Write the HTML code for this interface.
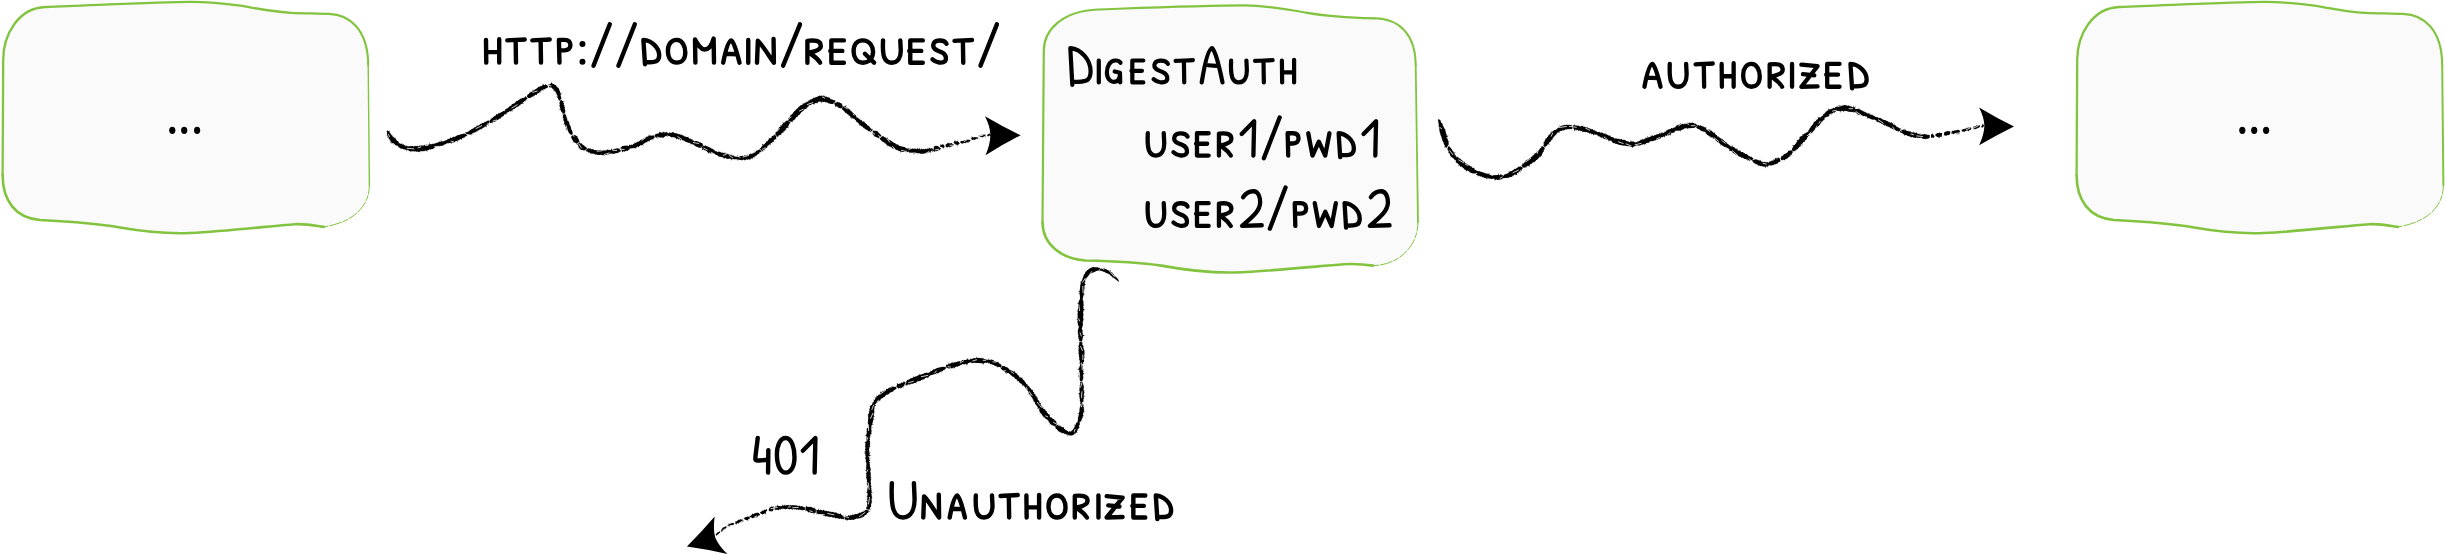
<!DOCTYPE html>
<html><head><meta charset="utf-8"><style>
html,body{margin:0;padding:0;background:#fff;width:2445px;height:554px;overflow:hidden;font-family:"Liberation Sans",sans-serif;}
svg{display:block}
</style></head><body>
<svg width="2445" height="554" viewBox="0 0 2445 554"><g><path d="M2.6,175 L3.2,60 C3.2,35 18,8 45.5,7 C100,5 160,2 190,1.9 C210,1.8 225,3.5 240.5,5.7 C255,8 275,12 291,12.8 C305,13.3 320,13.5 329,13.9 C350,14.5 368,30 368.2,65 L369.4,185 C369.5,205 355,222 324,226.9 C312,225 305,223.5 295,224.2 C270,226 230,231 190,233 C165,234 140,231 120,227.5 C95,223 70,221.5 40,220 C15,218 2.5,200 2.6,175 Z" fill="#fafafa" stroke="none"/><path d="M2.6,175 L3.2,60 C3.2,35 18,8 45.5,7 C100,5 160,2 190,1.9 C210,1.8 225,3.5 240.5,5.7 C255,8 275,12 291,12.8 C305,13.3 320,13.5 329,13.9" fill="none" stroke="#82c340" stroke-width="2.3" stroke-linecap="round"/><path d="M329,13.9 C350,14.5 368,30 368.2,65" fill="none" stroke="#82c340" stroke-width="2.1" stroke-linecap="round"/><path d="M368.2,65 L369.4,185" fill="none" stroke="#82c340" stroke-width="1.4" stroke-linecap="round"/><path d="M369.4,185 C369.5,205 355,222 324,226.9" fill="none" stroke="#82c340" stroke-width="1.0" stroke-linecap="round" stroke-dasharray="9 2 5 2 12 2"/><path d="M324,226.9 C312,225 305,223.5 295,224.2 C270,226 230,231 190,233 C165,234 140,231 120,227.5 C95,223 70,221.5 40,220 C15,218 2.5,200 2.6,175" fill="none" stroke="#82c340" stroke-width="2.6" stroke-linecap="round"/></g><g><path d="M1042.5,222 L1043.8,50.5 C1044,30 1062,11 1098,9.5 C1140,8 1200,5.5 1245,5.4 C1265,5.5 1285,9 1305.8,12.6 C1325,16 1340,17.5 1375,18.3 C1400,19 1415.5,35 1415.7,65 L1418,222 C1418,245 1400,265 1373,265.6 C1365,264.5 1355,263.6 1343.7,264.3 C1310,267 1270,271 1234.6,272.5 C1210,273 1185,270 1161.4,265.6 C1140,262.5 1110,261 1085.5,260.5 C1062,259 1042.6,245 1042.5,222 Z" fill="#fafafa" stroke="none"/><path d="M1042.5,222 L1043.8,50.5 C1044,30 1062,11 1098,9.5 C1140,8 1200,5.5 1245,5.4 C1265,5.5 1285,9 1305.8,12.6 C1325,16 1340,17.5 1375,18.3" fill="none" stroke="#82c340" stroke-width="2.2" stroke-linecap="round"/><path d="M1375,18.3 C1400,19 1415.5,35 1415.7,65" fill="none" stroke="#82c340" stroke-width="2.0" stroke-linecap="round"/><path d="M1415.7,65 L1418,222" fill="none" stroke="#82c340" stroke-width="1.8" stroke-linecap="round"/><path d="M1418,222 C1418,245 1400,265 1373,265.6" fill="none" stroke="#82c340" stroke-width="1.0" stroke-linecap="round" stroke-dasharray="9 2 5 2 12 2"/><path d="M1373,265.6 C1365,264.5 1355,263.6 1343.7,264.3 C1310,267 1270,271 1234.6,272.5 C1210,273 1185,270 1161.4,265.6 C1140,262.5 1110,261 1085.5,260.5 C1062,259 1042.6,245 1042.5,222" fill="none" stroke="#82c340" stroke-width="2.6" stroke-linecap="round"/></g><g transform="translate(2074,0)"><path d="M2.6,175 L3.2,60 C3.2,35 18,8 45.5,7 C100,5 160,2 190,1.9 C210,1.8 225,3.5 240.5,5.7 C255,8 275,12 291,12.8 C305,13.3 320,13.5 329,13.9 C350,14.5 368,30 368.2,65 L369.4,185 C369.5,205 355,222 324,226.9 C312,225 305,223.5 295,224.2 C270,226 230,231 190,233 C165,234 140,231 120,227.5 C95,223 70,221.5 40,220 C15,218 2.5,200 2.6,175 Z" fill="#fafafa" stroke="none"/><path d="M2.6,175 L3.2,60 C3.2,35 18,8 45.5,7 C100,5 160,2 190,1.9 C210,1.8 225,3.5 240.5,5.7 C255,8 275,12 291,12.8 C305,13.3 320,13.5 329,13.9" fill="none" stroke="#82c340" stroke-width="2.3" stroke-linecap="round"/><path d="M329,13.9 C350,14.5 368,30 368.2,65" fill="none" stroke="#82c340" stroke-width="2.1" stroke-linecap="round"/><path d="M368.2,65 L369.4,185" fill="none" stroke="#82c340" stroke-width="2.0" stroke-linecap="round"/><path d="M369.4,185 C369.5,205 355,222 324,226.9" fill="none" stroke="#82c340" stroke-width="1.0" stroke-linecap="round" stroke-dasharray="9 2 5 2 12 2"/><path d="M324,226.9 C312,225 305,223.5 295,224.2 C270,226 230,231 190,233 C165,234 140,231 120,227.5 C95,223 70,221.5 40,220 C15,218 2.5,200 2.6,175" fill="none" stroke="#82c340" stroke-width="2.6" stroke-linecap="round"/></g><ellipse cx="172.3" cy="130.3" rx="4.2" ry="4.6" fill="#fff"/><ellipse cx="172.3" cy="130.3" rx="3.1" ry="3.6" fill="#000"/><ellipse cx="184.2" cy="130.3" rx="4.2" ry="4.6" fill="#fff"/><ellipse cx="184.2" cy="130.3" rx="3.1" ry="3.6" fill="#000"/><ellipse cx="197.1" cy="130.3" rx="4.2" ry="4.6" fill="#fff"/><ellipse cx="197.1" cy="130.3" rx="3.1" ry="3.6" fill="#000"/><ellipse cx="2242.3" cy="130.3" rx="4.2" ry="4.6" fill="#fff"/><ellipse cx="2242.3" cy="130.3" rx="3.1" ry="3.6" fill="#000"/><ellipse cx="2254.2" cy="130.3" rx="4.2" ry="4.6" fill="#fff"/><ellipse cx="2254.2" cy="130.3" rx="3.1" ry="3.6" fill="#000"/><ellipse cx="2266.1" cy="130.3" rx="4.2" ry="4.6" fill="#fff"/><ellipse cx="2266.1" cy="130.3" rx="3.1" ry="3.6" fill="#000"/><path d="M386.9,130.8 L387.1,131.1 L386.6,131.7 L386.7,132.2 L387.3,132.4 L387.0,132.9 L387.1,133.4 L386.7,134.0 L387.4,134.1 L387.1,134.7 L386.3,135.6 L387.6,135.5 L387.6,136.0 L388.0,136.3 L386.9,137.5 L388.1,137.2 L388.6,137.4 L388.7,137.9 L388.9,138.4 L388.7,139.1 L389.4,139.2 L389.6,139.6 L389.9,140.0 L389.7,140.8 L390.4,140.6 L390.6,141.0 L390.9,141.3 L389.8,143.0 L391.1,142.3 L391.7,142.4 L391.8,142.9 L391.3,144.1 L392.8,143.1 L393.1,143.4 L393.1,144.0 L393.9,143.9 L393.7,144.7 L394.2,144.8 L394.7,144.9 L395.0,145.2 L395.4,145.4 L395.8,145.7 L396.5,145.5 L396.9,145.7 L397.4,145.8 L399.0,143.0 L398.9,142.5 L398.5,142.4 L398.5,141.8 L398.3,141.4 L398.0,141.2 L397.8,140.9 L397.3,140.9 L396.9,140.8 L396.6,140.5 L396.8,139.8 L396.3,139.7 L396.0,139.5 L395.7,139.2 L395.9,138.5 L395.8,138.1 L395.0,138.4 L394.6,138.2 L394.8,137.4 L394.0,137.7 L393.7,137.4 L393.6,137.0 L393.4,136.7 L392.8,136.8 L392.6,136.4 L392.6,135.9 L392.6,135.6 L391.9,135.7 L391.9,135.2 L391.5,135.1 L391.0,134.9 L391.4,134.3 L391.0,134.1 L390.9,133.7 L390.6,133.4 L390.0,133.3 L389.6,133.1 L390.0,132.4 L389.5,132.2 L389.4,131.9 L389.7,131.3 L389.8,130.8 L387.9,131.2 L387.8,130.7 L387.8,130.3Z M397.2,145.1 L397.6,145.4 L397.8,145.8 L398.0,146.4 L398.4,146.5 L398.5,147.4 L399.2,147.1 L399.3,147.8 L399.8,147.9 L400.2,148.3 L400.5,148.8 L401.2,148.2 L401.4,149.0 L402.1,148.5 L402.5,148.7 L402.9,149.3 L403.4,149.0 L403.8,149.5 L404.2,149.6 L404.7,149.3 L405.1,149.8 L405.6,149.5 L406.0,149.7 L406.6,149.3 L407.1,148.9 L406.4,146.8 L406.0,146.7 L405.8,145.9 L405.5,145.5 L405.2,145.5 L404.8,145.2 L404.5,145.3 L404.0,145.4 L404.1,143.9 L403.5,144.6 L403.2,144.6 L402.9,144.3 L402.4,144.9 L402.2,144.1 L402.5,142.7 L401.5,144.1 L401.1,144.1 L401.1,143.5 L400.6,143.7 L400.2,143.7 L399.9,143.5 L399.7,143.1 L399.0,143.6 L398.4,143.7 L398.1,143.4Z M406.4,149.7 L406.5,151.7 L407.3,149.7 L407.7,149.8 L408.0,150.5 L408.5,150.1 L408.8,150.8 L409.2,150.7 L409.6,151.2 L410.1,150.9 L410.3,152.7 L410.9,151.0 L411.3,151.3 L411.7,151.6 L412.1,150.9 L412.5,151.3 L412.9,151.7 L413.4,151.1 L413.8,151.5 L414.2,151.5 L414.6,151.4 L415.0,151.2 L415.4,151.6 L415.9,151.3 L416.3,151.4 L416.7,152.0 L417.1,151.8 L417.5,151.5 L418.0,151.8 L418.4,151.9 L418.8,151.8 L419.3,152.4 L419.7,151.6 L420.1,151.8 L420.5,151.1 L420.9,151.3 L421.4,151.5 L421.8,151.0 L422.2,151.0 L422.7,151.5 L423.0,151.1 L423.5,151.3 L423.9,151.3 L424.4,151.3 L424.7,150.8 L425.1,150.7 L425.5,150.8 L425.9,150.4 L426.3,150.4 L427.1,151.9 L427.3,150.9 L427.5,149.8 L427.9,150.1 L428.3,150.1 L428.8,150.1 L429.1,149.7 L429.4,149.3 L429.9,149.6 L430.3,149.5 L430.7,149.6 L431.0,149.1 L431.5,149.4 L431.8,148.9 L432.3,149.1 L432.6,148.9 L433.2,149.6 L433.3,148.3 L433.7,148.2 L434.2,148.4 L434.3,147.4 L434.8,147.4 L435.2,147.4 L435.5,147.0 L435.8,146.8 L435.0,144.1 L434.3,143.4 L434.0,143.8 L433.7,144.2 L433.1,143.6 L432.7,143.6 L432.4,144.1 L432.0,143.9 L431.7,144.4 L431.2,144.1 L430.7,144.0 L430.3,143.9 L430.1,144.7 L429.1,142.3 L429.2,144.7 L428.8,144.7 L428.4,144.7 L427.9,144.3 L427.7,145.0 L427.3,145.2 L426.7,144.6 L426.3,144.5 L426.0,145.2 L425.6,145.2 L425.1,144.7 L424.7,144.8 L424.4,145.1 L424.1,145.6 L423.7,145.8 L423.2,145.3 L422.8,145.4 L422.4,145.3 L422.1,145.9 L421.7,145.6 L421.3,145.6 L420.8,144.4 L420.6,145.9 L420.2,146.3 L419.8,145.9 L419.4,145.5 L419.0,145.5 L418.7,146.3 L418.3,146.4 L417.9,146.0 L417.5,145.6 L417.1,146.5 L416.7,145.8 L416.3,146.3 L415.9,145.8 L415.5,146.3 L415.1,145.9 L414.7,145.8 L414.3,146.4 L413.9,146.3 L413.5,146.4 L413.1,146.5 L412.8,146.0 L412.4,145.7 L412.0,146.3 L411.6,146.2 L411.2,145.8 L410.8,146.6 L410.4,145.9 L410.0,146.1 L409.6,146.1 L409.2,146.4 L408.8,146.4 L408.4,146.1 L408.0,146.4 L407.7,145.8 L407.2,146.2 L406.8,146.4 L406.8,144.7 L406.0,146.5Z M435.3,146.7 L435.7,146.8 L436.1,146.7 L436.6,146.8 L437.0,146.9 L437.5,147.0 L437.9,146.8 L438.2,146.4 L438.7,146.5 L439.2,146.8 L439.6,146.7 L440.0,146.6 L440.3,146.4 L440.7,146.1 L441.1,146.0 L441.5,145.8 L441.9,145.7 L442.3,145.7 L442.8,145.7 L443.1,145.4 L443.5,145.5 L443.7,144.7 L444.1,144.5 L444.6,144.7 L444.9,144.3 L445.3,144.1 L444.3,141.4 L443.7,141.0 L443.4,141.4 L442.9,141.1 L442.6,141.6 L442.2,141.7 L441.7,141.3 L440.8,140.0 L440.8,141.3 L440.6,141.9 L440.2,141.9 L439.6,141.5 L439.3,141.7 L438.8,141.7 L438.6,142.3 L438.2,142.5 L437.9,142.8 L437.3,142.3 L437.0,142.7 L436.7,143.2 L436.2,142.8 L435.8,143.0 L435.5,143.4 L435.1,143.3 L434.7,143.6 L434.5,144.5Z M444.9,144.5 L445.3,144.2 L445.6,143.9 L446.2,144.3 L446.4,143.7 L446.7,143.3 L447.2,143.3 L447.6,143.2 L448.1,143.3 L448.5,143.2 L448.9,143.2 L449.3,143.1 L449.8,143.2 L450.1,142.7 L450.7,143.0 L451.5,144.1 L451.6,143.0 L451.8,142.4 L452.3,142.6 L452.7,142.5 L453.2,142.6 L453.6,142.4 L454.1,142.5 L454.4,142.2 L454.8,142.1 L455.0,141.4 L455.4,141.2 L455.9,141.3 L456.3,141.2 L456.6,140.7 L457.8,142.6 L457.4,140.5 L457.9,140.6 L458.4,140.6 L458.6,140.1 L459.0,140.0 L459.3,139.6 L459.8,139.7 L460.2,139.3 L460.5,139.0 L461.1,139.3 L461.7,139.9 L461.9,139.2 L462.0,138.2 L462.4,138.1 L463.0,138.5 L463.4,138.3 L463.5,137.5 L464.1,137.7 L464.4,137.4 L464.8,137.2 L465.0,136.7 L465.3,136.3 L465.8,136.4 L466.3,136.4 L466.5,135.8 L467.0,136.0 L467.1,135.2 L467.7,135.6 L464.9,133.4 L464.6,133.6 L464.3,133.8 L463.6,133.4 L463.4,133.8 L463.1,134.1 L462.5,133.7 L462.3,134.1 L461.8,134.0 L461.6,134.5 L461.0,134.1 L460.7,134.3 L460.3,134.6 L459.9,134.6 L459.6,134.9 L459.3,135.1 L458.8,134.8 L458.5,135.3 L458.0,135.1 L457.6,135.1 L457.5,135.8 L456.9,135.4 L456.6,135.7 L456.2,135.7 L455.8,135.7 L455.6,136.4 L455.2,136.5 L454.8,136.4 L454.5,136.6 L454.1,136.9 L453.6,136.5 L453.3,136.9 L453.1,137.3 L452.5,137.0 L452.4,137.7 L451.9,137.7 L451.5,137.7 L451.3,138.2 L450.7,137.8 L450.0,137.0 L450.1,138.2 L449.8,138.7 L449.3,138.5 L449.1,139.1 L448.7,139.0 L448.2,138.8 L447.8,138.9 L447.5,139.2 L447.3,139.6 L447.0,140.0 L446.5,139.8 L446.3,140.5 L445.9,140.4 L445.5,140.5 L444.9,140.0 L444.8,141.0 L444.5,141.1 L444.1,141.1 L443.6,141.0Z M468.0,134.6 L468.4,134.5 L468.6,134.2 L469.1,134.3 L469.6,134.5 L470.1,134.5 L470.4,134.4 L471.4,135.7 L471.1,134.1 L471.4,133.8 L472.4,134.9 L472.0,133.3 L472.3,133.0 L472.9,133.5 L473.2,133.3 L473.6,133.2 L473.6,132.4 L474.0,132.3 L474.8,132.9 L474.8,132.2 L475.2,132.2 L475.7,132.3 L475.9,131.8 L476.1,131.5 L476.4,131.2 L477.1,131.7 L477.3,131.4 L477.5,130.8 L477.8,130.6 L478.2,130.6 L478.5,130.3 L478.8,130.2 L479.2,130.1 L479.5,129.8 L479.8,129.6 L480.3,129.7 L480.4,129.1 L481.1,129.6 L481.3,129.2 L481.6,128.9 L481.9,128.7 L482.1,128.2 L482.7,128.5 L482.9,128.1 L483.0,127.6 L483.7,128.0 L483.8,127.5 L484.0,127.0 L484.6,127.4 L484.6,126.6 L485.0,126.5 L485.3,126.2 L486.4,127.5 L486.5,126.9 L486.6,126.2 L486.4,125.3 L486.9,125.3 L487.0,124.8 L487.4,124.7 L487.8,124.7 L488.9,125.8 L488.2,123.8 L488.7,124.0 L489.0,123.8 L489.1,123.1 L489.9,120.7 L489.4,120.7 L488.6,120.3 L488.5,120.8 L487.9,120.7 L487.3,120.6 L487.3,121.3 L486.5,120.9 L486.4,121.6 L486.1,121.8 L485.7,122.1 L484.9,121.6 L484.6,121.9 L484.5,122.5 L484.0,122.4 L483.7,122.8 L483.4,123.1 L482.7,122.8 L482.5,123.3 L481.6,122.7 L481.7,123.6 L481.5,124.1 L480.8,123.8 L480.5,124.1 L480.0,124.1 L479.8,124.6 L479.5,124.9 L479.1,125.0 L478.7,125.3 L478.5,125.7 L477.8,125.4 L477.7,126.0 L476.6,124.8 L476.8,126.1 L476.5,126.6 L476.0,126.5 L475.8,127.0 L475.4,127.2 L474.8,126.9 L474.4,127.1 L474.4,127.9 L473.8,127.7 L473.6,128.3 L473.2,128.5 L472.9,128.7 L472.4,128.7 L472.0,128.8 L471.5,128.8 L471.4,129.5 L471.0,129.8 L470.5,129.7 L470.2,130.0 L469.6,129.8 L469.5,130.5 L469.1,130.7 L468.8,131.2 L468.3,131.0 L468.0,131.4 L467.6,131.5 L467.3,131.8 L466.9,132.0 L466.5,132.2 L466.1,132.2 L465.4,131.8 L465.7,133.5Z M489.8,123.5 L490.6,124.1 L490.6,123.2 L490.9,122.9 L491.5,123.0 L491.7,122.6 L492.9,123.7 L492.4,122.1 L493.0,122.2 L493.3,122.0 L493.7,121.8 L494.1,121.7 L494.8,122.1 L495.0,121.5 L495.4,121.4 L495.8,121.2 L496.2,121.0 L496.3,120.4 L496.8,120.3 L497.1,120.0 L497.5,120.0 L498.1,120.0 L498.3,119.5 L498.7,119.5 L498.8,118.8 L499.3,118.8 L499.8,118.8 L500.3,118.8 L500.4,118.2 L501.0,118.3 L501.1,117.7 L501.3,117.2 L501.6,117.0 L502.0,116.7 L502.5,116.7 L502.7,116.2 L503.2,116.2 L503.5,116.0 L503.7,115.5 L504.0,115.2 L504.1,114.6 L504.3,114.2 L505.0,114.5 L505.4,114.3 L505.7,114.0 L506.0,113.7 L504.8,110.6 L504.5,110.7 L504.3,111.2 L503.8,111.1 L503.4,111.1 L502.7,110.9 L502.8,111.8 L502.4,111.8 L502.1,112.1 L501.5,111.9 L501.3,112.3 L500.8,112.3 L500.5,112.5 L500.4,113.1 L500.0,113.1 L499.6,113.2 L498.8,112.7 L498.8,113.5 L498.3,113.4 L497.9,113.5 L497.7,113.9 L497.5,114.4 L497.1,114.5 L496.3,114.0 L495.8,113.9 L496.2,115.1 L495.7,115.2 L495.6,115.8 L495.2,115.8 L495.0,116.3 L494.3,115.9 L494.0,116.1 L493.8,116.4 L493.7,117.1 L493.1,116.9 L493.1,117.6 L492.6,117.5 L492.4,117.9 L491.7,117.7 L491.8,118.5 L491.7,119.1 L490.6,118.1 L491.1,119.6 L490.4,119.2 L490.3,119.9 L490.0,120.0Z M505.6,114.0 L506.4,114.4 L506.4,113.7 L506.6,113.2 L506.6,112.5 L507.4,112.9 L507.4,112.2 L507.9,112.2 L508.3,112.1 L508.7,111.9 L509.0,111.6 L509.4,111.5 L509.6,111.1 L510.1,111.1 L511.4,112.3 L510.8,110.5 L511.2,110.4 L512.6,111.7 L512.1,110.3 L512.7,110.4 L512.6,109.6 L512.9,109.3 L513.5,109.4 L513.6,108.8 L514.3,109.1 L514.6,108.9 L514.8,108.5 L515.0,108.0 L515.5,108.0 L516.0,108.0 L516.1,107.5 L516.4,107.2 L516.8,106.9 L517.2,106.9 L517.5,106.6 L518.1,106.8 L518.5,106.6 L518.6,106.0 L519.0,105.9 L519.2,105.5 L519.6,105.2 L520.1,105.4 L520.3,104.9 L520.6,104.6 L520.8,104.2 L521.1,103.8 L521.7,104.0 L522.2,104.0 L522.5,103.7 L522.8,103.5 L523.0,103.0 L524.2,104.0 L523.4,102.2 L524.1,102.4 L524.0,101.5 L524.4,101.4 L524.9,101.3 L525.6,101.8 L525.6,101.0 L525.9,100.7 L526.3,100.5 L526.4,100.0 L526.4,99.2 L526.9,99.2 L527.2,98.9 L527.5,98.6 L525.5,96.1 L525.3,96.5 L525.0,96.8 L524.8,97.2 L524.6,97.5 L524.2,97.7 L523.6,97.5 L523.5,98.0 L523.1,98.2 L522.4,97.8 L522.1,98.0 L521.8,98.4 L521.7,98.8 L521.0,98.6 L520.6,98.6 L520.2,98.8 L520.1,99.4 L519.8,99.6 L519.3,99.6 L518.9,99.6 L518.7,100.1 L518.3,100.3 L518.0,100.4 L517.9,101.0 L517.2,100.7 L517.0,101.1 L516.4,101.0 L516.1,101.2 L515.9,101.6 L515.7,102.1 L515.4,102.4 L515.0,102.4 L514.9,103.0 L514.5,103.2 L513.9,102.9 L513.9,103.6 L513.4,103.7 L513.0,103.7 L512.7,104.0 L512.3,104.1 L511.8,104.1 L511.8,104.8 L511.4,104.9 L511.4,105.5 L510.9,105.5 L510.7,106.0 L510.2,105.9 L510.0,106.3 L509.6,106.5 L509.0,106.4 L509.1,107.1 L508.8,107.5 L508.4,107.6 L508.0,107.6 L507.7,107.9 L507.6,108.4 L507.0,108.3 L506.7,108.6 L506.4,108.7 L506.2,109.2 L505.7,109.2 L505.0,108.9 L505.4,110.1 L505.2,110.6 L504.8,110.7 L504.5,111.0Z M528.1,97.9 L528.6,98.0 L529.2,98.1 L529.7,98.1 L529.9,97.7 L530.9,98.5 L530.6,97.3 L531.1,97.3 L531.6,97.3 L531.9,97.1 L531.9,96.4 L532.4,96.4 L533.8,97.7 L533.1,96.0 L533.6,96.0 L533.9,95.6 L534.5,95.9 L534.7,95.4 L534.9,95.0 L535.1,94.6 L535.8,94.9 L536.2,94.7 L537.1,95.5 L536.7,94.1 L537.1,93.9 L537.2,93.3 L538.1,94.0 L538.1,93.3 L538.6,93.3 L538.7,92.7 L539.1,92.5 L539.6,92.6 L539.6,91.8 L540.8,93.0 L540.4,91.5 L540.8,91.5 L541.2,91.4 L541.4,90.9 L541.8,90.8 L542.1,90.6 L542.5,90.5 L542.8,90.2 L543.8,91.2 L543.3,89.5 L543.8,89.7 L544.2,89.5 L544.5,89.5 L544.7,88.9 L545.0,88.8 L545.6,89.1 L545.8,88.8 L545.9,88.0 L546.3,88.3 L546.6,88.1 L546.9,88.0 L547.2,88.0 L547.5,87.5 L547.9,87.5 L548.2,86.9 L547.0,85.1 L546.6,85.0 L546.0,84.6 L545.5,84.6 L545.0,84.2 L544.8,85.1 L544.3,85.2 L543.7,84.8 L542.7,83.4 L542.8,84.9 L542.6,85.5 L542.0,85.2 L541.9,86.0 L541.4,86.0 L541.0,86.1 L540.5,86.1 L540.2,86.4 L539.9,86.7 L539.5,86.8 L538.7,86.2 L538.8,87.1 L538.3,87.1 L538.1,87.5 L537.6,87.6 L537.6,88.2 L536.9,87.9 L536.9,88.6 L536.2,88.4 L536.2,89.1 L535.6,88.9 L535.5,89.4 L535.0,89.4 L534.7,89.7 L534.3,89.8 L534.2,90.3 L533.9,90.5 L533.1,90.2 L532.3,89.6 L532.8,91.1 L532.5,91.4 L532.2,91.6 L531.8,91.8 L531.6,92.1 L530.9,91.8 L530.5,91.9 L530.4,92.5 L529.9,92.4 L529.7,92.8 L529.3,92.9 L529.0,93.2 L529.0,93.9 L528.7,94.2 L528.0,93.9 L528.0,94.6 L527.4,94.5 L527.5,95.3 L527.2,95.6 L526.9,95.8 L526.9,96.5Z M549.1,87.0 L549.5,87.2 L549.9,87.4 L550.3,87.6 L550.6,87.3 L550.9,87.6 L551.2,87.5 L551.5,87.6 L551.6,88.0 L551.9,87.8 L552.1,88.1 L552.3,88.2 L551.8,89.4 L552.7,88.6 L552.8,89.0 L553.3,88.8 L553.6,89.0 L553.2,89.7 L553.6,89.8 L553.1,90.6 L554.3,90.2 L554.5,90.4 L554.2,91.0 L554.6,91.2 L554.7,91.6 L555.4,91.6 L555.4,92.0 L555.0,92.6 L555.7,92.7 L555.5,93.2 L555.7,93.5 L555.6,93.9 L556.0,94.2 L556.0,94.6 L556.6,94.8 L556.8,95.2 L557.0,95.5 L556.7,96.0 L556.8,96.5 L556.7,96.9 L557.2,97.2 L557.0,97.7 L558.0,97.8 L558.1,98.2 L557.9,98.7 L558.5,98.9 L558.0,99.5 L558.9,99.7 L558.7,100.2 L559.1,100.5 L559.2,100.9 L561.3,98.5 L561.6,98.0 L561.0,97.8 L561.4,97.3 L561.1,96.9 L560.7,96.6 L561.1,96.1 L560.6,95.8 L560.6,95.4 L560.5,95.0 L560.9,94.4 L562.1,93.6 L561.0,93.6 L560.2,93.4 L560.4,92.9 L560.4,92.4 L560.1,92.0 L560.0,91.6 L560.2,91.1 L559.9,90.7 L559.2,90.6 L559.0,90.2 L559.5,89.4 L558.9,89.2 L558.6,88.8 L558.8,88.2 L558.6,87.9 L558.0,87.6 L557.4,87.5 L557.2,87.0 L556.9,86.7 L556.6,86.3 L556.2,86.0 L556.1,85.4 L555.7,85.0 L555.0,85.1 L554.8,84.4 L554.1,84.5 L553.7,83.8 L552.9,84.2 L552.7,83.5 L552.1,83.6 L551.7,82.1 L550.9,83.6 L550.4,83.8 L550.0,84.1 L549.5,84.4 L549.1,84.5 L548.7,84.5 L548.3,84.2 L547.8,83.0Z M559.9,101.4 L559.4,101.9 L559.8,102.2 L559.6,102.6 L559.5,103.0 L559.5,103.4 L559.3,103.9 L559.8,104.1 L559.8,104.5 L559.1,105.1 L559.3,105.4 L559.4,105.8 L559.7,106.1 L559.3,106.6 L560.1,106.8 L559.8,107.3 L559.9,107.7 L560.4,107.9 L560.1,108.4 L560.4,108.7 L560.2,109.2 L558.6,110.0 L560.9,109.8 L560.9,110.2 L560.8,110.6 L560.5,111.1 L561.2,111.3 L561.4,111.6 L561.4,112.0 L561.9,112.3 L562.2,112.6 L562.4,113.0 L562.7,113.3 L562.5,113.7 L562.6,114.1 L565.9,113.0 L564.7,113.0 L565.3,112.3 L565.2,111.9 L565.1,111.5 L565.5,111.0 L565.0,110.6 L565.4,110.1 L565.0,109.8 L564.8,109.4 L565.0,108.9 L564.4,108.6 L564.5,108.2 L565.1,107.6 L564.9,107.2 L564.8,106.8 L564.2,106.5 L564.2,106.1 L564.7,105.5 L564.2,105.2 L563.9,104.8 L563.6,104.5 L563.7,104.0 L564.0,103.5 L563.9,103.1 L563.2,102.8 L562.9,102.4 L564.7,101.6 L563.0,101.5 L562.9,101.1 L562.0,100.9 L562.0,100.4 L561.5,100.1 L561.4,99.7 L561.0,99.4Z M562.4,114.8 L562.6,115.2 L563.1,115.5 L562.8,116.0 L563.1,116.3 L563.2,116.7 L562.6,117.3 L562.9,117.6 L562.9,118.1 L563.6,118.3 L563.2,118.8 L563.7,119.1 L563.1,119.7 L563.3,120.1 L563.5,120.5 L563.5,120.9 L563.8,121.2 L564.4,121.5 L564.0,122.0 L564.4,122.3 L564.2,122.8 L564.1,123.3 L564.2,123.7 L563.2,124.5 L564.9,124.3 L564.9,124.7 L565.3,125.0 L565.4,125.4 L565.0,126.0 L565.3,126.3 L565.4,126.7 L565.8,127.0 L566.0,127.4 L566.3,127.7 L566.4,128.1 L565.5,129.0 L566.5,129.0 L566.8,129.3 L565.6,130.3 L567.0,130.2 L567.5,130.4 L567.6,130.8 L568.2,131.0 L568.1,131.5 L568.5,131.8 L568.6,132.2 L568.7,132.7 L569.0,132.9 L569.4,133.2 L569.6,133.6 L569.6,134.1 L570.2,134.2 L570.4,134.6 L571.1,134.6 L570.9,135.2 L572.9,134.1 L572.9,133.7 L573.2,133.0 L572.8,132.8 L572.9,132.2 L572.6,132.0 L572.6,131.5 L572.2,131.3 L572.0,131.0 L571.9,130.6 L572.0,130.1 L571.6,129.9 L571.4,129.6 L571.4,129.1 L570.9,128.9 L571.1,128.4 L571.1,128.0 L571.0,127.6 L570.6,127.3 L570.9,126.8 L570.4,126.6 L570.5,126.1 L570.0,125.9 L570.5,125.3 L569.7,125.2 L569.8,124.7 L569.3,124.5 L569.4,124.0 L569.4,123.6 L569.6,123.1 L569.3,122.7 L568.9,122.4 L569.0,122.0 L568.4,121.7 L568.8,121.2 L568.1,121.0 L568.4,120.5 L567.7,120.3 L567.9,119.8 L568.1,119.3 L567.2,119.2 L567.9,118.6 L567.1,118.4 L567.3,117.9 L567.3,117.5 L566.8,117.2 L566.5,116.9 L566.7,116.4 L566.7,116.0 L565.9,115.8 L566.2,115.3 L566.1,114.9 L565.8,114.6 L565.0,114.4 L564.9,114.0Z M571.1,136.2 L571.6,136.3 L571.0,137.2 L571.3,137.6 L571.5,137.9 L571.4,138.5 L571.9,138.7 L572.0,139.2 L572.3,139.5 L572.3,140.0 L572.8,140.2 L572.8,140.7 L572.8,141.2 L573.7,141.1 L572.4,142.6 L574.2,141.8 L574.0,142.4 L574.7,142.5 L574.7,143.1 L575.6,142.8 L575.8,143.2 L576.5,143.2 L576.5,143.8 L576.1,144.6 L580.5,140.5 L579.2,141.1 L578.8,140.9 L579.1,140.2 L579.1,139.7 L578.5,139.7 L578.7,139.0 L578.2,139.0 L578.3,138.4 L578.1,138.0 L578.0,137.6 L577.4,137.6 L577.1,137.4 L577.8,136.3 L577.0,136.5 L576.8,136.2 L576.7,135.8 L575.8,136.0 L575.8,135.5 L575.4,135.3 L575.3,134.9 L574.3,135.1 L574.2,134.7 L574.0,134.4Z M576.5,145.1 L577.7,144.6 L577.8,144.9 L578.0,145.3 L578.3,145.5 L578.4,145.9 L578.4,146.4 L578.3,146.9 L578.7,147.1 L578.9,147.6 L578.5,148.8 L579.7,148.1 L579.8,148.7 L580.3,148.8 L580.3,149.4 L580.7,149.7 L581.1,149.8 L581.5,150.1 L582.0,150.0 L582.5,150.0 L583.0,149.8 L583.4,149.9 L583.3,151.0 L584.3,149.9 L584.3,150.7 L584.9,150.3 L587.8,148.0 L587.3,148.1 L586.8,148.3 L586.6,147.5 L586.2,147.4 L585.9,147.1 L585.7,146.5 L585.1,146.8 L584.7,146.6 L584.6,146.0 L584.3,145.7 L584.1,145.3 L583.7,145.3 L583.5,145.0 L583.0,145.2 L582.7,144.9 L582.7,144.3 L582.3,144.3 L582.1,144.0 L581.9,143.6 L581.6,143.4 L580.8,143.5 L580.4,143.3 L580.0,143.0 L580.0,142.4 L579.3,142.4Z M585.2,150.5 L585.7,150.4 L586.1,150.5 L586.4,150.9 L586.5,151.7 L587.0,151.7 L587.5,151.6 L587.7,152.1 L588.2,152.1 L587.9,154.0 L589.0,152.3 L589.4,152.3 L589.7,152.8 L590.0,153.3 L590.4,153.3 L590.9,153.4 L590.9,154.6 L591.8,153.1 L592.0,153.9 L592.6,153.4 L593.0,153.5 L593.4,153.6 L593.8,154.0 L594.2,154.0 L594.6,154.2 L595.0,154.3 L595.4,154.8 L595.8,154.8 L596.3,154.4 L596.8,154.4 L597.2,154.7 L597.6,154.9 L598.0,155.1 L598.5,155.0 L598.9,154.8 L599.3,155.0 L599.8,155.0 L600.2,154.8 L600.7,154.7 L601.1,155.3 L601.5,155.1 L602.0,155.1 L602.4,155.3 L602.9,155.3 L603.3,154.8 L603.7,155.2 L604.2,155.7 L604.6,155.1 L605.1,155.4 L605.4,154.4 L605.9,155.0 L606.3,154.9 L606.8,154.9 L607.2,154.8 L607.5,154.2 L607.9,153.9 L608.4,154.7 L608.8,154.1 L609.2,154.0 L609.6,154.3 L610.0,153.9 L610.4,153.7 L610.7,153.3 L611.0,152.9 L612.1,150.7 L611.1,148.0 L611.0,149.7 L610.7,150.2 L610.4,150.3 L609.9,150.0 L609.4,149.7 L609.0,149.7 L608.7,150.3 L608.3,150.0 L607.7,148.8 L607.5,150.0 L607.1,149.8 L606.8,150.4 L606.3,150.2 L605.8,149.4 L605.6,150.3 L605.3,150.7 L604.8,150.3 L604.5,150.8 L604.0,150.0 L603.7,150.5 L603.3,150.7 L603.0,150.3 L602.6,150.9 L602.3,150.7 L601.9,149.9 L601.5,150.3 L601.2,150.2 L600.8,150.6 L600.5,149.4 L600.1,150.0 L599.7,150.1 L599.3,150.3 L599.0,149.9 L598.6,150.4 L598.3,150.0 L597.8,150.6 L597.5,150.0 L597.2,150.1 L596.7,150.5 L596.3,150.4 L596.1,149.8 L595.6,150.1 L595.2,150.1 L594.8,150.1 L594.4,150.0 L594.1,149.9 L593.7,149.8 L593.5,149.2 L593.2,148.9 L592.6,149.4 L592.3,149.1 L591.8,149.3 L591.4,149.3 L591.1,149.2 L590.9,148.6 L590.5,148.3 L589.9,148.9 L589.6,148.7 L589.3,148.2 L588.9,148.3 L588.5,148.2 L587.8,148.8Z M610.6,153.1 L611.0,153.1 L611.7,153.9 L612.1,153.6 L612.6,153.8 L613.0,153.8 L613.5,153.9 L614.0,153.7 L614.4,153.6 L614.9,153.7 L615.4,153.6 L615.7,153.0 L616.2,153.1 L616.7,153.2 L617.1,153.1 L617.7,153.3 L618.0,152.6 L618.4,152.4 L618.9,152.7 L619.3,152.0 L619.7,151.8 L620.2,151.8 L620.6,151.6 L620.8,150.5 L619.8,149.5 L619.3,148.8 L618.7,148.1 L618.5,148.5 L618.1,148.7 L617.7,148.4 L617.3,148.1 L617.0,148.5 L616.6,148.5 L616.2,148.2 L616.0,148.9 L615.6,148.7 L615.1,148.4 L614.8,148.8 L614.5,149.0 L614.2,149.1 L613.7,148.7 L613.6,149.6 L613.2,149.5 L612.9,149.9 L612.5,149.9 L611.8,148.4 L611.9,150.6 L611.7,151.1Z M621.4,150.1 L622.4,152.4 L622.7,151.8 L623.1,151.5 L623.5,151.5 L623.8,151.1 L624.4,151.8 L624.8,151.6 L625.1,151.2 L625.6,151.2 L625.9,150.8 L626.3,150.8 L626.7,150.7 L627.2,151.0 L627.6,150.9 L627.9,150.5 L628.2,150.0 L628.6,149.7 L629.1,149.9 L629.4,149.4 L629.6,148.9 L629.8,148.0 L628.9,146.8 L628.0,145.4 L627.7,145.7 L627.3,145.8 L626.8,145.7 L626.3,145.4 L625.9,145.3 L625.6,145.8 L625.2,146.0 L624.6,145.4 L624.3,145.8 L624.0,146.2 L623.4,145.7 L623.1,146.0 L622.7,146.1 L622.3,146.1 L621.9,146.1 L621.7,147.1 L621.3,147.3 L620.9,147.4 L620.6,147.8 L620.1,147.4Z M629.5,148.8 L629.8,148.5 L630.3,148.7 L630.6,148.1 L631.1,148.4 L631.4,148.3 L632.0,148.6 L632.1,147.8 L632.8,148.4 L633.1,148.3 L633.4,147.9 L633.9,148.2 L634.4,148.2 L634.7,148.0 L635.1,147.9 L635.9,148.7 L635.8,147.3 L636.1,146.9 L637.0,147.9 L637.0,146.9 L637.3,146.7 L637.6,146.3 L638.7,147.6 L638.9,146.9 L639.0,146.2 L639.3,146.0 L639.8,146.0 L640.1,145.7 L640.3,145.1 L641.0,145.6 L641.4,145.4 L641.7,145.1 L642.1,145.0 L642.4,144.8 L643.6,146.0 L642.8,143.7 L643.5,144.2 L643.6,143.5 L644.0,143.4 L644.5,143.6 L644.6,142.9 L645.1,143.0 L645.1,142.3 L645.8,142.8 L646.1,142.5 L646.5,142.5 L646.8,142.1 L647.0,141.8 L647.2,141.3 L647.8,141.7 L648.1,141.5 L648.4,141.2 L648.7,141.0 L648.9,140.6 L649.9,142.0 L649.7,140.6 L650.0,140.4 L650.2,139.8 L650.7,140.1 L651.0,139.8 L651.3,139.4 L651.8,139.8 L652.2,139.6 L652.3,138.7 L653.3,140.5 L653.2,139.1 L653.6,139.0 L653.7,137.9 L654.1,138.0 L654.4,137.7 L654.8,137.7 L654.1,135.1 L653.9,135.5 L653.5,135.6 L653.0,135.6 L652.5,135.5 L652.1,135.5 L651.7,135.7 L651.3,135.6 L650.8,135.5 L650.4,135.7 L649.7,135.0 L649.6,135.9 L648.6,134.3 L649.0,136.5 L648.1,135.4 L648.1,136.6 L647.6,136.6 L647.2,136.7 L646.8,137.0 L646.0,136.3 L645.9,137.1 L645.4,137.2 L645.0,137.3 L644.8,137.8 L644.3,137.9 L643.9,137.9 L643.5,138.2 L643.5,139.1 L643.2,139.2 L642.7,139.2 L642.4,139.5 L641.7,139.2 L641.6,139.7 L641.1,139.8 L640.7,139.8 L640.5,140.3 L640.1,140.3 L639.7,140.5 L639.7,141.3 L639.1,141.1 L638.9,141.5 L638.7,141.8 L638.0,141.4 L637.8,141.8 L637.4,141.8 L637.0,141.9 L636.8,142.3 L636.4,142.5 L636.1,142.7 L635.8,143.0 L635.4,143.0 L634.5,141.8 L634.8,143.6 L634.4,143.6 L633.9,143.2 L633.7,143.7 L633.2,143.7 L633.0,144.4 L632.7,144.5 L632.1,144.0 L631.8,144.5 L631.4,144.5 L631.2,145.2 L630.7,144.8 L630.4,145.3 L630.1,145.5 L629.3,144.2 L629.1,145.2 L629.0,146.1 L628.6,146.3 L628.2,146.1Z M655.4,137.6 L655.7,137.3 L656.2,137.6 L656.6,137.9 L656.9,137.4 L657.3,137.4 L658.2,139.5 L658.0,137.5 L658.5,137.8 L658.9,138.0 L659.2,137.7 L659.5,137.3 L659.8,137.2 L660.3,137.5 L660.7,137.9 L661.0,137.6 L661.3,137.3 L661.7,137.7 L662.0,137.0 L662.5,138.4 L662.7,137.2 L663.1,138.0 L663.4,136.9 L663.9,138.3 L664.1,136.4 L664.5,137.0 L664.9,137.0 L665.2,136.1 L665.5,135.9 L665.9,136.1 L666.3,136.1 L666.6,136.1 L667.0,136.9 L669.0,133.1 L668.5,133.6 L668.1,132.4 L667.6,133.2 L667.2,132.4 L666.7,131.8 L666.2,132.2 L665.8,132.3 L665.3,132.3 L664.9,132.8 L664.4,132.0 L664.0,132.7 L663.5,131.9 L663.0,130.9 L662.7,132.8 L662.2,132.6 L661.7,132.5 L661.3,132.7 L660.7,132.5 L660.2,131.9 L659.8,132.5 L659.1,131.2 L659.0,133.4 L658.6,133.4 L658.0,133.0 L657.7,133.7 L657.3,133.8 L656.7,133.5 L656.4,134.1 L656.0,134.2 L655.4,133.7 L655.2,134.9 L654.6,134.5Z M666.5,135.7 L666.9,135.6 L667.3,136.5 L667.7,136.5 L668.1,136.0 L668.5,136.1 L668.9,136.6 L669.3,136.2 L669.7,136.2 L670.1,136.7 L670.4,137.0 L670.9,136.8 L671.2,137.2 L671.6,137.3 L672.0,137.4 L672.5,136.7 L672.7,137.5 L673.2,137.2 L673.6,137.3 L674.0,137.1 L674.3,137.7 L674.8,137.5 L675.1,137.9 L675.4,138.2 L676.0,137.6 L676.1,138.4 L676.2,139.8 L677.0,138.4 L677.4,138.5 L677.7,138.9 L678.0,139.1 L678.2,139.9 L679.0,138.6 L679.4,138.9 L679.6,139.5 L680.0,139.4 L680.4,139.5 L680.4,140.8 L681.1,140.1 L681.5,140.0 L682.0,139.8 L682.2,140.6 L682.7,140.3 L683.2,140.3 L683.6,140.3 L683.8,140.9 L684.3,140.8 L684.5,141.3 L685.0,141.3 L685.4,141.4 L685.6,142.0 L686.1,141.9 L686.5,142.1 L686.8,142.3 L687.2,142.4 L687.6,142.6 L688.2,142.3 L688.3,143.0 L688.8,142.9 L689.4,142.6 L689.6,143.3 L690.0,143.3 L690.4,143.4 L690.9,143.5 L690.6,145.0 L691.7,143.7 L692.0,144.0 L692.4,144.1 L692.6,144.7 L693.2,144.5 L693.5,144.7 L694.1,144.4 L694.6,144.3 L694.9,141.8 L694.6,141.6 L694.2,141.5 L694.0,141.1 L693.7,140.8 L693.5,140.4 L693.1,140.3 L692.6,140.5 L692.6,139.7 L692.3,139.4 L691.8,139.6 L691.6,139.1 L691.1,139.3 L690.9,138.7 L690.6,138.5 L689.9,139.0 L689.7,138.5 L689.3,138.4 L689.1,138.1 L688.7,137.9 L688.4,137.7 L688.5,136.6 L687.8,137.1 L687.4,137.1 L687.0,136.9 L686.6,136.9 L686.2,136.9 L685.9,136.6 L685.5,136.5 L685.1,136.5 L684.7,136.5 L684.4,136.2 L684.0,136.2 L683.8,135.6 L683.4,135.6 L682.9,135.7 L682.6,135.5 L682.3,135.1 L682.1,134.6 L681.5,135.0 L681.2,134.5 L680.7,135.0 L680.4,134.4 L680.1,134.2 L679.6,134.5 L679.3,133.8 L678.8,134.3 L678.4,134.2 L678.1,133.8 L677.8,133.4 L677.2,134.0 L677.0,133.3 L676.6,133.2 L676.1,133.5 L675.8,132.9 L675.3,133.6 L675.0,133.0 L674.5,133.2 L674.1,133.1 L673.9,131.8 L673.4,132.6 L673.0,132.5 L672.7,131.7 L672.2,132.5 L671.8,132.5 L671.3,133.0 L670.9,132.7 L670.5,132.8 L670.1,132.7 L669.7,131.8 L669.3,133.2 L668.8,133.6 L668.4,134.0Z M693.9,144.7 L694.3,144.8 L694.3,145.6 L694.8,145.4 L694.8,146.2 L695.1,146.3 L695.6,146.1 L695.9,146.2 L696.0,147.0 L696.5,146.8 L696.9,146.6 L697.2,146.8 L697.6,146.9 L697.8,147.3 L698.0,147.7 L698.6,147.2 L698.9,147.4 L699.1,148.0 L699.6,147.6 L699.9,147.7 L700.2,147.9 L703.3,145.5 L703.1,144.7 L702.7,144.4 L702.5,143.8 L702.3,143.1 L701.7,143.1 L701.2,143.1 L700.8,142.6 L700.5,142.3 L699.9,142.4 L699.4,142.4 L699.0,142.1 L698.6,141.8 L698.3,141.3 L697.7,141.6 L697.2,141.4 L696.8,141.1 L696.3,141.1 L695.9,140.9 L695.3,141.0 L694.8,140.9Z M701.2,147.5 L701.6,147.7 L701.9,148.1 L702.4,148.1 L701.7,150.4 L702.7,149.4 L703.1,149.5 L703.6,149.6 L703.9,149.8 L704.3,150.0 L704.7,150.2 L705.0,150.6 L705.6,150.3 L705.8,150.9 L706.3,150.9 L706.7,151.1 L706.9,151.6 L707.2,152.0 L707.8,151.7 L707.7,152.8 L708.4,152.5 L708.1,154.1 L709.2,152.8 L709.9,152.4 L710.2,152.8 L710.2,153.8 L710.9,153.2 L711.4,153.2 L711.9,153.3 L712.5,153.0 L712.7,153.7 L713.3,153.3 L713.7,153.6 L714.3,153.3 L715.6,151.3 L715.1,151.5 L714.9,150.9 L714.7,150.4 L714.5,149.9 L714.1,149.9 L713.9,149.5 L713.4,149.6 L713.0,149.5 L712.9,148.9 L712.4,148.9 L712.1,148.6 L712.1,147.9 L711.3,148.7 L711.0,148.3 L710.8,147.7 L710.4,147.9 L710.1,147.4 L709.7,147.5 L709.4,147.2 L709.0,147.1 L708.7,146.9 L708.3,146.7 L708.0,146.4 L707.6,146.5 L707.2,146.4 L707.1,145.6 L706.3,146.5 L706.1,146.0 L705.5,146.2 L705.8,144.8 L704.8,145.8 L704.2,146.2 L704.1,145.6Z M713.7,153.4 L713.9,154.0 L714.4,153.8 L714.9,153.8 L715.2,154.2 L715.4,154.8 L715.8,154.8 L716.2,155.1 L716.6,155.1 L717.1,155.1 L717.4,155.5 L717.8,155.6 L718.1,156.0 L718.6,156.0 L718.6,157.3 L719.4,156.2 L719.6,156.9 L720.2,156.5 L720.5,157.2 L721.1,156.7 L721.4,156.9 L721.8,157.0 L722.1,157.5 L722.6,157.3 L723.1,157.3 L723.4,157.8 L723.7,158.4 L724.1,158.4 L724.6,158.3 L725.0,158.2 L725.5,158.1 L725.9,158.0 L726.3,158.5 L726.6,158.8 L727.1,158.9 L727.5,158.8 L727.9,158.9 L728.4,158.9 L728.9,158.6 L729.3,158.5 L729.7,158.7 L730.1,158.9 L730.5,158.7 L730.9,158.8 L731.3,159.4 L731.5,160.7 L732.2,159.1 L732.6,159.3 L733.1,158.8 L733.4,159.3 L733.9,159.3 L734.3,159.3 L734.7,159.5 L735.1,159.4 L734.8,156.3 L734.4,156.4 L734.0,156.4 L733.7,155.6 L733.3,155.7 L733.1,154.4 L732.6,155.5 L732.2,155.8 L731.8,155.5 L731.5,155.0 L731.2,154.6 L730.7,155.3 L730.3,155.1 L730.1,154.3 L729.7,154.5 L729.2,154.7 L728.9,154.4 L728.5,154.6 L728.2,153.9 L727.7,154.5 L727.5,153.5 L727.2,153.4 L726.6,154.0 L726.3,153.7 L726.0,153.4 L725.5,153.8 L725.2,153.3 L725.2,151.7 L724.4,153.4 L724.0,153.3 L723.7,152.9 L723.4,152.7 L723.1,152.5 L722.6,152.8 L722.3,152.4 L721.9,152.6 L721.4,152.8 L721.0,152.7 L721.1,151.4 L720.3,152.6 L720.1,152.0 L719.7,152.0 L719.4,151.6 L719.0,151.6 L718.6,151.7 L718.1,151.8 L717.6,152.2 L717.2,152.0 L717.1,151.3 L716.8,151.2 L716.3,151.2 L715.8,151.4 L715.4,151.4 L715.3,150.6Z M734.6,159.3 L735.1,159.1 L735.4,159.6 L735.9,159.1 L736.3,159.7 L736.7,159.0 L737.1,159.2 L737.5,159.4 L737.9,160.9 L738.4,159.5 L738.8,159.4 L739.2,159.9 L739.6,159.7 L740.0,159.8 L740.4,160.1 L740.9,160.1 L741.3,160.4 L741.7,159.9 L742.1,159.7 L742.6,160.4 L743.0,159.7 L743.4,159.6 L743.9,160.0 L744.3,160.2 L744.8,160.2 L745.2,160.2 L745.6,159.6 L746.1,160.0 L746.4,159.4 L746.8,159.3 L747.4,160.0 L747.8,159.5 L748.2,159.3 L748.6,159.3 L749.4,160.1 L749.5,159.1 L750.4,160.3 L750.3,158.5 L750.9,159.0 L751.2,158.4 L751.6,158.3 L752.6,159.5 L752.5,158.2 L752.8,157.8 L753.1,157.3 L753.4,157.0 L754.6,158.4 L754.2,156.7 L754.6,156.6 L755.0,156.4 L755.5,156.4 L755.6,155.7 L755.9,155.5 L756.6,155.7 L756.8,155.3 L757.1,155.0 L757.2,154.4 L757.8,154.5 L758.0,154.1 L758.4,154.0 L758.7,153.7 L759.2,153.7 L759.4,153.2 L759.4,152.5 L759.7,152.2 L760.2,152.2 L760.8,152.2 L760.7,151.5 L761.4,151.7 L761.7,151.5 L759.4,148.9 L759.4,149.6 L759.0,149.7 L758.7,150.0 L758.0,149.8 L757.9,150.3 L757.7,150.6 L757.0,150.4 L756.6,150.5 L756.4,150.9 L755.9,150.8 L755.7,151.2 L755.6,151.9 L755.0,151.7 L754.7,151.9 L754.1,151.8 L753.9,152.1 L753.6,152.5 L753.3,152.7 L753.0,152.9 L752.4,152.8 L752.4,153.4 L751.5,152.7 L751.5,153.4 L751.1,153.4 L750.4,152.9 L750.5,153.9 L750.0,153.8 L749.9,154.5 L749.4,154.3 L749.0,154.1 L748.9,154.9 L748.5,154.9 L748.0,154.7 L747.7,154.9 L747.2,154.4 L747.1,155.3 L746.6,155.2 L746.3,155.5 L746.0,155.7 L745.5,155.3 L745.2,155.6 L744.8,155.6 L744.4,155.4 L744.1,155.3 L743.8,156.2 L743.4,156.3 L742.9,155.5 L742.6,155.5 L742.2,156.3 L741.9,156.0 L741.5,155.9 L741.1,156.0 L740.7,155.7 L740.3,155.9 L739.9,156.4 L739.5,156.1 L739.1,156.5 L738.7,156.6 L738.3,156.7 L738.0,154.8 L737.5,156.0 L737.1,156.7 L736.7,156.5 L736.3,156.3 L735.9,156.4 L735.5,156.8 L735.1,156.5 L734.7,156.2 L734.3,156.2Z M761.6,150.6 L763.3,152.0 L762.8,150.7 L762.8,150.1 L763.2,150.0 L764.3,150.7 L764.2,149.9 L764.4,149.5 L764.8,149.4 L764.8,148.8 L765.4,148.9 L765.5,148.3 L765.8,148.1 L766.1,147.8 L766.8,147.9 L767.0,147.5 L767.3,147.3 L767.4,146.9 L767.7,146.5 L768.1,146.4 L768.3,146.0 L768.7,145.9 L769.4,146.1 L769.1,145.2 L769.4,144.9 L770.1,145.1 L770.8,145.2 L770.7,144.5 L771.0,144.2 L770.9,143.6 L771.2,143.4 L771.4,143.0 L772.1,143.1 L773.0,143.5 L772.6,142.5 L772.5,141.9 L773.0,141.7 L773.4,141.7 L774.4,142.1 L773.7,140.8 L773.9,140.4 L774.0,140.0 L774.5,139.9 L774.5,139.4 L775.2,139.6 L775.6,139.4 L775.6,138.8 L776.8,139.5 L775.8,137.9 L776.3,137.9 L776.1,137.1 L776.8,137.2 L774.9,134.4 L774.5,134.5 L774.3,135.0 L774.2,135.4 L773.3,135.1 L773.3,135.7 L773.0,135.9 L772.3,135.9 L772.0,136.1 L771.7,136.3 L771.7,137.0 L771.6,137.4 L771.3,137.7 L770.8,137.8 L770.6,138.2 L769.9,138.0 L769.7,138.4 L768.2,137.5 L769.2,139.1 L768.6,139.1 L768.9,140.0 L768.0,139.7 L767.7,140.0 L768.0,140.8 L767.6,141.0 L767.2,141.2 L766.2,140.7 L766.8,141.9 L766.1,141.8 L765.9,142.2 L765.8,142.7 L765.5,142.9 L764.9,142.9 L765.0,143.6 L764.7,143.9 L764.1,143.9 L764.2,144.5 L763.9,144.8 L762.5,143.9 L761.8,143.8 L762.8,145.5 L762.4,145.6 L762.2,145.9 L761.7,146.0 L761.8,146.7 L761.6,147.1 L761.0,147.1 L761.0,147.7 L760.8,148.1 L760.4,148.2 L759.9,148.3 L759.8,148.8Z M777.5,137.2 L777.7,136.8 L777.8,136.3 L778.6,136.4 L778.3,135.6 L778.9,135.6 L779.5,135.5 L779.5,135.0 L780.1,135.0 L780.4,134.7 L781.7,135.2 L780.9,133.9 L781.1,133.5 L781.9,133.7 L781.9,133.1 L782.4,133.0 L782.6,132.5 L783.7,133.0 L783.2,132.0 L783.4,131.5 L784.0,131.6 L784.5,131.4 L784.5,130.9 L784.7,130.4 L785.1,130.3 L785.6,130.1 L786.3,130.2 L785.6,129.0 L785.8,128.6 L786.6,128.8 L786.3,127.9 L787.1,128.1 L787.4,127.8 L787.5,127.4 L788.7,127.9 L788.0,126.6 L787.9,126.0 L789.0,126.4 L788.3,125.3 L789.0,125.3 L789.1,124.9 L789.1,124.3 L789.4,124.0 L789.3,123.3 L790.1,123.5 L790.2,123.1 L790.2,122.5 L790.8,122.5 L787.0,120.3 L786.6,120.4 L786.4,120.8 L786.1,121.0 L785.8,121.3 L785.5,121.5 L785.2,121.8 L784.9,122.0 L785.0,122.6 L784.3,122.6 L783.8,122.7 L782.3,121.9 L783.5,123.4 L783.1,123.6 L782.7,123.8 L782.3,123.9 L782.1,124.2 L782.3,124.9 L782.0,125.2 L781.7,125.5 L781.3,125.6 L780.4,125.3 L780.5,125.9 L780.7,126.6 L780.3,126.8 L779.8,126.9 L779.8,127.3 L778.6,126.8 L779.3,128.0 L778.7,127.9 L778.5,128.2 L778.7,128.9 L778.2,129.0 L778.1,129.5 L777.8,129.7 L777.9,130.3 L777.6,130.5 L777.2,130.7 L777.2,131.2 L776.9,131.4 L776.4,131.5 L776.5,132.1 L775.6,131.8 L775.8,132.5 L775.6,132.8 L775.7,133.5 L775.5,133.7 L774.8,133.6Z M790.3,121.4 L791.2,121.7 L791.9,121.8 L793.0,122.3 L792.6,121.4 L792.6,120.8 L793.0,120.6 L793.4,120.5 L793.7,120.3 L794.2,120.2 L794.3,119.7 L794.8,119.6 L794.8,119.2 L795.1,118.9 L795.1,118.4 L795.9,118.6 L795.6,117.8 L796.1,117.7 L796.2,117.3 L796.6,117.1 L797.0,117.0 L797.3,116.7 L797.7,116.5 L797.9,116.2 L797.9,115.7 L798.0,115.3 L798.7,115.4 L798.8,114.9 L799.4,115.0 L799.6,114.7 L799.7,114.2 L800.1,114.2 L800.2,113.7 L800.7,113.6 L800.6,113.1 L801.0,112.9 L801.2,112.6 L801.3,112.1 L801.6,111.9 L802.1,111.9 L802.5,111.8 L802.4,111.2 L802.6,110.8 L803.2,110.9 L803.4,110.6 L803.8,110.6 L803.9,110.1 L804.2,109.8 L804.3,109.5 L804.5,109.2 L804.9,109.1 L805.3,109.0 L805.6,108.9 L806.0,108.8 L806.8,109.4 L806.4,108.1 L806.7,107.8 L807.0,107.6 L807.5,107.7 L807.5,107.1 L807.8,106.9 L807.9,106.4 L808.6,106.7 L808.6,106.0 L808.7,105.5 L809.1,105.5 L809.0,104.5 L808.7,102.4 L807.8,101.4 L807.5,101.8 L806.8,101.5 L806.8,102.3 L806.2,102.2 L805.7,102.3 L805.5,102.8 L805.2,103.0 L804.5,102.8 L804.4,103.4 L803.9,103.5 L803.5,103.7 L802.6,103.1 L802.9,104.4 L802.5,104.5 L802.1,104.8 L801.7,105.0 L801.2,105.1 L800.8,105.2 L800.4,105.5 L800.0,105.7 L799.8,106.1 L799.6,106.6 L798.9,106.5 L798.6,106.9 L798.5,107.4 L797.9,107.4 L798.0,108.0 L797.5,108.2 L797.3,108.6 L796.8,108.7 L796.4,108.9 L796.5,109.6 L795.9,109.6 L795.6,110.0 L795.5,110.4 L794.8,110.4 L795.0,111.1 L794.3,111.1 L794.1,111.5 L793.9,111.9 L793.4,111.9 L793.5,112.7 L793.0,112.7 L792.8,113.1 L792.8,113.7 L792.2,113.7 L792.2,114.3 L791.7,114.4 L791.5,114.8 L790.9,114.8 L790.6,115.1 L790.4,115.5 L790.5,116.2 L790.1,116.3 L789.9,116.7 L789.6,117.0 L789.5,117.5 L789.1,117.7 L788.8,118.0 L788.4,118.1 L788.1,118.4 L788.4,119.3 L788.2,119.6 L788.0,120.0 L787.8,120.5Z M808.6,104.7 L809.4,105.3 L809.6,104.9 L810.2,105.2 L810.5,104.9 L810.9,104.9 L811.0,104.3 L811.6,104.7 L811.8,104.2 L812.2,104.1 L812.7,104.2 L812.8,103.6 L813.4,104.1 L814.4,105.3 L814.1,103.7 L814.6,103.8 L814.9,103.7 L815.1,103.1 L815.5,103.1 L816.0,103.3 L816.3,103.2 L816.7,103.1 L816.9,102.6 L817.6,103.4 L817.8,102.7 L818.0,102.1 L818.2,101.7 L818.7,101.8 L819.0,101.7 L819.4,101.6 L819.8,101.7 L820.0,101.5 L820.4,101.8 L820.8,102.7 L820.8,101.6 L821.0,101.2 L821.2,101.6 L821.3,101.5 L821.3,102.8 L821.4,103.5 L822.2,101.7 L822.6,101.4 L822.8,102.1 L823.4,101.7 L823.6,102.2 L824.2,101.7 L824.6,101.7 L824.9,101.9 L825.3,102.0 L825.5,102.6 L826.0,102.3 L826.4,102.4 L826.8,102.3 L827.2,102.4 L827.5,102.7 L828.0,102.5 L828.0,103.5 L828.6,103.2 L829.0,103.0 L829.2,103.6 L829.6,103.6 L830.0,103.8 L830.4,103.9 L830.8,103.7 L831.1,104.1 L831.5,104.1 L832.1,103.6 L832.3,104.2 L832.8,103.9 L833.3,103.7 L835.4,101.6 L835.4,100.6 L834.9,100.6 L834.7,100.1 L834.1,100.4 L833.8,99.9 L833.6,99.5 L833.0,99.9 L832.8,99.2 L832.3,99.3 L832.0,99.0 L831.6,98.9 L831.1,98.8 L830.7,98.7 L830.3,98.6 L830.0,98.4 L829.8,97.6 L829.2,97.9 L829.1,97.0 L828.5,97.5 L828.1,97.3 L827.6,97.6 L827.3,97.1 L827.0,96.7 L826.6,96.6 L826.0,97.1 L825.7,96.5 L825.3,96.7 L825.0,96.3 L824.6,96.2 L824.2,96.1 L824.1,94.5 L823.2,96.5 L822.7,96.3 L822.3,95.5 L821.7,95.4 L820.9,95.9 L820.3,95.8 L819.7,95.5 L819.2,95.7 L818.7,96.1 L818.3,96.3 L817.8,96.3 L817.6,97.0 L817.0,96.6 L816.7,97.0 L816.3,97.2 L815.9,97.4 L815.4,97.3 L815.0,97.5 L814.7,97.7 L814.3,97.9 L813.8,97.6 L813.4,97.9 L813.1,98.3 L812.8,98.5 L812.5,99.1 L812.0,98.8 L811.7,99.2 L811.4,99.5 L810.7,99.1 L810.5,99.6 L810.2,100.0 L810.0,100.4 L809.5,100.4 L808.7,99.8 L808.6,100.5 L808.5,101.3 L808.1,101.4 L808.2,102.4Z M834.3,103.3 L834.4,104.2 L834.7,104.5 L834.8,105.3 L835.1,105.7 L835.5,105.8 L835.1,107.4 L836.0,106.5 L836.7,106.1 L836.7,106.9 L837.2,106.8 L837.7,106.7 L838.0,107.1 L838.3,107.4 L838.5,107.7 L838.9,107.9 L839.2,108.1 L839.6,108.3 L840.2,108.1 L840.5,108.4 L841.3,108.0 L841.7,108.2 L842.9,106.4 L842.6,106.2 L842.5,105.7 L842.5,105.0 L842.2,104.7 L842.0,104.3 L841.6,104.2 L841.6,103.6 L841.3,103.1 L840.8,103.3 L840.5,103.0 L840.0,103.0 L839.9,102.3 L839.3,102.6 L838.9,102.6 L838.6,102.3 L838.1,102.4 L838.0,101.7 L837.4,102.1 L836.8,102.3 L836.3,102.5 L836.0,102.4Z M841.7,108.7 L842.0,108.9 L842.2,109.4 L842.5,109.6 L842.8,109.9 L843.3,109.9 L843.4,110.3 L843.1,111.3 L844.0,110.8 L844.2,111.2 L844.4,111.6 L844.7,111.9 L845.0,112.1 L845.0,112.7 L845.4,112.8 L845.9,112.9 L846.3,113.0 L846.6,113.3 L846.6,113.8 L847.2,113.7 L847.4,114.2 L847.7,114.4 L848.2,114.4 L848.5,114.8 L848.5,115.4 L848.8,115.5 L849.1,115.8 L849.7,115.7 L850.1,115.9 L849.9,116.7 L850.6,116.5 L850.6,117.2 L850.0,118.6 L851.6,117.3 L851.6,118.0 L851.2,119.1 L852.4,118.3 L852.8,118.3 L853.4,118.3 L853.3,119.0 L854.0,118.7 L856.6,116.4 L856.2,116.2 L856.2,115.6 L855.9,115.3 L855.4,115.2 L855.2,114.8 L854.7,114.8 L854.9,113.9 L854.1,114.2 L853.8,114.0 L854.1,113.0 L853.2,113.4 L853.1,112.9 L852.7,112.8 L852.5,112.4 L852.4,111.9 L851.9,111.8 L851.5,111.6 L851.3,111.3 L851.4,110.5 L850.5,110.9 L850.3,110.5 L850.3,109.9 L850.0,109.6 L849.7,109.2 L848.9,109.6 L848.7,109.2 L848.8,108.4 L848.3,108.4 L847.7,108.4 L847.2,108.3 L847.2,107.7 L846.7,107.6 L846.2,107.5 L846.2,106.9 L845.8,106.8 L846.5,105.1 L845.1,106.2 L844.8,105.9 L843.9,106.3 L843.6,106.1Z M853.7,118.3 L854.1,118.6 L854.5,118.7 L854.5,119.3 L854.8,119.6 L855.0,120.1 L855.5,120.1 L855.8,120.4 L856.0,120.8 L856.3,121.1 L856.1,122.0 L856.9,121.7 L857.2,122.0 L857.5,122.2 L857.6,122.8 L858.1,122.9 L858.3,123.2 L858.6,123.5 L859.0,123.7 L858.9,124.5 L859.6,124.3 L859.1,125.6 L859.8,125.4 L860.6,125.0 L860.5,125.8 L861.2,125.6 L861.2,126.3 L861.7,126.3 L861.9,126.8 L862.6,126.6 L862.8,127.0 L863.1,127.2 L863.3,127.7 L863.5,128.2 L864.2,127.9 L864.2,128.6 L864.8,128.5 L864.9,129.1 L865.4,129.1 L865.6,129.6 L866.3,129.3 L866.3,130.0 L866.9,130.0 L867.2,130.2 L867.7,130.3 L867.9,130.8 L868.3,130.8 L868.5,131.3 L868.8,131.6 L869.6,131.3 L870.1,131.3 L870.2,131.8 L870.4,132.3 L871.2,131.9 L871.6,132.0 L871.9,132.4 L872.4,130.1 L873.0,128.6 L871.7,129.8 L871.6,129.2 L871.6,128.6 L870.9,128.9 L870.7,128.5 L870.8,127.8 L870.1,128.0 L869.9,127.7 L869.9,127.1 L869.6,126.8 L869.2,126.7 L869.1,126.1 L868.7,126.0 L868.5,125.6 L867.8,125.9 L867.8,125.3 L867.3,125.3 L866.9,125.1 L867.0,124.4 L866.8,124.1 L866.4,123.9 L865.9,124.0 L865.8,123.4 L865.6,123.1 L864.9,123.3 L865.1,122.5 L864.6,122.4 L864.5,122.0 L864.1,121.9 L864.4,120.8 L863.5,121.4 L862.7,121.7 L862.4,121.5 L862.2,121.2 L862.0,120.7 L862.5,119.5 L861.6,120.0 L860.8,120.4 L860.6,119.9 L860.3,119.7 L860.0,119.5 L860.5,118.2 L859.3,119.1 L859.1,118.8 L859.0,118.2 L858.7,118.0 L858.2,118.0 L857.8,117.9 L857.7,117.4 L857.1,117.5 L856.8,117.3 L856.2,117.3 L856.0,117.0 L856.2,116.1Z M872.3,133.2 L872.5,133.5 L872.8,133.6 L872.8,134.4 L873.1,134.5 L873.5,134.6 L873.4,135.4 L873.8,135.5 L874.3,135.5 L874.2,136.3 L874.5,136.5 L874.8,136.6 L875.2,136.8 L875.6,136.8 L875.9,137.0 L876.3,137.1 L876.5,137.5 L877.2,137.1 L877.1,137.8 L877.6,137.8 L878.2,137.6 L878.0,138.6 L879.0,137.7 L881.4,135.7 L881.2,135.2 L880.8,134.9 L880.7,134.3 L880.1,134.4 L879.9,133.9 L879.7,133.5 L879.2,133.4 L878.9,133.1 L878.8,132.4 L878.2,132.4 L878.1,131.9 L878.2,131.0 L877.3,131.4 L876.7,131.5 L876.9,130.5 L876.0,131.1 L875.4,131.1 L875.3,130.5 L874.6,130.8 L874.0,130.7 L873.7,130.4 L873.0,130.7Z M879.4,138.7 L879.7,138.9 L880.1,139.0 L880.3,139.5 L880.4,140.0 L880.9,140.1 L881.3,140.2 L881.4,140.7 L881.5,141.3 L882.2,141.0 L882.3,141.7 L882.6,141.8 L883.2,141.7 L883.5,142.0 L883.7,142.3 L884.0,142.7 L884.6,142.5 L884.7,143.1 L885.0,143.4 L885.6,143.2 L885.7,143.8 L886.1,143.9 L886.2,144.5 L886.6,144.7 L886.9,145.0 L887.2,145.3 L887.6,145.4 L887.4,146.5 L888.6,145.4 L888.5,146.3 L889.1,146.1 L889.4,146.4 L889.7,146.8 L890.4,146.4 L890.7,146.7 L890.7,147.5 L891.4,147.1 L891.7,147.5 L892.1,147.6 L892.2,148.5 L892.6,148.6 L893.3,148.2 L893.6,148.6 L894.1,148.6 L894.3,149.0 L894.9,148.8 L895.0,149.6 L895.4,149.8 L895.8,150.1 L896.2,150.3 L896.9,149.6 L897.2,150.1 L897.6,150.2 L898.0,150.5 L898.3,151.0 L898.9,150.4 L899.1,151.2 L899.7,150.9 L900.0,151.2 L900.5,151.2 L900.4,153.0 L901.2,151.8 L901.6,151.8 L902.1,151.7 L902.6,151.7 L902.8,152.3 L903.3,152.0 L903.8,151.9 L904.2,151.8 L904.8,151.4 L905.1,151.9 L905.6,151.6 L906.5,148.8 L906.3,147.8 L905.9,148.0 L905.5,148.1 L905.3,147.4 L904.9,147.3 L904.6,146.9 L904.1,147.1 L903.8,146.7 L903.5,146.7 L903.0,146.9 L902.7,146.7 L902.4,146.4 L902.0,146.4 L901.5,146.5 L901.3,146.2 L900.9,146.1 L900.5,146.2 L900.1,146.2 L899.7,146.0 L899.4,145.9 L899.1,145.6 L898.7,145.5 L898.5,145.1 L898.3,144.5 L897.7,145.0 L897.6,144.3 L897.0,144.8 L896.9,144.1 L896.3,144.4 L896.1,144.0 L895.6,144.2 L895.5,143.5 L895.3,143.0 L894.9,143.0 L894.5,143.0 L894.1,143.0 L893.8,142.7 L893.3,142.8 L893.3,142.0 L892.8,142.1 L892.5,141.8 L892.2,141.6 L891.9,141.3 L891.5,141.2 L891.2,141.1 L890.9,140.7 L891.0,139.8 L890.0,140.7 L889.8,140.3 L889.5,140.0 L888.9,140.2 L888.8,139.7 L888.3,139.6 L888.4,138.9 L887.7,139.2 L887.7,138.5 L888.0,137.2 L886.8,138.3 L886.4,138.2 L886.1,137.9 L885.9,137.6 L885.2,137.9 L885.3,137.1 L884.8,137.1 L884.2,137.2 L883.8,137.2 L883.8,136.3 L883.5,136.2 L882.7,136.6 L882.6,136.0 L882.0,136.2Z M905.2,150.8 L905.6,150.8 L906.1,150.6 L906.5,150.7 L906.6,152.4 L907.1,151.7 L907.5,151.8 L907.7,152.6 L908.3,151.8 L908.7,151.6 L909.1,152.1 L909.4,152.3 L909.6,153.5 L910.2,152.5 L910.6,152.8 L911.0,152.6 L911.4,152.5 L911.7,153.0 L912.2,152.7 L912.6,152.5 L913.0,152.7 L913.3,153.1 L913.7,153.0 L913.9,155.0 L914.5,153.1 L914.9,153.4 L915.4,153.0 L915.7,153.4 L916.1,153.3 L916.6,153.0 L916.9,153.8 L917.3,153.6 L917.7,154.4 L918.2,153.2 L918.6,153.5 L919.0,153.4 L919.4,153.5 L919.8,153.3 L920.2,154.1 L920.6,153.4 L921.0,154.1 L921.4,154.1 L921.9,153.4 L922.3,153.5 L922.7,153.9 L923.1,153.4 L923.5,153.8 L924.0,154.0 L924.3,153.6 L924.7,153.2 L925.1,153.1 L925.6,153.4 L926.0,153.4 L926.4,153.0 L926.8,153.0 L927.3,153.4 L927.7,153.0 L928.0,152.7 L928.4,152.3 L928.9,152.5 L929.1,152.0 L929.7,152.4 L930.1,152.2 L930.8,153.2 L930.7,151.3 L931.2,151.6 L931.3,150.8 L931.6,150.5 L932.7,152.4 L932.6,150.8 L933.3,148.0 L933.2,148.8 L932.7,148.7 L932.1,148.2 L931.9,148.8 L931.0,147.6 L930.9,148.4 L930.6,148.9 L929.8,147.6 L929.6,148.4 L928.9,147.4 L928.8,148.4 L928.6,148.9 L928.1,148.6 L927.8,148.9 L927.1,147.6 L927.2,149.5 L926.7,149.0 L926.3,149.0 L925.8,148.4 L925.5,148.9 L925.2,149.0 L924.8,149.0 L924.4,149.2 L924.1,149.5 L923.7,149.2 L923.2,148.4 L922.9,149.2 L922.5,148.9 L922.1,149.2 L921.7,149.5 L921.4,147.8 L921.0,149.5 L920.6,149.6 L920.2,149.3 L919.9,147.3 L919.4,149.3 L919.1,148.6 L918.7,148.8 L918.2,149.4 L917.8,149.1 L917.6,147.2 L917.1,148.7 L916.7,149.1 L916.3,149.0 L915.9,148.7 L915.5,148.4 L915.1,148.8 L914.7,148.6 L914.3,148.6 L913.8,149.1 L913.5,148.7 L913.1,148.3 L912.6,148.7 L912.3,148.6 L911.9,148.3 L911.4,148.9 L911.1,148.2 L910.6,149.0 L910.3,148.1 L909.8,148.3 L909.4,148.7 L908.9,148.9 L908.6,148.6 L908.2,148.1 L907.7,148.6 L907.4,148.4 L906.8,149.0 L906.6,148.3 L906.1,148.3Z M933.0,150.6 L933.8,151.4 L934.5,151.8 L935.1,151.8 L935.4,151.1 L935.8,150.9 L936.5,151.2 L937.0,151.0 L937.5,150.9 L937.8,150.4 L938.3,150.1 L938.9,150.6 L939.4,150.4 L939.7,149.6 L940.2,149.5 L940.6,149.1 L941.0,148.5 L938.4,146.5 L937.9,145.9 L937.5,145.7 L937.3,145.9 L937.0,146.2 L936.4,145.4 L936.3,145.9 L936.0,145.9 L935.5,145.6 L935.3,145.8 L935.2,146.5 L934.7,146.1 L934.4,146.3 L934.3,146.8 L933.7,146.1 L933.9,147.6 L933.9,148.3Z M942.3,147.3 L942.7,147.7 L943.1,148.4 L943.4,148.5 L943.5,147.7 L943.9,147.8 L944.2,148.1 L944.3,147.3 L944.5,146.8 L944.3,145.4 L943.6,144.8 L942.9,144.2 L942.3,144.2 L941.9,144.9 L941.3,144.8 L940.6,144.3 L940.3,145.1 L940.1,146.7Z M945.8,146.6 L946.4,147.4 L946.8,147.1 L947.4,147.4 L947.8,147.1 L948.2,147.2 L948.6,146.6 L949.3,147.9 L949.5,146.6 L950.0,146.9 L950.4,146.5 L950.9,146.9 L951.4,146.8 L951.7,146.3 L952.1,145.8 L952.6,146.3 L953.1,146.2 L953.4,145.5 L953.7,144.9 L954.1,144.5 L952.4,143.9 L951.8,143.1 L951.5,143.2 L951.0,142.7 L950.7,143.2 L950.4,143.4 L950.0,143.4 L949.6,143.1 L949.3,143.6 L948.8,143.0 L948.5,143.2 L948.0,142.8 L947.6,142.4 L947.5,143.8 L947.1,143.5 L946.8,144.1 L946.5,144.3 L946.0,143.9 L945.8,144.5 L945.5,144.7Z M955.1,144.1 L955.6,144.7 L956.1,145.2 L956.5,144.8 L957.3,146.9 L957.3,145.0 L957.8,145.2 L958.0,144.5 L958.5,145.1 L958.8,144.3 L959.1,144.1 L959.4,143.8 L959.8,143.4 L958.7,142.1 L958.2,141.9 L957.4,140.5 L957.0,140.9 L956.5,140.9 L956.2,141.7 L955.8,141.8 L955.0,140.1 L954.6,140.6 L954.3,141.6 L954.0,142.1 L953.6,142.7 L953.2,142.7Z M961.2,143.6 L961.5,143.3 L962.0,143.4 L962.5,143.7 L962.9,143.3 L963.4,143.5 L963.7,143.0 L964.2,143.0 L964.6,142.8 L965.2,143.5 L965.5,142.8 L966.0,143.1 L966.3,142.6 L966.8,142.6 L967.1,142.0 L967.7,142.6 L968.4,143.2 L968.4,141.7 L968.8,141.6 L969.5,142.4 L969.6,141.4 L969.9,140.7 L970.5,141.1 L970.6,140.2 L968.5,139.4 L968.2,140.0 L967.6,139.3 L967.4,139.9 L966.8,139.4 L966.6,140.0 L966.3,140.2 L965.8,140.0 L965.5,140.2 L965.0,139.8 L964.7,140.2 L964.3,140.4 L964.0,140.5 L963.6,140.7 L963.3,140.9 L962.9,140.9 L962.5,140.9 L962.1,140.9 L961.7,140.8 L961.4,141.1 L961.0,141.2 L960.6,141.5 L960.3,141.6 L960.0,142.1Z M972.6,140.0 L973.0,139.9 L973.4,139.8 L973.8,139.6 L974.3,140.0 L974.7,139.7 L975.2,139.9 L975.4,139.2 L975.7,138.9 L976.1,138.9 L976.5,138.7 L976.9,138.5 L977.3,138.5 L978.0,139.5 L978.0,138.2 L978.4,138.1 L978.9,138.1 L977.0,137.2 L976.6,137.3 L976.1,137.2 L975.6,137.1 L975.2,137.3 L974.8,137.3 L974.3,137.1 L973.9,137.4 L973.4,137.1 L973.1,137.6 L972.6,137.3 L971.8,136.1 L971.8,137.6 L971.4,138.0 L971.2,138.8 L970.6,138.4 L970.3,138.6Z M980.4,137.1 L980.8,137.1 L981.2,137.1 L981.5,136.9 L982.0,137.6 L982.4,137.4 L982.6,137.0 L983.0,137.2 L983.2,136.5 L983.7,136.9 L983.9,136.5 L984.2,136.1 L984.6,136.3 L985.0,136.5 L985.6,137.8 L985.3,134.3 L984.9,134.6 L984.4,134.8 L983.8,134.3 L983.4,135.0 L982.9,134.8 L982.3,134.8 L981.7,134.5 L981.4,135.2 L980.8,135.1 L980.5,135.8 L980.0,135.8 L979.5,135.7 L978.8,135.3 L978.5,136.0Z M986.9,135.6 L987.3,135.5 L987.8,136.3 L988.3,136.4 L988.7,136.2 L989.1,135.7 L989.6,135.6 L990.1,135.9 L990.5,135.8 L990.9,135.4 L991.0,135.1 L990.7,134.4 L990.3,134.5 L989.9,133.8 L989.5,134.0 L989.1,132.5 L988.9,134.6 L988.5,134.1 L988.1,134.0 L987.8,134.7 L987.5,134.7 L987.1,134.8Z" fill="#000"/><path d="M388.6,134.5 L389.3,136.7 M393.5,143.4 L398.2,148.1 M407.2,148.3 L413.9,148.9 M417.9,147.9 L421.0,146.9 M425.5,145.6 L428.0,145.3 M434.8,146.5 L440.9,146.3 M451.0,141.2 L453.5,141.8 M454.6,136.6 L456.3,134.8 M467.3,131.9 L472.3,127.7 M476.1,128.5 L481.7,125.7 M487.2,124.1 L491.2,123.3 M492.9,121.1 L496.7,119.9 M501.3,111.8 L503.4,109.4 M511.7,108.1 L517.2,104.8 M522.9,102.9 L527.5,99.7 M532.8,92.3 L537.2,91.1 M540.6,91.3 L543.9,89.7 M548.3,85.2 L551.0,85.9 M555.4,92.1 L557.3,96.3 M558.4,101.0 L558.9,105.9 M566.5,114.8 L567.9,120.6 M566.3,125.9 L567.5,131.3 M572.9,132.8 L573.9,136.3 M578.8,144.0 L581.5,148.0 M587.2,152.1 L589.3,153.8 M597.2,151.2 L601.6,150.8 M604.2,154.5 L609.3,153.0 M612.9,150.4 L616.8,150.4 M621.1,149.2 L624.2,149.5 M632.3,144.7 L633.7,142.7 M641.8,140.5 L646.1,137.3 M657.3,137.1 L659.2,137.7 M667.2,135.8 L670.3,137.2 M677.8,136.7 L681.8,139.5 M693.3,142.5 L698.5,143.5 M703.8,148.3 L707.3,149.9 M711.1,152.2 L713.4,153.5 M723.2,155.2 L726.0,154.6 M729.5,155.7 L732.6,157.7 M735.9,155.8 L740.0,157.2 M743.0,157.0 L748.7,155.5 M750.9,153.8 L755.3,151.9 M762.5,149.3 L765.2,147.8 M767.5,146.3 L772.9,142.4 M777.4,131.2 L779.5,128.6 M787.1,120.3 L791.2,117.0 M799.5,111.0 L803.2,109.2 M807.3,104.5 L812.8,102.7 M822.6,97.2 L824.8,98.1 M830.5,98.6 L833.7,99.5 M843.9,106.7 L847.2,108.7 M853.1,114.1 L854.3,115.2 M858.9,118.5 L863.9,120.8 M870.3,130.6 L874.7,134.2 M878.6,135.4 L880.2,137.1 M887.1,138.8 L889.8,142.3 M892.5,146.4 L895.3,149.4 M901.4,150.3 L905.4,151.3 M908.9,149.5 L911.8,148.3 M913.9,152.7 L920.4,154.3 M925.7,153.5 L929.0,151.5 M935.2,149.9 L938.7,149.3 M949.9,145.3 L956.8,145.1 M964.2,141.6 L966.5,140.1 M977.0,136.6 L982.8,135.3" fill="none" stroke="#fff" stroke-width="0.8" stroke-linecap="round"/><path d="M1438.1,119.6 L1437.6,120.2 L1438.1,120.5 L1438.5,120.8 L1438.0,121.4 L1438.3,121.7 L1438.6,122.1 L1438.3,122.6 L1438.5,123.0 L1438.8,123.3 L1438.2,124.0 L1438.7,124.2 L1438.9,124.6 L1438.9,125.1 L1438.4,125.7 L1439.2,125.8 L1438.6,126.5 L1438.7,126.9 L1439.3,127.1 L1438.7,127.8 L1439.1,128.1 L1439.4,128.4 L1439.4,128.8 L1439.2,129.4 L1439.3,129.8 L1439.2,130.2 L1439.9,130.5 L1439.3,131.1 L1439.6,131.4 L1439.8,131.8 L1439.6,132.3 L1439.8,132.7 L1440.5,132.9 L1440.2,133.4 L1440.0,133.9 L1440.5,134.2 L1440.8,134.5 L1440.3,135.1 L1440.6,135.4 L1441.1,135.7 L1440.8,136.2 L1441.5,136.4 L1441.5,136.8 L1441.3,137.3 L1441.7,137.7 L1441.5,138.2 L1442.2,138.4 L1441.5,139.0 L1442.4,139.2 L1442.1,139.7 L1442.3,140.1 L1442.2,140.6 L1442.5,141.0 L1442.9,141.3 L1443.1,141.7 L1443.4,142.1 L1443.6,142.4 L1443.4,143.0 L1443.6,143.4 L1444.0,143.7 L1444.2,144.1 L1444.1,144.6 L1444.0,145.2 L1444.9,145.3 L1445.2,145.6 L1444.8,146.3 L1444.4,147.0 L1444.5,147.4 L1445.7,147.3 L1446.1,147.6 L1446.5,147.9 L1448.3,145.0 L1448.8,144.3 L1448.7,144.0 L1448.5,143.7 L1448.8,143.1 L1448.8,142.7 L1448.2,142.6 L1448.8,141.9 L1448.8,141.5 L1448.4,141.3 L1448.5,140.9 L1448.0,140.7 L1448.3,140.2 L1448.6,139.7 L1447.8,139.5 L1447.7,139.2 L1448.0,138.7 L1447.7,138.4 L1447.5,138.0 L1447.2,137.7 L1447.2,137.3 L1447.5,136.9 L1447.3,136.5 L1448.7,135.7 L1447.3,135.7 L1446.7,135.4 L1446.4,135.1 L1446.2,134.8 L1446.8,134.2 L1446.5,133.9 L1446.3,133.5 L1445.8,133.2 L1446.0,132.7 L1445.8,132.4 L1445.7,132.0 L1445.9,131.5 L1445.2,131.3 L1445.5,130.8 L1445.5,130.4 L1444.9,130.1 L1444.8,129.8 L1445.9,129.0 L1444.8,129.0 L1444.3,128.7 L1444.5,128.2 L1444.2,127.9 L1443.8,127.6 L1443.7,127.2 L1444.0,126.7 L1443.4,126.5 L1443.0,126.3 L1443.4,125.7 L1442.5,125.6 L1442.6,125.1 L1442.9,124.6 L1442.6,124.3 L1442.9,123.8 L1442.0,123.7 L1442.0,123.3 L1441.8,122.9 L1441.2,122.7 L1440.8,122.4 L1441.2,121.9 L1440.9,121.6 L1440.6,121.3 L1440.5,120.9 L1440.6,120.4 L1440.2,120.1 L1439.8,119.9 L1439.5,119.5 L1439.0,119.3Z M1447.4,148.3 L1447.6,148.6 L1447.3,149.3 L1447.5,149.6 L1448.0,149.9 L1447.6,150.5 L1448.3,150.6 L1448.5,151.0 L1448.7,151.3 L1448.4,152.0 L1448.4,152.5 L1448.5,152.9 L1449.1,153.0 L1449.4,153.3 L1449.7,153.7 L1449.7,154.2 L1449.8,154.6 L1449.8,155.1 L1450.2,155.4 L1450.6,155.6 L1450.5,156.2 L1451.2,156.2 L1450.3,157.5 L1451.5,157.1 L1451.9,157.3 L1452.4,157.4 L1452.7,157.8 L1452.7,158.3 L1453.0,158.6 L1453.8,158.4 L1454.1,158.7 L1453.9,159.5 L1454.8,159.2 L1454.6,160.0 L1454.9,160.2 L1455.6,160.2 L1455.9,160.4 L1456.3,157.5 L1457.0,156.4 L1456.0,156.7 L1455.9,156.3 L1455.5,156.1 L1455.8,155.3 L1455.5,155.1 L1455.4,154.7 L1454.7,154.8 L1454.7,154.3 L1454.2,154.1 L1454.5,153.5 L1455.7,152.1 L1454.1,152.8 L1453.5,152.7 L1453.8,152.1 L1453.5,151.8 L1453.0,151.7 L1453.3,151.1 L1452.5,151.1 L1452.6,150.6 L1452.3,150.4 L1452.1,150.0 L1452.1,149.6 L1451.8,149.3 L1451.4,149.1 L1451.1,148.8 L1451.2,148.3 L1451.0,148.0 L1450.6,147.7 L1450.5,147.4 L1449.8,147.3 L1449.8,146.9 L1449.8,146.4 L1448.9,146.4 L1449.4,145.7 L1449.1,145.5Z M1455.7,160.0 L1455.9,160.3 L1456.0,160.8 L1455.8,161.6 L1456.1,161.8 L1455.7,162.8 L1456.1,163.1 L1457.1,162.6 L1457.2,163.1 L1457.6,163.3 L1457.7,163.8 L1458.1,163.9 L1458.2,164.4 L1459.0,164.2 L1458.8,165.0 L1458.2,166.5 L1459.8,165.1 L1459.8,165.8 L1460.2,166.0 L1460.0,166.8 L1460.7,166.7 L1461.3,166.5 L1461.7,166.7 L1462.1,166.9 L1462.4,167.1 L1462.6,167.6 L1462.6,168.2 L1463.4,167.9 L1463.7,168.2 L1463.8,168.7 L1464.1,169.0 L1464.3,169.4 L1464.8,169.4 L1465.2,169.6 L1465.4,170.1 L1465.7,170.3 L1466.2,170.4 L1465.9,171.7 L1466.9,170.7 L1467.5,170.6 L1467.9,170.8 L1468.1,171.2 L1468.6,171.1 L1469.0,171.3 L1469.3,171.6 L1469.6,171.8 L1469.7,172.6 L1470.2,172.4 L1470.6,172.5 L1470.9,172.9 L1471.2,173.1 L1471.8,173.0 L1472.2,173.1 L1472.4,173.5 L1472.9,173.4 L1473.4,173.3 L1473.7,173.6 L1474.1,173.9 L1474.6,173.7 L1475.0,173.7 L1475.3,174.1 L1475.8,174.0 L1476.3,173.9 L1476.8,170.9 L1476.5,170.7 L1476.3,170.1 L1475.8,170.2 L1475.5,169.9 L1475.2,169.7 L1474.8,169.5 L1474.4,169.4 L1474.4,168.5 L1474.5,167.6 L1473.7,168.2 L1473.3,168.0 L1472.9,168.0 L1472.5,168.0 L1472.5,167.2 L1471.8,167.5 L1471.9,166.6 L1471.5,166.5 L1470.9,166.7 L1470.7,166.2 L1470.4,165.9 L1469.8,166.3 L1469.9,165.3 L1469.3,165.5 L1469.0,165.2 L1468.8,164.8 L1468.2,165.0 L1468.1,164.5 L1467.6,164.4 L1467.4,164.1 L1466.8,164.3 L1466.4,164.1 L1466.1,163.9 L1466.4,162.8 L1465.5,163.4 L1465.2,163.1 L1464.9,162.8 L1464.7,162.4 L1465.0,161.4 L1464.1,161.9 L1463.6,161.9 L1463.6,161.3 L1463.0,161.4 L1462.8,161.0 L1462.5,160.8 L1462.1,160.6 L1462.2,159.9 L1461.4,160.2 L1461.2,159.8 L1460.9,159.5 L1460.8,159.1 L1460.5,158.9 L1460.2,158.5 L1459.8,158.4 L1459.2,158.4 L1459.3,157.9 L1458.4,158.1 L1458.6,157.4 L1458.2,157.3 L1458.0,156.9 L1457.5,156.8 L1456.6,157.2 L1456.8,156.4Z M1475.9,173.4 L1476.0,174.3 L1476.3,174.7 L1476.7,175.0 L1477.1,175.1 L1477.6,175.0 L1477.5,176.4 L1478.5,175.2 L1478.3,176.8 L1479.3,175.5 L1479.4,176.3 L1480.0,176.0 L1480.2,176.7 L1480.9,176.2 L1481.2,176.5 L1481.6,176.6 L1482.0,176.9 L1482.4,177.1 L1482.7,177.6 L1483.2,177.2 L1483.6,177.4 L1484.0,177.7 L1484.4,178.0 L1484.9,177.7 L1485.2,178.2 L1485.8,177.9 L1486.2,178.0 L1486.3,179.5 L1487.0,178.4 L1487.2,179.4 L1487.9,178.3 L1488.3,178.6 L1488.7,178.5 L1489.1,179.4 L1489.6,178.5 L1490.1,178.4 L1490.4,179.1 L1491.0,178.5 L1491.4,178.7 L1491.8,179.0 L1492.2,179.0 L1492.7,178.9 L1493.1,178.6 L1491.5,175.1 L1491.1,175.4 L1490.8,175.0 L1490.4,174.8 L1490.0,174.9 L1489.7,174.4 L1489.3,174.5 L1489.3,172.5 L1488.6,174.5 L1488.5,173.2 L1487.9,174.2 L1487.6,173.9 L1487.3,173.3 L1487.0,173.3 L1486.5,173.6 L1486.1,173.8 L1485.8,173.5 L1485.5,173.2 L1485.0,173.3 L1484.7,173.0 L1484.4,172.7 L1484.0,172.8 L1483.7,172.5 L1483.3,172.5 L1482.9,172.6 L1482.5,172.6 L1482.4,171.9 L1481.9,172.0 L1481.6,171.7 L1481.2,172.0 L1480.9,171.7 L1480.6,171.4 L1480.0,171.8 L1479.8,171.4 L1479.5,171.2 L1479.2,170.9 L1478.6,171.3 L1478.2,171.3 L1478.0,170.8 L1477.5,171.0 L1477.1,170.9 L1476.6,171.2 L1476.4,170.8Z M1493.5,178.9 L1493.8,178.6 L1494.2,178.7 L1494.5,178.9 L1494.8,180.8 L1495.2,179.9 L1495.5,179.6 L1495.9,180.2 L1496.2,179.6 L1496.6,179.5 L1496.9,179.6 L1497.3,179.9 L1497.7,180.1 L1498.0,180.3 L1498.4,180.0 L1498.7,179.7 L1499.0,179.4 L1499.4,179.7 L1499.8,179.9 L1500.1,179.5 L1500.5,179.2 L1500.8,179.5 L1501.2,179.5 L1501.5,179.3 L1501.9,179.1 L1502.2,178.7 L1502.5,178.6 L1502.8,178.6 L1504.0,175.5 L1503.6,175.7 L1503.1,175.5 L1502.6,175.2 L1502.2,175.3 L1501.5,173.9 L1501.3,175.4 L1500.8,174.8 L1500.2,173.5 L1499.9,175.4 L1499.5,175.1 L1499.0,175.2 L1498.5,173.0 L1498.1,175.1 L1497.7,174.8 L1497.2,175.1 L1496.8,174.9 L1496.3,175.3 L1495.9,175.1 L1495.4,175.3 L1495.0,175.1 L1494.5,175.2 L1494.1,175.0 L1493.6,175.0 L1493.1,175.4 L1492.7,175.5 L1492.2,176.1 L1491.7,175.9Z M1502.2,177.8 L1502.6,177.7 L1503.2,178.5 L1503.6,177.9 L1504.1,178.1 L1504.5,178.2 L1504.9,177.9 L1505.4,177.9 L1505.9,178.1 L1506.4,178.0 L1506.8,177.9 L1507.2,177.6 L1507.7,177.9 L1508.3,178.1 L1508.6,177.7 L1509.1,177.5 L1509.4,177.1 L1509.8,176.9 L1510.4,177.2 L1510.8,176.9 L1511.3,176.9 L1511.7,176.7 L1512.2,176.5 L1512.6,176.3 L1512.7,175.5 L1513.3,175.6 L1513.8,175.7 L1514.0,175.1 L1514.2,174.6 L1515.0,175.0 L1515.1,174.3 L1516.2,175.2 L1516.2,174.4 L1517.4,175.4 L1516.9,173.8 L1516.9,173.1 L1517.4,173.0 L1517.8,172.8 L1519.0,173.7 L1518.3,172.0 L1518.7,171.8 L1519.1,171.7 L1519.4,171.3 L1520.9,172.6 L1519.9,170.6 L1520.3,170.3 L1520.8,170.3 L1521.8,170.9 L1521.7,170.0 L1521.7,169.3 L1522.1,169.2 L1522.5,168.9 L1522.5,168.3 L1522.9,168.1 L1523.3,167.9 L1521.1,166.6 L1520.5,166.4 L1520.0,166.4 L1519.5,166.5 L1519.3,166.7 L1518.8,166.7 L1518.4,166.8 L1518.2,167.1 L1517.8,167.2 L1517.5,167.5 L1517.4,167.9 L1516.8,167.8 L1516.7,168.3 L1516.2,168.2 L1515.9,168.5 L1515.7,168.7 L1515.5,169.1 L1515.2,169.3 L1514.4,168.8 L1514.1,169.0 L1514.0,169.5 L1513.9,169.9 L1513.3,169.7 L1512.9,169.8 L1512.8,170.4 L1512.6,170.6 L1512.1,170.4 L1512.1,171.1 L1511.8,171.3 L1511.1,170.9 L1510.8,171.1 L1510.7,171.5 L1509.9,170.7 L1510.1,171.8 L1509.8,172.1 L1509.0,171.2 L1508.7,171.4 L1508.8,172.4 L1508.6,172.6 L1508.4,173.2 L1508.1,173.2 L1507.7,173.3 L1507.5,173.5 L1507.2,173.8 L1506.8,173.7 L1506.3,173.3 L1506.2,174.2 L1505.7,173.7 L1505.5,174.2 L1505.1,174.4 L1504.8,174.3 L1504.4,174.4 L1504.2,174.8 L1503.9,175.4 L1503.6,175.6Z M1524.1,168.2 L1524.1,167.5 L1524.5,167.4 L1525.2,167.7 L1525.4,167.3 L1525.6,166.9 L1526.7,167.7 L1526.1,166.3 L1527.0,166.8 L1527.1,166.3 L1527.2,165.8 L1528.0,166.3 L1528.0,165.5 L1529.1,166.4 L1529.8,166.7 L1529.5,165.6 L1529.6,165.1 L1529.7,164.6 L1530.1,164.4 L1530.5,164.3 L1530.8,164.0 L1531.5,164.3 L1531.4,163.5 L1532.0,163.6 L1532.1,163.1 L1532.4,162.8 L1532.8,162.7 L1533.1,162.4 L1533.5,162.3 L1533.7,161.9 L1534.5,162.2 L1534.8,162.0 L1534.9,161.4 L1535.2,161.2 L1535.7,161.1 L1535.9,160.7 L1536.0,160.2 L1536.5,160.1 L1536.9,160.0 L1537.1,159.6 L1537.6,159.6 L1537.6,158.9 L1538.0,158.8 L1538.4,158.5 L1538.6,158.2 L1538.9,157.9 L1538.9,157.3 L1539.8,157.6 L1539.5,156.7 L1539.9,156.4 L1541.1,157.0 L1540.9,156.2 L1540.9,155.6 L1542.5,156.5 L1541.4,154.9 L1542.0,154.9 L1542.0,154.3 L1542.0,153.8 L1542.5,153.6 L1542.7,153.2 L1542.8,152.8 L1542.8,152.3 L1543.1,152.0 L1543.7,151.9 L1543.4,151.2 L1544.1,151.2 L1543.6,150.4 L1543.8,150.0 L1544.2,149.8 L1544.6,149.6 L1544.0,148.7 L1544.7,148.7 L1545.1,148.5 L1544.9,147.9 L1542.2,145.7 L1542.5,146.4 L1541.9,146.5 L1541.1,146.4 L1541.3,147.1 L1541.1,147.4 L1541.0,147.8 L1540.7,148.1 L1540.3,148.3 L1539.9,148.6 L1540.1,149.2 L1539.6,149.3 L1539.3,149.6 L1538.8,149.7 L1539.0,150.3 L1538.1,150.1 L1538.2,150.7 L1537.9,151.0 L1537.8,151.4 L1536.2,150.5 L1537.4,152.0 L1537.1,152.2 L1536.8,152.5 L1536.3,152.6 L1536.0,152.8 L1536.0,153.4 L1535.0,152.8 L1535.1,153.6 L1535.0,154.0 L1533.6,153.0 L1534.4,154.5 L1534.1,154.7 L1533.5,154.6 L1533.6,155.3 L1533.1,155.4 L1532.7,155.5 L1532.4,155.7 L1532.4,156.4 L1531.8,156.3 L1531.9,157.0 L1531.1,156.7 L1531.1,157.3 L1530.9,157.7 L1530.4,157.7 L1530.3,158.2 L1529.6,158.0 L1529.2,158.2 L1529.2,158.7 L1529.1,159.3 L1528.3,159.0 L1528.3,159.6 L1527.9,159.8 L1527.3,159.6 L1527.0,159.9 L1526.8,160.3 L1526.4,160.4 L1525.5,160.0 L1525.9,161.2 L1525.7,161.6 L1525.1,161.4 L1524.9,161.9 L1524.5,162.1 L1524.5,162.7 L1524.0,162.8 L1523.8,163.2 L1523.4,163.3 L1523.4,164.0 L1522.2,163.1 L1522.7,164.4 L1522.2,164.5 L1522.0,164.8 L1521.9,165.4 L1521.4,165.5 L1519.9,164.2Z M1546.0,147.9 L1545.1,146.9 L1545.4,146.7 L1545.7,146.4 L1545.9,146.0 L1546.6,146.0 L1546.8,145.7 L1547.2,145.5 L1547.4,145.1 L1547.4,144.7 L1547.6,144.3 L1548.3,144.3 L1549.5,144.7 L1549.6,144.3 L1548.6,143.2 L1549.0,143.0 L1549.4,142.8 L1549.1,142.2 L1549.9,142.3 L1549.9,141.9 L1550.4,141.8 L1550.6,141.5 L1550.8,141.2 L1550.9,140.8 L1551.4,140.7 L1551.2,140.0 L1551.4,139.7 L1552.1,139.7 L1552.8,139.9 L1552.0,138.7 L1552.4,138.5 L1552.8,138.4 L1553.4,138.4 L1553.0,137.5 L1553.5,137.4 L1553.5,137.0 L1553.9,136.8 L1554.4,136.8 L1554.2,136.1 L1554.8,136.1 L1554.8,135.7 L1555.1,135.4 L1555.5,135.3 L1555.5,134.8 L1556.0,134.8 L1556.3,134.6 L1556.3,134.1 L1556.6,133.8 L1557.0,133.8 L1557.0,133.1 L1557.4,133.2 L1557.6,132.7 L1557.5,132.0 L1558.4,132.7 L1558.3,128.9 L1557.1,127.8 L1557.5,129.3 L1556.8,128.9 L1556.5,129.4 L1555.9,129.2 L1555.7,129.8 L1555.3,130.0 L1554.7,129.9 L1554.1,129.9 L1553.8,130.2 L1553.5,130.6 L1553.5,131.3 L1552.6,131.1 L1552.8,131.9 L1551.2,130.9 L1552.0,132.4 L1551.3,132.3 L1551.0,132.7 L1550.1,132.5 L1550.6,133.5 L1550.3,133.9 L1549.8,134.0 L1549.7,134.5 L1549.0,134.5 L1549.3,135.3 L1548.4,135.1 L1548.4,135.7 L1548.1,136.0 L1547.8,136.3 L1547.9,137.0 L1547.3,137.0 L1546.8,137.2 L1547.0,137.8 L1546.7,138.2 L1546.1,138.2 L1546.1,138.8 L1544.8,138.5 L1545.8,139.8 L1545.0,139.7 L1544.8,140.1 L1544.8,140.7 L1544.8,141.2 L1544.4,141.4 L1544.1,141.8 L1544.0,142.2 L1543.6,142.5 L1543.3,142.8 L1543.2,143.2 L1543.5,143.9 L1543.4,144.3 L1543.2,144.7 L1543.2,145.3 L1542.9,145.5Z M1557.4,132.0 L1558.1,132.4 L1558.6,132.3 L1559.5,133.0 L1559.4,132.0 L1559.6,131.5 L1559.8,131.1 L1560.3,131.0 L1560.8,131.3 L1561.0,130.6 L1561.5,131.0 L1561.9,130.9 L1562.1,130.3 L1562.6,130.5 L1562.9,130.0 L1563.4,130.2 L1564.0,131.0 L1564.2,130.0 L1564.6,130.2 L1564.9,129.6 L1565.3,129.6 L1565.7,129.4 L1566.1,129.5 L1566.6,129.8 L1566.9,129.3 L1567.3,129.0 L1567.7,129.5 L1568.1,128.9 L1568.5,129.1 L1568.9,129.5 L1569.3,129.3 L1569.8,128.7 L1570.2,128.7 L1570.6,129.4 L1571.0,129.0 L1571.5,129.3 L1571.9,128.8 L1572.4,128.5 L1572.8,128.0 L1572.1,126.4 L1571.8,125.3 L1571.4,125.2 L1571.0,125.2 L1570.6,124.8 L1570.2,124.9 L1569.8,125.0 L1569.4,124.6 L1569.0,125.1 L1568.6,125.0 L1568.2,124.7 L1567.8,124.7 L1567.4,125.2 L1566.9,124.5 L1566.6,124.9 L1566.1,124.6 L1565.8,124.9 L1565.3,125.0 L1564.9,124.8 L1564.6,125.3 L1564.1,124.7 L1563.7,125.4 L1563.3,125.1 L1562.9,125.6 L1562.4,125.4 L1562.0,125.5 L1561.6,125.8 L1561.2,125.7 L1560.9,126.2 L1560.6,126.4 L1559.6,125.0 L1559.8,126.7 L1559.5,127.1 L1559.2,127.6 L1558.7,127.3 L1558.3,127.5 L1558.0,127.9 L1557.6,128.0 L1558.0,129.5Z M1573.3,128.0 L1573.5,129.1 L1574.0,128.8 L1574.1,130.5 L1574.4,131.5 L1575.1,129.2 L1575.3,130.0 L1575.8,129.6 L1575.9,131.4 L1576.5,129.9 L1576.9,129.6 L1577.2,130.3 L1577.7,129.7 L1578.1,129.8 L1578.3,130.7 L1578.6,131.3 L1579.1,130.6 L1579.5,130.3 L1579.8,131.0 L1580.3,130.4 L1580.5,131.2 L1580.9,131.3 L1581.3,131.1 L1581.7,131.0 L1582.1,131.0 L1582.4,131.5 L1582.5,132.7 L1583.1,131.6 L1583.3,132.3 L1583.9,131.7 L1584.1,132.3 L1584.6,131.8 L1585.0,131.7 L1585.3,132.1 L1585.7,132.2 L1586.1,132.1 L1586.5,132.1 L1586.9,132.1 L1587.2,132.3 L1587.5,132.7 L1588.0,132.4 L1588.3,132.9 L1588.8,132.6 L1589.0,133.0 L1589.3,133.4 L1589.7,133.5 L1590.1,133.4 L1590.6,133.2 L1590.9,133.6 L1591.3,133.7 L1591.7,133.7 L1591.6,135.0 L1592.4,134.1 L1592.9,133.8 L1593.0,134.5 L1593.1,135.4 L1593.9,134.4 L1594.3,134.4 L1594.7,134.5 L1595.1,134.6 L1595.3,135.0 L1596.0,134.3 L1596.3,134.5 L1597.3,132.9 L1597.1,132.1 L1596.8,131.8 L1596.5,131.3 L1596.2,131.0 L1595.7,131.2 L1595.3,131.0 L1595.1,130.3 L1594.6,130.6 L1594.3,130.1 L1593.8,130.4 L1593.4,130.1 L1593.2,129.5 L1592.8,129.3 L1592.5,129.0 L1591.9,129.4 L1591.6,129.2 L1591.2,129.1 L1590.8,128.9 L1590.5,128.5 L1590.0,128.8 L1589.7,128.3 L1589.1,128.6 L1588.9,127.9 L1588.3,128.3 L1588.0,127.9 L1587.8,127.3 L1587.3,127.5 L1586.9,127.3 L1586.4,127.6 L1586.0,127.2 L1585.7,126.7 L1585.1,127.2 L1584.8,126.8 L1584.4,126.5 L1583.9,126.9 L1583.4,127.0 L1583.4,125.4 L1582.8,126.0 L1582.4,126.0 L1581.9,126.3 L1581.5,125.8 L1580.9,126.6 L1580.6,126.0 L1580.1,126.4 L1579.7,126.2 L1579.3,126.2 L1578.9,126.1 L1578.6,125.6 L1578.1,125.7 L1577.6,126.1 L1577.3,125.4 L1576.8,125.6 L1576.4,125.4 L1576.0,125.5 L1575.6,125.3 L1575.2,125.4 L1574.7,125.5 L1574.4,124.5 L1574.0,124.3 L1573.4,125.7 L1573.0,125.2 L1572.5,126.5Z M1596.1,133.7 L1596.2,134.6 L1596.6,134.6 L1596.7,135.3 L1597.2,135.2 L1597.5,135.3 L1597.8,135.7 L1598.3,135.5 L1598.4,136.3 L1598.7,136.6 L1599.2,136.2 L1599.6,136.2 L1599.7,137.1 L1600.2,136.8 L1600.4,137.4 L1600.9,137.2 L1601.3,137.3 L1601.2,138.5 L1602.1,137.3 L1602.5,137.4 L1602.8,137.7 L1602.9,138.4 L1603.4,138.3 L1603.7,138.4 L1604.0,138.9 L1604.4,138.8 L1604.8,139.0 L1605.3,138.7 L1605.5,139.2 L1605.8,139.5 L1606.4,139.1 L1606.5,139.9 L1606.8,140.0 L1607.5,139.5 L1607.9,139.6 L1608.0,140.2 L1608.6,139.8 L1608.4,141.7 L1609.3,140.4 L1609.5,140.8 L1610.0,140.7 L1610.4,140.7 L1610.9,140.5 L1611.2,140.8 L1611.7,140.4 L1612.3,140.0 L1614.6,139.4 L1614.4,138.6 L1614.2,137.9 L1613.7,138.2 L1613.5,137.4 L1613.1,137.3 L1612.8,137.0 L1612.2,137.2 L1611.8,137.1 L1611.4,137.1 L1610.9,137.0 L1610.9,136.0 L1610.2,136.7 L1610.4,135.1 L1609.6,135.9 L1609.3,135.5 L1608.9,135.5 L1608.4,135.6 L1608.2,135.1 L1607.9,134.7 L1607.3,135.0 L1607.0,134.5 L1606.6,134.3 L1606.2,134.3 L1605.7,134.4 L1605.3,134.3 L1605.6,132.4 L1604.7,133.5 L1604.1,133.9 L1603.7,133.6 L1603.4,133.4 L1603.0,133.1 L1602.6,133.1 L1602.3,132.6 L1602.0,132.4 L1601.4,132.6 L1600.8,132.9 L1600.5,132.6 L1600.1,132.5 L1599.8,132.1 L1599.3,132.2 L1599.1,131.6 L1598.4,132.1 L1597.9,132.3 L1597.6,131.7 L1596.8,132.6Z M1611.7,140.1 L1611.6,141.7 L1612.1,141.5 L1612.3,142.2 L1612.6,142.6 L1612.9,143.0 L1613.4,143.2 L1614.0,142.8 L1614.3,143.1 L1614.7,143.5 L1615.2,143.6 L1615.5,144.0 L1616.1,143.6 L1616.5,144.0 L1616.9,144.0 L1617.4,144.0 L1617.8,144.4 L1618.1,144.8 L1618.6,144.6 L1619.1,144.7 L1619.4,145.1 L1619.8,145.1 L1620.3,144.9 L1620.8,144.8 L1621.0,145.7 L1621.5,145.3 L1622.0,145.0 L1622.3,145.7 L1622.9,145.2 L1623.1,146.0 L1623.7,145.3 L1624.0,146.1 L1624.6,145.6 L1625.0,145.8 L1625.5,145.5 L1625.8,146.1 L1626.3,145.9 L1626.7,146.0 L1627.1,146.2 L1627.5,146.6 L1628.3,145.0 L1628.8,142.5 L1628.6,141.4 L1628.2,141.1 L1627.8,141.8 L1627.5,141.0 L1627.1,141.2 L1626.9,140.7 L1626.4,141.2 L1626.1,140.9 L1625.8,140.5 L1625.5,140.0 L1625.0,140.5 L1624.9,139.2 L1624.3,140.2 L1623.9,140.1 L1623.7,139.6 L1623.2,140.1 L1622.8,140.0 L1622.4,140.0 L1622.2,139.1 L1621.9,139.0 L1621.5,139.0 L1620.9,139.6 L1620.6,139.3 L1620.2,139.1 L1619.8,139.4 L1619.5,139.1 L1619.2,138.8 L1618.8,138.8 L1618.4,138.9 L1618.1,138.8 L1617.6,139.0 L1617.4,138.6 L1616.9,138.8 L1616.7,138.3 L1616.2,138.7 L1616.0,138.2 L1615.5,138.5 L1615.2,138.2 L1614.6,138.8 L1614.1,139.3Z M1627.6,145.6 L1628.0,145.7 L1628.4,145.8 L1628.7,146.4 L1629.1,145.8 L1629.5,146.0 L1629.8,146.8 L1630.3,146.5 L1630.7,146.4 L1631.0,147.1 L1631.5,146.7 L1631.9,146.9 L1632.2,148.4 L1632.7,147.0 L1633.1,146.7 L1633.5,147.0 L1633.9,146.4 L1634.3,146.4 L1634.7,146.2 L1635.1,146.0 L1635.5,146.0 L1635.9,145.5 L1636.9,142.3 L1636.4,142.2 L1636.0,142.2 L1635.7,142.5 L1635.2,142.4 L1634.8,141.7 L1634.4,142.2 L1634.0,142.1 L1633.6,141.0 L1633.2,141.8 L1632.8,142.1 L1632.5,141.7 L1632.1,140.6 L1631.7,141.8 L1631.3,141.5 L1631.0,139.9 L1630.5,141.5 L1630.0,142.2 L1629.6,142.0 L1629.2,142.0 L1628.7,142.5 L1628.3,142.3Z M1635.3,145.4 L1635.7,145.2 L1636.2,145.6 L1636.6,145.3 L1637.2,145.9 L1637.5,145.3 L1637.9,145.1 L1638.5,145.7 L1639.0,145.7 L1639.4,145.6 L1639.9,145.6 L1640.2,145.2 L1640.7,145.3 L1641.0,145.0 L1641.4,144.6 L1641.9,145.0 L1642.2,144.5 L1642.6,144.4 L1643.2,144.8 L1643.4,144.0 L1643.9,144.1 L1644.7,145.3 L1644.7,144.1 L1645.0,143.6 L1645.6,144.0 L1646.2,144.5 L1646.1,143.0 L1646.5,143.0 L1647.0,143.1 L1647.3,142.8 L1647.8,142.9 L1648.0,142.5 L1648.6,142.9 L1649.0,142.8 L1649.3,142.6 L1649.5,141.9 L1650.0,142.0 L1650.3,141.7 L1650.7,141.6 L1651.2,141.6 L1651.6,141.7 L1651.9,141.1 L1652.4,141.4 L1652.9,141.6 L1653.2,141.2 L1653.5,140.8 L1654.0,141.0 L1654.2,140.2 L1654.7,140.5 L1655.1,140.4 L1655.6,140.4 L1655.9,140.0 L1656.2,139.6 L1656.8,140.1 L1657.0,139.6 L1657.5,139.8 L1657.9,139.6 L1658.2,139.1 L1658.7,139.2 L1659.1,139.1 L1659.4,138.8 L1659.7,138.4 L1660.3,138.9 L1660.5,138.2 L1660.9,138.1 L1661.1,137.5 L1661.4,137.1 L1661.8,137.0 L1662.4,137.3 L1662.8,137.2 L1663.0,136.4 L1663.6,136.8 L1663.9,136.6 L1664.8,137.5 L1663.5,132.5 L1663.3,132.9 L1662.9,133.1 L1662.0,131.9 L1662.2,133.4 L1661.7,133.1 L1660.6,131.4 L1661.1,133.8 L1660.5,133.4 L1659.9,132.9 L1659.3,132.5 L1659.5,134.1 L1658.9,133.7 L1658.6,133.9 L1658.2,133.9 L1658.0,134.5 L1657.4,134.0 L1657.1,134.4 L1656.3,133.4 L1656.5,135.1 L1656.0,135.0 L1655.7,135.3 L1655.1,134.7 L1654.9,135.4 L1654.4,135.1 L1654.0,135.1 L1653.9,136.0 L1653.4,135.9 L1652.9,135.5 L1652.5,135.6 L1652.1,135.7 L1651.5,135.2 L1651.6,136.7 L1650.7,135.2 L1650.8,136.8 L1650.3,136.5 L1650.1,137.1 L1649.7,137.2 L1649.1,136.8 L1648.9,137.4 L1648.5,137.6 L1647.4,135.5 L1647.6,137.5 L1647.3,137.9 L1647.0,138.1 L1646.5,138.0 L1645.7,136.9 L1645.7,138.2 L1645.4,138.5 L1644.9,138.4 L1644.6,138.8 L1644.4,139.3 L1643.9,139.2 L1643.5,139.2 L1643.2,139.4 L1642.8,139.5 L1642.1,138.8 L1642.0,139.8 L1641.5,139.6 L1641.2,139.7 L1641.0,140.4 L1640.1,139.0 L1640.3,140.6 L1639.8,140.6 L1639.6,141.2 L1639.1,140.7 L1638.7,140.8 L1638.5,141.5 L1638.2,141.8 L1637.7,141.3 L1637.4,141.8 L1637.2,142.2 L1636.8,142.6 L1636.3,141.8Z M1663.4,135.6 L1664.0,135.9 L1664.9,136.9 L1665.1,136.1 L1665.3,135.4 L1665.8,135.6 L1666.5,135.9 L1666.8,135.6 L1667.2,135.3 L1667.7,135.4 L1668.0,135.1 L1669.0,136.1 L1668.9,134.9 L1669.3,134.6 L1670.0,135.1 L1670.8,135.7 L1670.8,134.8 L1670.7,133.6 L1671.2,133.6 L1671.4,133.1 L1671.7,132.8 L1672.3,133.1 L1672.7,132.9 L1673.0,132.5 L1673.4,132.4 L1674.2,133.1 L1673.9,131.5 L1675.0,132.8 L1674.8,131.3 L1675.2,131.2 L1675.5,131.0 L1675.7,130.3 L1676.2,130.5 L1676.4,129.7 L1675.1,128.2 L1674.6,127.8 L1673.7,126.9 L1673.8,128.2 L1673.3,128.0 L1672.9,128.2 L1672.6,128.4 L1672.0,128.1 L1671.6,128.1 L1671.2,128.1 L1671.0,128.7 L1670.6,128.8 L1670.4,129.3 L1669.9,129.2 L1669.4,129.0 L1669.1,129.3 L1668.6,129.3 L1668.3,129.5 L1668.0,129.8 L1667.6,129.8 L1667.5,130.5 L1666.6,129.6 L1666.6,130.3 L1666.4,130.9 L1666.2,131.4 L1665.9,131.7 L1665.2,131.0 L1665.2,132.0 L1664.6,131.6 L1664.5,132.3 L1664.2,132.5 L1663.9,132.7 L1663.6,132.9 L1663.6,133.9Z M1676.4,131.1 L1676.7,130.8 L1677.1,130.8 L1677.3,130.4 L1677.9,130.9 L1678.1,130.7 L1678.5,130.6 L1678.9,130.8 L1679.3,130.6 L1679.7,130.7 L1680.5,131.7 L1680.5,130.7 L1680.8,130.3 L1681.0,129.8 L1681.6,130.3 L1681.9,130.2 L1682.1,129.7 L1682.4,129.2 L1683.0,130.1 L1683.1,129.1 L1683.6,129.5 L1683.9,129.1 L1684.2,129.0 L1684.4,128.3 L1684.7,128.2 L1685.2,128.3 L1685.5,128.2 L1685.8,128.0 L1685.7,123.8 L1685.2,123.6 L1684.8,124.1 L1684.2,123.6 L1683.9,124.2 L1683.4,124.2 L1682.8,123.6 L1682.4,123.8 L1682.0,124.1 L1681.5,124.0 L1681.1,124.1 L1680.2,122.9 L1680.1,124.0 L1679.6,124.0 L1679.5,125.0 L1679.0,124.8 L1678.5,124.6 L1678.2,125.1 L1677.7,125.2 L1677.3,125.1 L1676.8,125.2 L1676.5,125.6 L1676.2,126.3 L1675.9,126.7 L1675.4,126.6 L1675.1,127.2 L1674.8,127.6 L1674.4,127.7Z M1685.5,128.7 L1685.8,128.4 L1686.1,127.8 L1686.5,128.0 L1687.2,129.5 L1687.2,127.8 L1687.8,129.0 L1688.2,129.7 L1688.3,127.7 L1688.7,128.0 L1689.0,127.9 L1689.4,128.4 L1689.7,128.0 L1690.1,128.2 L1690.4,128.5 L1690.8,128.0 L1691.1,128.0 L1691.4,128.0 L1691.8,128.0 L1692.1,127.8 L1692.4,128.1 L1692.8,128.1 L1693.2,127.8 L1693.6,127.9 L1693.8,128.3 L1694.3,127.7 L1694.7,127.8 L1695.3,127.1 L1695.7,127.1 L1697.2,125.6 L1697.0,124.9 L1696.7,124.4 L1696.3,124.3 L1695.9,124.0 L1695.5,123.7 L1695.1,123.6 L1694.6,123.8 L1694.2,123.6 L1693.9,122.7 L1693.2,123.3 L1692.9,122.5 L1692.4,122.5 L1691.9,123.2 L1691.4,122.5 L1690.9,123.0 L1690.5,123.1 L1690.0,122.7 L1689.5,122.8 L1689.1,122.7 L1688.6,122.7 L1688.2,123.4 L1687.7,123.2 L1687.2,122.3 L1686.9,123.6 L1686.4,123.6 L1686.0,123.9 L1685.7,124.4 L1685.4,125.2Z M1695.8,127.8 L1696.3,127.5 L1696.5,128.1 L1697.1,127.8 L1697.2,128.5 L1697.5,128.9 L1697.9,129.0 L1698.3,129.0 L1698.8,128.9 L1698.9,129.7 L1699.3,129.8 L1699.9,129.5 L1700.1,130.1 L1700.4,130.3 L1700.7,130.6 L1701.1,130.9 L1701.6,130.8 L1701.8,131.2 L1702.4,131.1 L1702.7,131.4 L1703.2,131.3 L1703.5,131.7 L1704.0,131.7 L1704.4,131.7 L1704.9,131.7 L1705.2,132.1 L1705.8,131.9 L1705.9,132.6 L1707.4,129.8 L1707.1,129.6 L1706.7,129.5 L1706.7,128.7 L1706.2,128.7 L1706.1,128.2 L1706.5,126.5 L1705.3,128.0 L1705.2,127.3 L1704.7,127.4 L1704.5,126.8 L1703.9,127.2 L1703.8,126.6 L1703.3,126.6 L1702.9,126.6 L1702.5,126.5 L1702.2,126.1 L1701.7,126.2 L1701.5,125.6 L1700.9,126.0 L1700.9,125.1 L1700.3,125.4 L1699.8,125.4 L1699.3,125.7 L1699.0,125.3 L1698.7,125.0 L1698.1,125.2 L1697.8,124.9Z M1705.3,132.5 L1705.7,132.6 L1705.6,133.6 L1706.1,133.3 L1706.2,133.9 L1706.7,133.7 L1706.9,134.1 L1706.9,134.8 L1707.1,135.2 L1707.6,134.9 L1708.1,134.9 L1708.2,135.3 L1708.6,135.4 L1708.6,136.0 L1709.1,136.0 L1709.3,136.2 L1709.6,136.5 L1710.0,136.5 L1710.5,136.5 L1710.4,137.2 L1710.5,137.7 L1711.1,137.5 L1711.8,137.2 L1712.0,137.6 L1712.5,137.5 L1712.9,137.5 L1713.3,137.6 L1712.7,139.0 L1716.9,136.6 L1717.1,135.6 L1716.8,135.3 L1716.6,134.7 L1716.0,134.9 L1715.7,134.5 L1715.3,134.2 L1715.1,133.8 L1714.8,133.5 L1715.3,132.0 L1714.1,132.9 L1713.6,132.8 L1713.2,132.5 L1713.1,131.9 L1712.7,131.7 L1712.2,131.6 L1711.8,131.3 L1711.7,130.7 L1711.3,130.4 L1710.8,130.5 L1710.1,130.6 L1709.8,130.3 L1709.6,129.6 L1709.0,129.6 L1708.5,129.7 L1708.1,129.5 L1707.4,129.7 L1706.9,129.7Z M1713.2,137.6 L1713.7,137.6 L1713.6,138.5 L1714.0,138.8 L1714.5,138.7 L1714.8,139.1 L1715.2,139.4 L1715.5,139.6 L1715.4,140.5 L1716.0,140.5 L1716.3,140.9 L1716.7,141.0 L1717.0,141.4 L1717.4,141.7 L1717.5,142.3 L1718.0,142.4 L1718.6,142.3 L1718.9,142.6 L1719.3,142.9 L1719.6,143.3 L1719.7,143.9 L1720.0,144.2 L1720.7,144.0 L1720.7,144.7 L1720.3,146.0 L1721.7,144.8 L1722.2,145.0 L1722.2,145.7 L1722.6,145.9 L1723.3,145.7 L1723.3,146.4 L1723.9,146.4 L1724.2,146.7 L1724.6,147.0 L1725.2,146.8 L1725.6,147.0 L1725.8,147.5 L1726.5,147.3 L1726.8,147.8 L1727.3,147.8 L1728.0,147.6 L1727.7,145.0 L1727.9,144.1 L1727.7,143.8 L1727.2,143.8 L1727.2,143.3 L1726.7,143.4 L1726.6,142.9 L1726.5,142.4 L1726.3,142.0 L1725.9,142.1 L1725.6,141.9 L1725.2,141.8 L1724.8,141.7 L1724.7,141.3 L1724.4,141.0 L1724.0,141.0 L1723.9,140.5 L1723.7,140.1 L1723.6,139.7 L1722.9,140.1 L1722.9,139.5 L1722.7,139.2 L1722.1,139.3 L1721.7,139.4 L1721.6,138.9 L1721.6,138.3 L1720.8,138.8 L1720.6,138.5 L1720.5,138.1 L1720.0,138.1 L1720.1,137.4 L1719.8,137.3 L1719.0,137.7 L1718.7,137.5 L1718.9,136.7 L1718.5,136.6 L1718.2,136.4 L1717.4,136.9 L1717.9,135.7 L1716.8,136.6 L1716.4,136.4Z M1726.6,148.7 L1727.8,147.7 L1728.2,147.8 L1728.2,148.5 L1728.4,148.7 L1728.8,149.0 L1729.2,149.0 L1729.1,149.9 L1729.8,149.5 L1728.9,151.5 L1729.9,150.7 L1730.3,150.7 L1730.5,151.1 L1731.1,151.0 L1731.5,151.1 L1731.7,151.5 L1732.2,151.5 L1732.4,151.8 L1732.6,152.3 L1732.8,152.7 L1733.0,153.1 L1733.5,153.0 L1733.7,153.4 L1734.2,153.3 L1734.5,153.7 L1734.8,154.0 L1735.3,153.8 L1735.2,154.8 L1735.9,154.5 L1736.3,154.5 L1736.6,154.6 L1736.8,155.2 L1737.1,155.5 L1737.5,155.5 L1738.0,155.5 L1738.3,155.7 L1738.4,156.3 L1738.8,156.3 L1739.3,156.3 L1739.4,156.9 L1740.1,156.4 L1740.3,156.9 L1740.6,157.1 L1741.0,157.3 L1741.2,157.6 L1741.5,157.9 L1742.1,157.6 L1742.3,158.0 L1743.0,157.6 L1743.2,157.9 L1743.5,158.3 L1743.8,158.6 L1744.0,158.9 L1744.5,158.8 L1744.8,159.1 L1745.1,159.2 L1745.8,158.7 L1746.0,159.1 L1746.3,159.5 L1746.7,159.5 L1747.0,159.7 L1747.6,159.4 L1747.8,159.7 L1747.6,161.3 L1748.5,160.1 L1748.8,160.3 L1749.3,160.1 L1749.1,161.4 L1749.9,160.6 L1750.4,160.4 L1751.0,160.1 L1751.2,160.5 L1753.8,159.1 L1753.4,158.9 L1753.2,158.3 L1752.9,158.1 L1752.5,157.9 L1752.2,157.3 L1751.6,157.6 L1751.6,156.7 L1751.2,156.4 L1750.5,156.9 L1750.1,156.6 L1749.7,156.5 L1749.4,156.1 L1749.1,155.9 L1748.6,155.9 L1748.3,155.4 L1748.0,155.0 L1747.5,155.1 L1747.3,154.7 L1747.0,154.1 L1746.6,154.0 L1746.1,154.1 L1745.7,154.1 L1745.3,153.9 L1744.9,153.8 L1744.7,153.1 L1744.3,153.0 L1743.7,153.2 L1743.7,152.4 L1743.1,152.6 L1742.9,152.1 L1742.4,152.1 L1741.8,152.3 L1741.5,152.0 L1741.1,151.9 L1740.8,151.6 L1740.6,151.1 L1740.4,150.6 L1739.9,150.6 L1739.5,150.5 L1738.9,150.7 L1738.6,150.4 L1738.1,150.4 L1737.8,150.1 L1737.6,149.6 L1737.1,149.7 L1737.4,148.3 L1736.8,148.5 L1736.1,148.9 L1735.7,148.9 L1735.6,148.2 L1734.9,148.6 L1735.0,147.7 L1734.6,147.5 L1734.2,147.4 L1733.9,147.1 L1733.4,147.0 L1732.7,147.3 L1732.4,147.1 L1733.3,145.0 L1732.1,146.0 L1731.3,146.3 L1731.0,146.1 L1731.0,145.4 L1730.4,145.4 L1729.7,145.7 L1729.8,144.8 L1729.2,145.0 L1728.8,144.7 L1728.4,144.5 L1728.1,144.3 L1727.6,144.2Z M1751.9,160.3 L1752.1,160.8 L1752.4,161.0 L1752.6,161.7 L1753.0,161.8 L1753.2,162.3 L1753.6,162.4 L1753.8,163.0 L1754.4,162.8 L1754.5,163.5 L1754.8,163.8 L1755.4,163.6 L1755.6,164.2 L1756.1,164.2 L1756.7,164.0 L1756.9,164.6 L1757.4,164.5 L1757.6,165.3 L1758.1,165.4 L1758.4,165.7 L1759.1,165.3 L1759.4,166.0 L1760.0,165.6 L1760.3,166.3 L1760.9,166.1 L1761.3,166.2 L1761.9,165.9 L1762.3,166.6 L1762.8,166.2 L1763.2,166.9 L1763.8,166.2 L1764.2,167.0 L1764.8,166.2 L1765.3,168.5 L1765.8,166.8 L1766.2,166.2 L1766.7,166.4 L1767.2,166.1 L1767.9,167.8 L1768.1,166.3 L1768.5,165.9 L1768.8,165.1 L1769.2,164.8 L1769.7,164.8 L1769.4,163.1 L1769.0,162.9 L1768.5,162.6 L1768.2,162.6 L1767.6,161.4 L1767.4,162.6 L1767.0,162.5 L1766.7,162.3 L1766.3,162.3 L1765.9,161.9 L1765.6,161.8 L1765.3,162.5 L1765.0,162.0 L1764.6,162.1 L1764.3,161.7 L1764.0,161.6 L1763.7,162.0 L1763.3,162.2 L1763.0,161.9 L1762.7,162.1 L1762.4,161.7 L1762.1,161.6 L1761.7,161.8 L1761.5,161.1 L1761.1,161.4 L1761.0,160.7 L1761.1,159.4 L1760.1,161.0 L1759.8,160.9 L1759.6,160.3 L1759.3,160.3 L1759.1,159.8 L1758.4,160.5 L1758.1,160.2 L1757.9,159.7 L1757.4,159.8 L1756.9,160.1 L1756.7,159.5 L1756.4,159.3 L1756.1,159.1 L1755.5,159.4 L1755.0,159.6 L1754.7,159.3 L1753.9,160.1Z M1769.1,164.7 L1769.8,165.7 L1770.2,165.7 L1770.5,165.2 L1771.0,165.3 L1771.7,166.0 L1771.8,164.9 L1772.3,165.1 L1772.8,165.3 L1773.2,165.1 L1773.7,165.2 L1773.9,164.6 L1774.3,164.5 L1774.6,164.1 L1775.3,164.6 L1775.6,164.4 L1775.9,163.9 L1776.4,164.0 L1776.7,163.8 L1777.0,163.5 L1777.5,163.5 L1777.9,163.4 L1778.0,162.6 L1778.4,162.6 L1778.7,162.2 L1779.0,162.0 L1779.5,162.1 L1779.7,161.6 L1780.1,161.5 L1780.5,161.3 L1780.2,159.8 L1779.5,158.0 L1779.0,157.8 L1778.3,157.2 L1778.1,157.8 L1777.7,157.8 L1777.3,157.8 L1776.7,157.6 L1776.5,158.0 L1776.2,158.3 L1775.6,158.0 L1775.3,158.3 L1775.0,158.6 L1774.7,158.8 L1774.4,159.2 L1774.1,159.4 L1773.6,159.2 L1773.1,159.0 L1773.1,159.9 L1772.7,160.0 L1772.4,160.1 L1771.9,160.0 L1771.5,160.0 L1771.2,160.2 L1771.0,160.7 L1770.6,161.0 L1770.3,161.2 L1769.8,160.8 L1769.5,161.1 L1769.2,161.1 L1768.9,161.6 L1768.9,163.0Z M1781.4,160.2 L1781.7,160.0 L1782.4,160.4 L1782.6,159.9 L1783.0,159.7 L1783.5,159.8 L1784.1,160.0 L1784.9,160.4 L1785.0,159.9 L1785.3,159.5 L1785.4,158.9 L1786.1,159.2 L1786.3,158.9 L1786.8,158.8 L1787.0,158.4 L1787.5,158.3 L1787.8,158.0 L1788.1,157.8 L1788.3,157.2 L1788.8,157.3 L1789.0,156.8 L1789.2,156.4 L1789.8,156.5 L1790.2,156.4 L1790.5,156.1 L1790.4,155.3 L1790.7,155.0 L1790.9,154.6 L1792.7,156.1 L1791.4,154.0 L1792.1,154.1 L1792.1,153.5 L1792.2,153.0 L1792.7,152.9 L1792.6,152.1 L1791.8,150.4 L1790.9,150.0 L1791.0,150.7 L1790.0,150.2 L1789.7,150.4 L1789.5,150.8 L1788.6,150.3 L1788.8,151.2 L1788.0,150.8 L1788.0,151.4 L1787.8,151.9 L1787.3,151.8 L1787.3,152.5 L1787.0,152.7 L1786.7,153.0 L1786.3,153.1 L1786.0,153.5 L1785.6,153.5 L1785.3,153.9 L1784.8,153.8 L1784.4,153.9 L1784.2,154.3 L1783.8,154.4 L1783.5,154.7 L1783.2,155.0 L1782.9,155.2 L1782.8,155.7 L1782.6,156.2 L1781.9,155.7 L1781.8,156.3 L1781.4,156.5 L1781.1,156.6 L1781.0,157.4 L1780.9,158.0 L1780.4,157.9Z M1793.2,152.2 L1792.9,151.3 L1793.6,151.3 L1794.0,151.3 L1794.6,151.2 L1794.6,150.7 L1795.7,151.2 L1795.2,150.1 L1795.9,150.2 L1796.4,150.1 L1796.3,149.4 L1797.0,149.6 L1797.2,149.1 L1797.8,149.2 L1798.1,148.9 L1798.1,148.3 L1798.3,148.0 L1798.8,147.8 L1799.0,147.4 L1799.2,147.0 L1799.6,146.9 L1799.8,146.5 L1800.3,146.4 L1800.7,146.2 L1800.9,145.9 L1801.4,145.7 L1801.3,145.1 L1801.8,145.0 L1802.2,144.8 L1802.2,144.3 L1803.0,144.4 L1802.8,143.7 L1803.1,143.4 L1802.9,142.7 L1803.3,142.5 L1803.4,142.1 L1803.8,141.9 L1804.2,141.8 L1804.8,141.7 L1805.1,141.4 L1804.8,140.6 L1805.1,140.4 L1805.5,140.2 L1805.9,140.1 L1805.9,139.5 L1806.4,139.4 L1806.7,139.2 L1807.0,138.9 L1807.1,138.5 L1806.8,137.6 L1807.3,137.6 L1807.5,137.2 L1808.0,137.1 L1808.1,136.7 L1808.1,136.2 L1808.1,135.7 L1808.8,135.8 L1808.9,135.3 L1809.8,135.6 L1809.0,134.3 L1809.0,133.8 L1809.3,133.5 L1808.4,131.4 L1808.1,131.7 L1807.5,131.7 L1807.4,132.2 L1807.0,132.3 L1806.6,132.4 L1806.1,132.5 L1806.0,133.0 L1805.4,133.0 L1805.2,133.4 L1804.7,133.6 L1804.1,133.5 L1804.1,134.1 L1803.4,134.1 L1803.5,134.7 L1802.2,134.1 L1802.5,134.9 L1802.4,135.4 L1802.4,135.9 L1801.7,135.8 L1801.4,136.2 L1801.0,136.4 L1800.1,136.1 L1800.5,137.0 L1799.5,136.7 L1799.4,137.2 L1800.2,138.4 L1799.7,138.5 L1799.1,138.5 L1798.9,138.9 L1798.6,139.2 L1798.9,139.9 L1798.2,139.9 L1798.2,140.4 L1796.8,139.8 L1797.2,140.6 L1796.5,140.5 L1797.1,141.6 L1797.1,142.1 L1796.6,142.3 L1796.3,142.5 L1795.9,142.7 L1796.0,143.3 L1795.8,143.6 L1795.6,144.0 L1795.0,144.0 L1794.9,144.4 L1794.9,145.0 L1794.2,144.9 L1793.9,145.2 L1794.1,145.8 L1792.7,145.0 L1792.2,145.1 L1793.4,146.8 L1793.1,147.0 L1793.1,147.6 L1792.5,147.6 L1792.3,147.9 L1792.2,148.5 L1792.0,148.7 L1792.1,149.5 L1791.8,149.8Z M1809.5,134.4 L1809.3,133.6 L1810.3,133.9 L1810.4,133.4 L1810.7,133.1 L1811.4,133.2 L1811.6,132.8 L1812.7,133.3 L1812.2,132.2 L1812.2,131.7 L1812.8,131.7 L1813.1,131.4 L1813.6,131.2 L1813.6,130.7 L1814.0,130.5 L1814.3,130.2 L1814.6,129.9 L1814.9,129.6 L1815.0,129.1 L1815.8,129.3 L1815.7,128.7 L1815.8,128.2 L1816.3,128.1 L1816.9,128.1 L1816.7,127.3 L1817.0,127.0 L1817.3,126.8 L1818.7,127.5 L1817.9,126.2 L1818.4,126.1 L1818.8,125.9 L1818.9,125.5 L1819.3,125.3 L1819.7,125.0 L1820.0,124.7 L1819.7,123.9 L1820.0,123.7 L1820.3,123.4 L1821.0,123.5 L1821.3,123.2 L1821.0,122.3 L1821.3,122.1 L1821.6,121.8 L1822.1,121.7 L1822.4,121.4 L1822.7,121.2 L1822.7,120.6 L1823.2,120.6 L1823.6,120.4 L1823.6,119.7 L1824.6,120.3 L1824.3,119.4 L1824.4,118.9 L1824.7,118.6 L1824.5,117.7 L1824.7,117.4 L1822.7,116.0 L1822.2,116.0 L1821.9,116.2 L1821.6,116.5 L1821.0,116.5 L1821.1,117.2 L1820.6,117.2 L1820.3,117.5 L1819.6,117.3 L1819.2,117.5 L1819.0,117.8 L1817.6,117.0 L1818.0,118.0 L1818.1,118.7 L1817.9,119.0 L1817.4,119.1 L1817.3,119.5 L1817.0,119.8 L1816.8,120.1 L1815.6,119.6 L1816.3,120.8 L1815.9,121.0 L1815.4,121.1 L1815.2,121.4 L1814.7,121.5 L1814.4,121.7 L1814.3,122.2 L1813.1,121.6 L1814.0,123.0 L1813.4,122.9 L1813.5,123.6 L1813.2,123.8 L1812.7,123.9 L1812.8,124.6 L1812.6,124.9 L1812.0,124.9 L1811.9,125.3 L1811.8,125.8 L1811.5,125.9 L1811.3,126.3 L1810.9,126.5 L1810.8,126.9 L1810.3,127.0 L1810.5,127.7 L1810.2,128.0 L1809.9,128.2 L1809.7,128.6 L1809.4,128.8 L1809.1,129.0 L1809.3,129.7 L1808.9,129.9 L1808.6,130.2 L1808.1,130.2 L1808.5,131.1 L1808.3,131.4 L1808.0,131.7Z M1824.5,117.8 L1824.8,117.6 L1825.5,117.9 L1825.5,117.3 L1825.9,117.1 L1826.5,117.3 L1826.6,116.7 L1827.2,116.8 L1828.1,117.4 L1827.6,116.2 L1828.2,116.3 L1829.1,116.8 L1828.8,115.8 L1829.2,115.7 L1829.5,115.4 L1829.6,114.9 L1829.9,114.7 L1830.2,114.5 L1830.5,114.1 L1831.8,115.5 L1831.2,113.9 L1831.8,114.0 L1831.8,113.4 L1832.2,113.3 L1832.7,113.4 L1833.1,113.3 L1833.2,112.8 L1833.4,112.3 L1834.0,112.7 L1834.6,113.1 L1834.6,112.2 L1834.9,111.9 L1835.3,112.0 L1835.6,111.7 L1835.8,111.2 L1836.0,110.7 L1836.6,111.1 L1836.7,110.4 L1837.1,110.1 L1835.3,107.1 L1835.1,107.7 L1834.8,108.2 L1834.4,108.3 L1833.7,107.8 L1833.3,107.9 L1832.9,108.1 L1832.7,108.7 L1832.1,108.4 L1831.8,108.8 L1831.5,109.1 L1830.8,108.7 L1830.7,109.4 L1830.1,109.3 L1829.9,109.8 L1828.6,108.5 L1828.3,108.8 L1828.4,109.9 L1828.2,110.3 L1827.8,110.4 L1827.4,110.5 L1827.1,110.8 L1826.9,111.3 L1826.3,111.2 L1826.0,111.5 L1825.7,111.8 L1825.3,112.0 L1825.4,112.9 L1824.8,112.7 L1824.7,113.3 L1824.5,113.7 L1824.0,113.8 L1823.7,114.1 L1823.5,114.5 L1823.1,114.6 L1822.8,115.0 L1822.8,115.6 L1822.7,116.2 L1822.0,116.0Z M1836.7,110.5 L1837.2,111.0 L1837.6,110.9 L1837.9,110.8 L1838.4,111.2 L1838.7,110.8 L1839.0,110.6 L1839.4,111.0 L1839.9,111.4 L1840.6,113.1 L1840.5,110.9 L1840.8,110.7 L1841.2,111.3 L1841.5,110.9 L1841.8,111.3 L1842.1,110.4 L1842.4,110.9 L1842.8,110.7 L1843.1,111.4 L1843.4,112.5 L1843.8,110.8 L1844.1,111.2 L1844.4,111.2 L1844.8,110.8 L1845.1,110.8 L1845.5,110.8 L1845.9,110.9 L1846.1,111.5 L1846.6,110.8 L1846.9,111.0 L1847.2,111.6 L1847.6,111.2 L1848.0,111.4 L1848.3,111.7 L1848.7,111.6 L1849.0,111.9 L1849.5,111.4 L1849.7,112.1 L1850.2,111.8 L1850.5,112.2 L1851.1,111.5 L1851.3,112.1 L1851.7,111.9 L1852.1,112.0 L1852.5,112.0 L1853.0,111.8 L1853.0,113.3 L1853.8,111.8 L1855.6,106.6 L1855.2,106.6 L1854.5,107.4 L1854.1,107.3 L1853.6,107.6 L1853.8,105.4 L1852.9,106.9 L1852.4,107.3 L1852.0,107.0 L1851.6,107.1 L1851.3,106.3 L1850.8,106.7 L1850.6,105.8 L1850.0,106.4 L1849.6,106.3 L1849.3,105.5 L1848.8,105.5 L1848.4,105.4 L1847.9,105.7 L1847.4,105.8 L1847.0,105.6 L1846.6,105.4 L1846.1,105.3 L1845.6,105.4 L1845.2,104.8 L1844.8,104.7 L1844.3,105.0 L1843.8,104.9 L1843.3,105.1 L1842.9,104.7 L1842.4,105.3 L1841.9,104.7 L1841.5,105.5 L1841.0,105.4 L1840.4,105.0 L1840.0,105.8 L1839.5,105.2 L1839.0,105.2 L1838.7,106.2 L1838.0,105.0 L1837.8,106.4 L1837.4,106.5 L1836.9,106.3 L1836.6,106.9 L1836.1,107.0 L1835.7,107.1 L1835.4,107.6 L1834.5,106.6Z M1853.2,112.0 L1853.8,111.5 L1854.0,112.1 L1854.5,111.9 L1854.8,112.5 L1855.2,112.6 L1855.6,112.3 L1856.0,112.5 L1856.3,112.7 L1856.5,113.5 L1856.9,113.6 L1857.3,113.4 L1857.5,114.1 L1857.8,114.2 L1857.6,115.9 L1858.5,114.6 L1858.9,114.6 L1859.4,114.5 L1859.7,114.7 L1860.1,114.8 L1860.3,115.4 L1860.9,114.8 L1861.0,115.7 L1861.7,114.9 L1862.0,115.2 L1862.4,115.5 L1862.6,115.8 L1862.8,116.5 L1863.6,115.7 L1863.8,116.1 L1864.2,116.3 L1864.9,115.7 L1865.1,116.1 L1865.4,116.5 L1865.8,116.7 L1866.5,116.0 L1866.6,116.8 L1868.9,112.5 L1868.0,113.4 L1867.6,113.5 L1867.2,113.3 L1867.0,112.8 L1866.4,113.3 L1866.3,112.3 L1865.9,112.3 L1865.5,112.2 L1865.0,112.3 L1864.6,112.1 L1864.4,111.5 L1864.0,111.5 L1863.5,111.5 L1863.3,111.0 L1862.8,111.2 L1862.5,110.7 L1862.3,110.2 L1861.7,110.5 L1861.3,110.3 L1861.0,110.0 L1860.7,109.8 L1860.3,109.5 L1859.7,109.9 L1860.0,107.9 L1858.9,109.8 L1859.0,108.3 L1858.3,108.9 L1857.9,108.8 L1857.4,109.1 L1857.0,108.9 L1856.6,108.8 L1856.0,109.4 L1855.7,108.7 L1855.2,109.0 L1854.9,108.6 L1854.4,109.0Z M1866.2,116.3 L1866.7,116.3 L1866.9,116.9 L1867.4,116.9 L1866.9,119.3 L1868.0,117.8 L1868.3,118.1 L1868.7,118.4 L1869.3,118.1 L1869.6,118.4 L1869.8,119.1 L1870.4,118.8 L1870.8,119.1 L1871.1,119.5 L1871.7,119.1 L1871.9,119.7 L1872.4,119.6 L1872.8,119.8 L1873.4,119.6 L1873.8,119.7 L1874.2,119.8 L1874.5,120.2 L1874.8,116.8 L1874.7,116.3 L1874.4,115.9 L1874.1,115.7 L1873.7,115.7 L1873.5,115.4 L1873.2,115.1 L1873.0,114.6 L1872.6,114.6 L1872.3,114.4 L1872.0,114.2 L1871.7,113.9 L1871.2,114.1 L1870.8,114.1 L1870.5,113.9 L1870.3,113.4 L1869.8,113.7 L1869.7,113.1 L1869.2,113.2 L1868.6,113.7 L1868.4,113.2 L1867.7,113.9Z M1874.5,119.1 L1874.8,119.2 L1875.0,119.8 L1875.2,120.3 L1875.8,120.0 L1875.8,120.8 L1876.3,120.7 L1876.8,120.6 L1876.5,122.2 L1877.3,121.4 L1877.1,122.8 L1878.1,121.5 L1878.4,121.8 L1878.7,122.2 L1879.3,121.9 L1879.4,122.5 L1879.6,122.9 L1880.1,122.8 L1880.4,123.0 L1880.9,123.0 L1881.2,123.4 L1881.4,123.8 L1881.7,124.0 L1882.4,123.5 L1882.5,124.2 L1883.0,124.1 L1883.1,124.8 L1883.5,124.9 L1884.0,124.7 L1884.5,124.6 L1884.2,126.2 L1885.0,125.3 L1885.5,125.3 L1885.8,125.4 L1886.2,125.5 L1886.2,126.4 L1886.8,126.1 L1887.1,126.4 L1887.4,126.6 L1888.0,126.3 L1888.3,126.6 L1888.5,127.1 L1888.9,127.2 L1889.4,127.1 L1889.6,127.5 L1890.1,127.4 L1890.3,127.8 L1890.7,128.0 L1890.8,128.5 L1891.4,128.3 L1891.7,128.5 L1892.2,128.4 L1892.4,128.9 L1892.9,128.9 L1893.2,129.2 L1893.4,129.5 L1893.8,129.6 L1894.4,129.5 L1894.6,129.8 L1894.9,130.2 L1895.5,129.9 L1895.7,130.4 L1895.9,130.8 L1896.3,130.9 L1896.7,131.1 L1897.4,130.6 L1897.5,131.3 L1898.0,131.2 L1898.2,131.7 L1898.7,131.5 L1899.4,131.0 L1899.7,131.3 L1901.1,128.6 L1900.7,128.5 L1900.3,128.5 L1899.9,128.2 L1899.4,128.4 L1899.3,127.7 L1898.7,128.0 L1898.4,127.7 L1898.2,127.1 L1897.8,127.0 L1897.3,127.3 L1897.1,126.6 L1896.6,126.8 L1896.2,126.6 L1896.1,126.0 L1895.8,125.6 L1895.4,125.5 L1895.2,125.0 L1894.7,125.2 L1894.3,125.1 L1894.8,123.2 L1893.5,124.8 L1893.1,124.7 L1892.8,124.4 L1893.4,122.3 L1892.3,123.6 L1892.0,123.3 L1891.6,123.1 L1891.8,121.8 L1890.9,122.6 L1890.2,123.0 L1890.1,122.3 L1889.7,122.1 L1889.1,122.5 L1888.7,122.3 L1888.5,121.8 L1888.2,121.4 L1887.8,121.2 L1887.4,121.0 L1886.9,121.2 L1886.6,120.8 L1886.2,120.7 L1885.9,120.3 L1885.5,120.3 L1885.0,120.3 L1884.7,120.1 L1884.3,120.0 L1883.8,119.9 L1883.6,119.5 L1883.0,119.7 L1882.6,119.5 L1882.4,119.0 L1882.0,118.9 L1881.6,118.7 L1881.4,118.3 L1880.8,118.5 L1880.7,117.8 L1880.2,117.9 L1879.7,117.9 L1879.4,117.7 L1878.8,117.9 L1878.4,117.9 L1878.0,117.6 L1877.7,117.3 L1877.4,116.9 L1877.0,116.9 L1876.4,117.2 L1876.1,116.9 L1875.6,117.1 L1875.3,116.6 L1874.9,116.4 L1874.3,116.8Z M1899.8,132.1 L1900.1,132.5 L1900.6,132.4 L1901.0,132.5 L1901.3,132.9 L1901.7,132.8 L1902.1,132.9 L1902.5,133.3 L1902.8,133.6 L1903.0,134.3 L1903.3,134.5 L1903.9,134.1 L1904.2,134.4 L1904.2,135.7 L1904.9,135.2 L1905.3,135.1 L1905.8,134.9 L1906.1,135.5 L1906.6,135.1 L1907.0,135.3 L1907.2,136.1 L1907.7,135.8 L1908.0,136.3 L1908.5,136.1 L1909.0,136.0 L1909.3,136.5 L1909.6,136.8 L1910.2,136.3 L1910.5,136.9 L1910.9,137.1 L1911.2,137.4 L1911.7,137.3 L1912.2,137.0 L1912.7,137.0 L1913.0,137.3 L1913.4,137.6 L1913.8,137.8 L1914.3,137.2 L1914.6,138.0 L1915.0,138.0 L1915.5,137.8 L1915.9,138.1 L1916.4,137.5 L1916.8,137.6 L1917.2,137.7 L1917.6,138.2 L1918.1,137.8 L1918.6,137.5 L1918.9,138.3 L1919.3,137.9 L1919.7,138.1 L1920.1,138.3 L1920.6,137.4 L1921.1,137.4 L1921.5,137.8 L1921.9,137.4 L1922.3,137.9 L1922.2,135.3 L1921.8,135.1 L1921.5,134.1 L1921.1,134.7 L1920.7,134.7 L1920.3,134.4 L1920.1,132.4 L1919.5,134.5 L1919.2,134.2 L1918.8,134.0 L1918.5,133.6 L1918.1,133.9 L1917.7,133.6 L1917.3,133.9 L1917.0,133.1 L1916.9,131.6 L1916.2,133.3 L1915.9,132.9 L1915.5,133.1 L1915.1,132.7 L1914.8,132.5 L1914.3,132.8 L1914.0,132.7 L1913.6,132.8 L1913.6,131.0 L1912.8,132.6 L1912.4,132.7 L1912.1,132.2 L1911.7,132.4 L1911.3,132.3 L1911.1,131.5 L1910.7,131.5 L1910.3,131.5 L1909.9,131.5 L1909.6,131.3 L1909.1,131.6 L1908.7,131.5 L1908.6,130.8 L1908.1,131.0 L1907.6,131.1 L1907.3,130.7 L1906.9,130.9 L1906.5,130.8 L1906.1,130.6 L1905.9,130.2 L1905.9,129.1 L1904.9,130.6 L1904.8,129.8 L1904.1,130.5 L1904.6,128.2 L1903.4,130.1 L1903.2,129.5 L1902.8,129.4 L1902.2,129.9 L1901.7,130.1 L1901.5,129.5 L1901.2,129.4Z M1921.8,137.8 L1922.2,138.4 L1922.6,138.6 L1923.0,138.9 L1923.4,139.2 L1923.9,138.4 L1924.3,139.0 L1924.7,138.9 L1925.1,138.6 L1925.5,139.4 L1926.0,138.8 L1926.4,138.7 L1926.8,139.3 L1927.2,138.7 L1927.6,138.5 L1928.1,138.9 L1928.5,138.2 L1928.9,138.2 L1929.3,137.9 L1929.7,137.9 L1929.7,135.3 L1929.2,134.5 L1928.8,134.7 L1928.4,134.8 L1928.0,134.1 L1927.6,134.4 L1927.1,134.0 L1926.7,134.1 L1926.3,134.5 L1925.9,134.2 L1925.5,134.4 L1925.1,133.9 L1924.7,134.2 L1924.3,134.0 L1923.9,133.8 L1923.4,134.7 L1923.0,134.5 L1922.6,134.2 L1922.2,134.3 L1921.8,134.7Z M1931.0,137.1 L1931.6,138.0 L1932.1,137.5 L1932.7,137.7 L1933.3,138.0 L1933.7,137.4 L1934.2,137.1 L1934.7,136.6 L1933.2,134.5 L1932.9,134.6 L1932.3,132.7 L1932.0,132.5 L1931.9,134.3 L1931.5,133.7 L1931.2,133.9 L1931.0,135.1Z M1936.4,136.4 L1936.8,136.5 L1937.3,137.2 L1937.5,136.8 L1937.9,137.0 L1938.4,137.5 L1938.8,137.5 L1939.1,137.4 L1939.7,138.5 L1939.7,136.6 L1940.1,137.1 L1940.4,136.7 L1940.7,136.6 L1941.3,137.4 L1941.3,136.0 L1942.0,137.2 L1941.8,135.0 L1942.3,133.3 L1941.7,132.7 L1941.3,133.1 L1940.7,132.9 L1940.3,133.0 L1939.7,132.6 L1939.3,132.8 L1938.8,132.7 L1938.4,133.2 L1937.9,133.0 L1937.4,133.1 L1937.0,133.3 L1936.6,133.9 L1936.1,133.4 L1935.8,134.2 L1935.4,134.6 L1935.0,135.0Z M1943.8,135.4 L1944.2,135.0 L1944.7,135.4 L1945.1,135.4 L1945.7,136.0 L1945.9,135.3 L1946.4,135.9 L1946.8,135.5 L1947.1,135.0 L1947.6,135.2 L1947.9,134.9 L1948.4,135.2 L1948.8,135.0 L1949.2,135.0 L1949.6,134.6 L1949.9,134.1 L1950.4,131.7 L1949.9,131.2 L1949.4,131.0 L1949.1,131.5 L1948.6,131.1 L1948.2,131.4 L1947.7,131.0 L1947.3,131.0 L1946.9,131.4 L1946.5,131.2 L1946.1,131.4 L1945.7,131.7 L1945.2,131.6 L1944.9,132.0 L1944.5,132.3 L1944.1,132.3Z M1951.1,133.4 L1951.5,133.4 L1952.0,133.7 L1952.4,133.8 L1952.9,133.6 L1953.4,134.2 L1953.8,134.2 L1954.2,133.6 L1954.6,133.4 L1955.0,133.3 L1955.5,133.2 L1956.0,133.9 L1956.5,133.9 L1957.0,134.3 L1957.5,134.8 L1957.7,132.9 L1958.2,133.5 L1958.8,134.2 L1959.3,134.5 L1959.4,132.5 L1959.8,132.1 L1960.4,133.2 L1959.8,130.9 L1959.2,129.9 L1958.9,130.1 L1958.5,130.0 L1958.1,129.8 L1957.7,129.8 L1957.3,129.9 L1956.9,130.2 L1956.5,130.1 L1956.2,130.3 L1955.9,130.8 L1955.4,130.1 L1955.0,130.6 L1954.7,130.7 L1954.2,130.2 L1953.8,130.4 L1953.5,131.1 L1953.1,130.9 L1952.7,131.0 L1952.3,130.7 L1951.9,130.8 L1951.7,132.1Z M1961.9,131.1 L1962.5,131.9 L1962.8,131.6 L1963.2,131.5 L1963.6,131.6 L1964.1,131.9 L1964.5,131.8 L1964.8,131.4 L1965.1,131.3 L1965.5,131.3 L1965.9,131.0 L1966.2,130.7 L1966.6,130.6 L1967.0,130.7 L1967.3,130.3 L1967.8,130.8 L1968.2,130.8 L1968.9,131.6 L1968.9,130.4 L1969.4,130.4 L1969.7,130.3 L1969.9,129.4 L1970.4,129.7 L1970.9,130.1 L1971.0,128.9 L1971.5,128.2 L1970.8,127.3 L1970.4,127.5 L1969.9,127.2 L1969.5,127.5 L1969.2,128.0 L1968.6,127.4 L1968.2,127.6 L1967.9,127.9 L1967.5,128.0 L1966.9,127.3 L1966.7,128.3 L1966.2,128.2 L1965.9,128.8 L1965.5,128.8 L1965.0,128.4 L1964.7,129.0 L1964.2,128.8 L1963.9,129.3 L1963.3,128.7 L1963.1,129.4 L1962.7,129.6 L1962.2,129.6 L1961.8,129.7 L1961.4,129.9Z M1972.8,128.4 L1973.3,128.6 L1973.9,129.5 L1974.3,129.4 L1974.5,128.8 L1975.0,129.2 L1975.4,129.0 L1975.8,129.2 L1976.2,128.9 L1976.5,128.5 L1976.8,128.4 L1977.3,128.6 L1977.5,127.9 L1978.0,128.3 L1978.3,127.6 L1978.8,128.0 L1979.1,127.6 L1979.4,127.5 L1980.2,125.7 L1979.8,125.7 L1979.1,124.5 L1978.9,125.4 L1978.5,125.6 L1978.2,126.1 L1977.6,125.6 L1977.2,125.4 L1976.5,124.5 L1976.4,125.9 L1976.0,126.0 L1975.5,126.1 L1975.2,126.4 L1974.7,126.1 L1974.4,126.7 L1973.9,126.4 L1973.5,126.8 L1973.3,127.7Z M1981.1,126.5 L1981.6,127.4 L1982.0,127.4 L1982.5,127.9 L1982.7,127.0 L1983.1,127.2 L1983.5,127.1 L1983.7,126.0 L1984.3,125.3 L1984.3,124.9 L1984.1,124.7 L1983.7,124.8 L1983.3,124.8 L1982.8,124.8 L1982.1,123.0 L1982.1,125.6Z" fill="#000"/><path d="M1439.7,127.4 L1441.6,128.7 M1446.9,137.5 L1449.4,140.9 M1449.7,150.6 L1452.9,154.8 M1458.6,159.9 L1463.9,162.9 M1465.6,164.5 L1468.2,165.3 M1474.6,174.0 L1476.8,173.4 M1487.5,178.0 L1488.9,179.4 M1500.0,178.4 L1502.2,176.9 M1513.0,172.8 L1518.4,170.1 M1525.9,161.8 L1530.7,158.4 M1537.3,153.3 L1538.2,150.2 M1542.9,145.6 L1543.5,143.7 M1551.3,136.2 L1552.6,133.1 M1559.1,127.5 L1566.4,126.5 M1569.4,126.3 L1576.3,127.3 M1585.7,128.2 L1589.6,130.2 M1597.4,131.2 L1602.2,131.5 M1604.1,137.0 L1607.2,139.3 M1618.3,141.8 L1623.2,143.5 M1626.0,143.9 L1631.1,145.8 M1635.1,144.8 L1641.0,143.4 M1649.9,141.9 L1655.0,141.4 M1656.6,139.0 L1659.9,137.4 M1667.5,134.9 L1670.2,132.4 M1678.7,125.8 L1682.8,123.0 M1686.7,123.3 L1688.9,124.5 M1691.2,125.7 L1695.0,125.7 M1706.6,129.1 L1709.9,131.5 M1714.1,137.8 L1718.6,141.3 M1721.8,140.6 L1725.4,143.2 M1729.3,144.3 L1731.0,146.4 M1732.3,150.7 L1737.7,155.3 M1749.0,158.6 L1752.1,161.7 M1763.0,163.2 L1766.3,164.1 M1768.9,161.5 L1774.3,159.6 M1776.8,158.5 L1780.4,155.2 M1787.0,152.1 L1788.8,149.2 M1800.8,144.9 L1805.4,141.8 M1807.3,135.7 L1811.0,132.1 M1815.4,129.0 L1816.9,126.0 M1818.9,123.3 L1820.2,121.2 M1829.3,114.9 L1831.4,113.9 M1832.5,111.1 L1836.1,110.3 M1837.9,106.6 L1844.5,104.6 M1849.0,108.7 L1852.6,108.7 M1856.0,111.6 L1861.1,115.1 M1869.4,113.8 L1875.8,115.8 M1878.4,119.8 L1883.3,123.1 M1892.8,127.1 L1894.3,129.3 M1900.2,130.0 L1901.8,131.1 M1911.0,134.0 L1913.8,134.8 M1916.8,135.9 L1922.6,136.5 M1926.9,134.6 L1932.2,133.6 M1941.9,132.3 L1943.9,132.7 M1955.6,133.4 L1961.1,132.9 M1966.5,129.6 L1970.2,127.9 M1973.5,128.2 L1977.8,126.0" fill="none" stroke="#fff" stroke-width="0.8" stroke-linecap="round"/><path d="M1119.0,281.1 L1118.8,280.7 L1118.6,280.4 L1118.5,280.0 L1117.9,280.0 L1118.8,278.6 L1117.5,279.3 L1117.8,278.5 L1117.3,278.4 L1117.0,278.2 L1116.7,277.9 L1117.0,277.0 L1115.8,277.7 L1115.8,277.1 L1115.6,276.7 L1115.4,276.4 L1115.2,276.0 L1114.5,276.1 L1114.5,275.6 L1114.0,275.5 L1114.1,274.8 L1113.5,275.0 L1114.3,273.4 L1112.9,274.4 L1113.0,273.6 L1112.8,273.3 L1112.1,273.6 L1112.1,272.9 L1112.4,271.9 L1111.5,272.4 L1111.2,272.0 L1110.6,272.1 L1110.5,271.5 L1111.1,269.8 L1109.8,271.0 L1109.5,270.5 L1108.8,271.0 L1108.7,270.2 L1108.3,270.2 L1107.9,270.1 L1107.5,269.8 L1107.0,270.0 L1106.9,269.3 L1106.4,269.4 L1105.9,269.5 L1105.6,269.1 L1105.3,268.7 L1104.8,268.8 L1104.3,269.0 L1104.4,267.5 L1103.6,268.5 L1103.1,268.7 L1102.8,268.3 L1102.2,268.8 L1101.9,268.1 L1101.5,268.2 L1101.0,268.6 L1100.6,268.6 L1098.8,270.6 L1099.2,270.2 L1099.6,269.9 L1099.9,271.8 L1100.4,270.4 L1100.8,270.4 L1101.1,270.6 L1101.5,270.9 L1101.8,271.2 L1102.2,271.3 L1102.7,271.0 L1102.9,271.6 L1103.3,271.5 L1103.5,272.2 L1104.1,271.6 L1104.4,272.2 L1104.9,272.0 L1105.1,272.6 L1105.6,272.3 L1105.7,273.1 L1106.2,272.9 L1106.5,273.3 L1107.1,273.0 L1107.2,273.6 L1107.7,273.4 L1108.2,273.4 L1108.4,273.8 L1108.6,274.3 L1109.2,274.0 L1109.5,274.3 L1109.6,274.8 L1110.0,274.9 L1110.1,275.5 L1110.6,275.5 L1110.9,275.7 L1111.4,275.8 L1111.4,276.4 L1112.1,276.3 L1112.1,276.9 L1112.8,276.8 L1112.1,278.1 L1113.3,277.4 L1113.6,277.7 L1114.1,277.7 L1114.0,278.4 L1114.5,278.5 L1114.8,278.8 L1115.4,278.8 L1115.4,279.4 L1115.7,279.6 L1116.1,279.8 L1116.6,279.9 L1116.8,280.4 L1117.0,280.7 L1117.5,280.8 L1117.8,281.1 L1118.0,281.5 L1118.4,281.7Z M1100.2,268.1 L1099.7,267.9 L1099.3,267.6 L1098.9,267.7 L1098.4,267.4 L1098.0,267.9 L1097.5,267.0 L1097.0,266.9 L1096.6,267.2 L1096.2,267.5 L1095.7,267.1 L1095.2,267.4 L1094.8,267.5 L1094.2,266.8 L1093.7,267.0 L1093.3,267.1 L1092.9,267.6 L1092.2,267.1 L1091.8,267.5 L1091.3,267.7 L1090.8,267.9 L1090.3,268.0 L1090.0,268.5 L1089.3,268.4 L1089.0,268.9 L1088.6,269.2 L1088.2,269.4 L1088.0,269.9 L1087.5,270.1 L1086.9,270.1 L1086.9,270.9 L1086.5,271.2 L1085.9,271.3 L1085.7,271.7 L1085.6,272.2 L1085.1,272.5 L1085.0,273.0 L1084.9,273.5 L1084.8,274.0 L1084.2,274.2 L1083.9,274.5 L1083.6,274.9 L1084.0,275.7 L1083.3,275.8 L1083.4,276.4 L1083.3,276.9 L1086.1,278.7 L1086.4,278.5 L1086.6,278.2 L1086.7,277.8 L1086.7,277.4 L1087.1,277.2 L1087.6,277.1 L1087.7,276.8 L1087.9,276.5 L1088.4,276.5 L1088.6,276.2 L1088.5,275.8 L1089.0,275.7 L1089.1,275.4 L1089.3,275.1 L1089.7,275.1 L1090.0,274.9 L1089.8,274.3 L1090.0,274.0 L1090.7,274.2 L1090.8,273.8 L1091.1,273.8 L1091.2,273.4 L1091.4,272.9 L1091.9,273.1 L1092.0,272.7 L1092.5,273.0 L1092.6,272.6 L1092.9,272.5 L1093.3,272.7 L1093.4,272.3 L1093.8,272.6 L1093.9,271.8 L1094.4,272.3 L1094.6,271.5 L1095.0,271.9 L1095.3,271.6 L1095.6,271.4 L1095.9,271.2 L1096.2,270.8 L1096.6,271.0 L1097.0,271.0 L1097.3,271.1 L1097.7,270.3 L1098.0,271.0 L1098.4,270.8Z M1083.3,276.3 L1083.8,276.9 L1083.1,277.1 L1082.7,277.4 L1083.0,278.0 L1082.4,278.3 L1082.4,278.8 L1082.6,279.3 L1082.2,279.6 L1082.1,280.1 L1081.7,280.4 L1081.8,280.9 L1081.0,281.1 L1081.6,281.7 L1079.8,281.8 L1080.9,282.4 L1080.8,282.8 L1080.6,283.2 L1080.8,283.6 L1080.5,284.0 L1080.6,284.4 L1080.4,284.8 L1080.0,285.2 L1080.4,285.7 L1080.2,286.1 L1080.4,286.5 L1080.0,286.9 L1079.8,287.3 L1080.4,287.8 L1079.8,288.1 L1080.1,288.6 L1079.9,289.0 L1080.0,289.4 L1079.8,289.8 L1079.5,290.1 L1079.8,290.6 L1079.3,290.9 L1077.9,291.2 L1079.7,291.8 L1079.8,292.2 L1079.3,292.6 L1079.8,293.0 L1078.2,293.3 L1079.9,293.8 L1079.3,294.2 L1080.1,294.7 L1080.0,295.0 L1079.6,295.4 L1080.1,295.9 L1080.1,296.3 L1079.7,296.6 L1080.1,297.1 L1080.3,297.5 L1079.6,297.8 L1080.2,298.3 L1079.8,298.7 L1079.9,299.1 L1079.8,299.5 L1082.4,300.3 L1082.6,299.9 L1083.0,299.5 L1082.3,299.1 L1082.6,298.7 L1083.1,298.3 L1083.1,297.9 L1083.1,297.5 L1083.0,297.1 L1083.5,296.8 L1083.1,296.3 L1083.2,295.9 L1083.6,295.6 L1083.6,295.2 L1083.7,294.8 L1085.1,294.5 L1083.6,293.9 L1083.5,293.5 L1083.9,293.2 L1083.9,292.8 L1084.5,292.4 L1083.9,292.0 L1083.9,291.6 L1083.7,291.1 L1084.0,290.8 L1084.7,290.4 L1084.1,290.0 L1084.1,289.6 L1084.4,289.2 L1084.2,288.8 L1084.6,288.4 L1084.9,288.1 L1084.8,287.7 L1084.2,287.2 L1084.2,286.8 L1084.7,286.5 L1084.4,286.0 L1084.5,285.7 L1084.8,285.3 L1085.2,285.0 L1086.0,284.7 L1084.9,284.1 L1084.7,283.7 L1085.0,283.3 L1084.8,282.9 L1084.7,282.5 L1085.2,282.2 L1084.9,281.7 L1085.6,281.5 L1085.2,281.0 L1084.9,280.6 L1085.5,280.3 L1085.0,279.8 L1085.7,279.6 L1085.6,279.2 L1085.4,278.7 L1085.9,278.5 L1086.0,278.2Z M1080.1,299.0 L1079.3,299.3 L1079.8,299.8 L1079.6,300.1 L1079.4,300.5 L1078.6,300.9 L1078.6,301.3 L1079.0,301.7 L1078.4,302.1 L1078.3,302.4 L1079.0,302.9 L1076.6,303.1 L1078.6,303.7 L1078.4,304.1 L1078.7,304.5 L1078.1,304.9 L1077.9,305.2 L1078.5,305.7 L1078.6,306.1 L1077.8,306.5 L1078.1,306.9 L1078.0,307.3 L1078.3,307.7 L1078.4,308.1 L1078.0,308.5 L1077.9,308.9 L1078.0,309.3 L1077.5,309.7 L1077.7,310.1 L1077.6,310.5 L1078.0,310.9 L1078.0,311.3 L1076.7,311.7 L1077.8,312.1 L1077.6,312.5 L1078.0,312.9 L1077.4,313.3 L1077.7,313.7 L1077.7,314.1 L1077.3,314.5 L1078.0,314.9 L1077.3,315.3 L1077.6,315.7 L1078.1,316.1 L1077.5,316.5 L1077.6,316.9 L1077.6,317.3 L1077.4,317.7 L1077.8,318.1 L1077.4,318.5 L1077.3,318.9 L1077.9,319.3 L1076.1,319.7 L1077.6,320.1 L1077.8,320.5 L1077.4,320.9 L1077.5,321.3 L1077.4,321.7 L1077.9,322.1 L1077.9,322.5 L1076.5,322.9 L1077.7,323.3 L1078.4,323.7 L1078.0,324.1 L1077.7,324.5 L1078.1,324.9 L1078.0,325.3 L1078.7,325.7 L1078.5,326.1 L1079.4,326.5 L1081.8,327.6 L1082.1,327.2 L1082.7,326.8 L1081.9,326.4 L1082.7,326.0 L1083.0,325.6 L1082.8,325.2 L1082.7,324.8 L1083.0,324.4 L1083.0,324.0 L1082.9,323.6 L1082.5,323.2 L1083.2,322.8 L1082.7,322.4 L1082.7,322.0 L1082.6,321.6 L1083.2,321.2 L1083.2,320.8 L1083.0,320.3 L1084.5,320.0 L1083.4,319.5 L1083.1,319.1 L1083.1,318.7 L1083.6,318.3 L1082.9,317.9 L1083.4,317.5 L1082.9,317.1 L1083.6,316.7 L1083.1,316.3 L1082.9,315.9 L1083.5,315.5 L1083.1,315.1 L1083.4,314.7 L1083.6,314.3 L1083.5,313.9 L1083.3,313.5 L1082.9,313.1 L1083.4,312.7 L1083.0,312.3 L1083.0,311.9 L1083.4,311.5 L1083.5,311.1 L1083.3,310.7 L1083.7,310.3 L1085.3,310.0 L1083.5,309.5 L1084.6,309.2 L1083.5,308.7 L1083.1,308.3 L1083.7,308.0 L1083.7,307.6 L1083.1,307.1 L1083.3,306.7 L1083.5,306.3 L1083.4,305.9 L1083.7,305.6 L1083.9,305.2 L1083.2,304.7 L1083.8,304.4 L1083.5,303.9 L1083.5,303.5 L1083.3,303.1 L1083.6,302.7 L1083.6,302.3 L1083.1,301.9 L1083.7,301.5 L1083.6,301.1 L1083.6,300.7 L1083.4,300.3 L1082.1,299.8Z M1079.0,326.0 L1078.7,326.4 L1078.7,326.8 L1078.9,327.2 L1078.8,327.6 L1078.4,328.0 L1078.5,328.4 L1078.3,328.8 L1078.3,329.2 L1077.9,329.7 L1078.0,330.1 L1077.7,330.5 L1078.2,330.9 L1077.5,331.3 L1078.2,331.7 L1077.7,332.1 L1078.2,332.5 L1077.5,332.9 L1078.0,333.3 L1078.1,333.7 L1077.7,334.1 L1078.3,334.5 L1078.4,334.9 L1078.3,335.3 L1078.3,335.7 L1078.5,336.1 L1077.9,336.6 L1078.5,337.0 L1078.2,337.4 L1078.8,337.8 L1078.3,338.2 L1078.9,338.6 L1078.0,339.0 L1079.3,339.4 L1079.2,339.8 L1079.1,340.2 L1079.0,340.6 L1079.7,341.0 L1081.8,341.9 L1081.9,341.5 L1081.5,341.2 L1082.5,340.7 L1082.0,340.3 L1081.9,339.9 L1082.6,339.5 L1082.8,339.1 L1082.6,338.7 L1082.3,338.3 L1083.1,337.9 L1082.9,337.5 L1082.8,337.1 L1082.7,336.7 L1083.2,336.3 L1084.2,335.9 L1084.7,335.5 L1083.1,335.1 L1082.9,334.7 L1082.6,334.3 L1082.5,333.9 L1083.1,333.5 L1082.6,333.1 L1082.3,332.7 L1082.3,332.3 L1082.8,331.9 L1082.4,331.5 L1082.8,331.1 L1082.7,330.7 L1082.3,330.3 L1082.3,329.9 L1082.3,329.5 L1081.9,329.1 L1082.1,328.7 L1081.5,328.3 L1081.8,327.9 L1082.7,327.5 L1081.3,327.1Z M1079.4,341.7 L1078.7,342.1 L1079.5,342.5 L1079.5,342.9 L1079.1,343.3 L1079.3,343.7 L1079.2,344.1 L1079.2,344.6 L1078.6,345.0 L1079.0,345.4 L1078.8,345.8 L1078.0,346.3 L1078.5,346.6 L1078.4,347.0 L1078.9,347.4 L1078.8,347.8 L1079.0,348.2 L1078.4,348.7 L1078.3,349.1 L1078.8,349.4 L1078.6,349.9 L1078.2,350.3 L1078.6,350.7 L1078.6,351.1 L1078.4,351.5 L1079.0,351.8 L1078.5,352.3 L1078.8,352.7 L1078.8,353.1 L1078.4,353.5 L1078.6,353.9 L1078.7,354.3 L1079.0,354.7 L1079.2,355.0 L1079.0,355.5 L1078.9,355.9 L1078.8,356.3 L1079.1,356.7 L1079.3,357.1 L1079.3,357.5 L1079.4,357.8 L1079.3,358.3 L1079.1,358.7 L1079.3,359.1 L1079.1,359.5 L1079.4,359.9 L1079.8,360.3 L1079.4,360.7 L1080.2,361.1 L1079.7,361.5 L1079.8,361.9 L1079.9,362.3 L1080.0,362.7 L1078.4,363.1 L1083.4,364.4 L1083.0,364.0 L1083.2,363.6 L1083.6,363.2 L1083.0,362.8 L1083.1,362.3 L1083.9,361.9 L1084.0,361.5 L1084.0,361.1 L1084.0,360.7 L1084.4,360.3 L1083.9,359.9 L1083.7,359.5 L1083.9,359.0 L1084.0,358.6 L1084.2,358.2 L1084.3,357.8 L1084.9,357.4 L1084.2,357.0 L1084.3,356.5 L1084.3,356.1 L1084.5,355.7 L1084.1,355.3 L1084.1,354.9 L1084.7,354.4 L1084.3,354.0 L1084.7,353.6 L1084.2,353.2 L1085.4,352.7 L1083.9,352.4 L1084.5,352.0 L1084.1,351.6 L1085.2,351.1 L1084.3,350.7 L1084.2,350.3 L1084.3,349.9 L1083.7,349.5 L1083.8,349.1 L1084.1,348.7 L1083.3,348.3 L1083.3,347.9 L1083.4,347.5 L1083.3,347.1 L1083.8,346.6 L1083.3,346.2 L1083.5,345.8 L1082.7,345.5 L1083.2,345.0 L1082.3,344.7 L1082.2,344.3 L1082.0,343.9 L1082.5,343.4 L1082.7,343.0 L1082.6,342.6Z M1080.8,363.8 L1079.9,364.2 L1080.2,364.6 L1080.1,365.0 L1079.8,365.5 L1079.9,365.9 L1079.3,366.3 L1079.8,366.7 L1079.2,367.2 L1079.8,367.6 L1078.2,368.0 L1078.9,368.4 L1078.9,368.8 L1078.9,369.3 L1077.0,369.7 L1079.4,370.1 L1079.3,370.5 L1079.3,371.0 L1079.3,371.4 L1079.1,371.8 L1079.4,372.2 L1078.8,372.7 L1078.9,373.1 L1078.7,373.5 L1078.7,373.9 L1078.8,374.3 L1079.6,374.8 L1079.0,375.2 L1078.0,375.6 L1079.4,376.0 L1078.8,376.5 L1077.9,376.9 L1079.3,377.3 L1079.2,377.7 L1079.6,378.2 L1079.8,378.6 L1079.8,379.0 L1079.7,379.4 L1079.9,379.9 L1079.6,380.3 L1080.4,380.7 L1080.0,381.1 L1080.7,381.6 L1081.9,381.5 L1082.1,381.1 L1082.9,380.8 L1082.6,380.4 L1082.5,380.0 L1082.5,379.6 L1083.2,379.2 L1083.4,378.8 L1082.8,378.4 L1083.5,378.0 L1083.2,377.6 L1082.9,377.2 L1083.3,376.8 L1083.4,376.5 L1083.1,376.1 L1083.2,375.7 L1083.0,375.3 L1083.0,374.9 L1083.6,374.5 L1083.2,374.1 L1084.6,373.7 L1083.8,373.3 L1083.0,372.9 L1083.2,372.5 L1083.5,372.1 L1083.6,371.8 L1083.5,371.4 L1083.1,371.0 L1083.1,370.6 L1083.7,370.2 L1082.9,369.8 L1083.5,369.4 L1083.1,369.0 L1083.2,368.6 L1082.7,368.2 L1082.9,367.8 L1082.9,367.4 L1083.1,367.0 L1083.1,366.7 L1083.1,366.3 L1082.2,365.9 L1082.4,365.5 L1082.5,365.1Z M1080.3,382.1 L1080.2,382.6 L1080.1,383.0 L1080.4,383.4 L1080.3,383.8 L1080.2,384.2 L1080.1,384.7 L1080.2,385.1 L1079.4,385.5 L1079.9,386.0 L1080.0,386.4 L1079.7,386.8 L1080.0,387.2 L1079.3,387.7 L1079.4,388.1 L1079.8,388.5 L1079.1,388.9 L1079.2,389.4 L1079.9,389.8 L1079.4,390.2 L1079.4,390.6 L1079.3,391.1 L1079.9,391.5 L1079.8,391.9 L1079.8,392.3 L1079.4,392.8 L1079.4,393.2 L1077.6,393.6 L1079.2,394.0 L1079.1,394.5 L1079.7,394.9 L1079.2,395.3 L1079.4,395.7 L1079.5,396.2 L1079.3,396.6 L1079.4,397.0 L1079.8,397.4 L1079.5,397.8 L1079.8,398.3 L1079.4,398.7 L1079.9,399.1 L1079.8,399.5 L1080.1,399.9 L1079.7,400.4 L1079.9,400.8 L1079.8,401.2 L1080.4,401.6 L1080.1,402.1 L1080.7,402.5 L1080.4,402.9 L1080.4,403.3 L1080.0,403.7 L1080.6,404.2 L1083.1,402.3 L1083.5,401.9 L1083.5,401.5 L1083.1,401.1 L1083.4,400.7 L1083.6,400.3 L1083.7,399.9 L1083.3,399.6 L1083.3,399.2 L1083.7,398.8 L1084.0,398.4 L1084.1,398.0 L1083.7,397.6 L1083.4,397.2 L1083.8,396.8 L1085.5,396.4 L1083.5,396.0 L1083.5,395.7 L1084.7,395.2 L1084.0,394.9 L1083.6,394.5 L1084.3,394.1 L1084.4,393.7 L1083.9,393.3 L1084.3,392.9 L1084.4,392.5 L1084.3,392.1 L1083.8,391.8 L1084.0,391.4 L1084.4,391.0 L1084.6,390.6 L1083.4,390.2 L1083.5,389.8 L1083.6,389.4 L1083.5,389.1 L1083.7,388.7 L1083.7,388.3 L1083.8,387.9 L1083.8,387.5 L1083.8,387.1 L1083.3,386.7 L1083.7,386.4 L1084.6,386.0 L1083.5,385.6 L1083.1,385.2 L1083.4,384.8 L1083.1,384.4 L1082.6,384.0 L1083.3,383.7 L1082.9,383.3 L1082.6,382.9 L1082.7,382.5 L1082.9,382.1Z M1080.8,404.6 L1080.5,405.0 L1080.8,405.4 L1080.5,405.8 L1080.0,406.2 L1080.4,406.6 L1080.1,407.0 L1079.5,407.4 L1080.2,407.8 L1079.5,408.1 L1079.8,408.6 L1079.4,408.9 L1079.8,409.4 L1079.2,409.7 L1079.3,410.1 L1079.5,410.5 L1079.6,410.9 L1079.6,411.3 L1079.3,411.7 L1078.9,412.0 L1079.3,412.4 L1078.9,412.8 L1079.1,413.2 L1077.1,413.2 L1079.0,414.0 L1078.6,414.3 L1079.0,414.7 L1078.7,415.1 L1078.7,415.5 L1078.4,415.8 L1078.6,416.2 L1078.1,416.5 L1078.3,417.0 L1077.9,417.2 L1078.0,417.7 L1077.8,418.0 L1077.7,418.4 L1078.0,418.9 L1077.4,419.1 L1077.9,419.7 L1077.2,419.9 L1077.2,420.3 L1077.5,420.9 L1077.4,421.3 L1077.3,421.6 L1077.4,422.1 L1077.3,422.5 L1076.6,422.7 L1076.8,423.2 L1077.1,423.7 L1076.9,424.0 L1079.2,422.9 L1079.1,422.4 L1079.7,422.2 L1079.8,421.8 L1080.3,421.5 L1081.1,421.4 L1081.2,421.0 L1081.4,420.6 L1081.5,420.2 L1081.3,419.7 L1081.7,419.4 L1082.1,419.1 L1081.8,418.6 L1082.4,418.3 L1082.6,417.9 L1082.7,417.5 L1082.8,417.0 L1082.4,416.5 L1083.1,416.2 L1084.2,416.0 L1083.3,415.4 L1082.8,414.8 L1082.9,414.4 L1083.3,414.1 L1083.2,413.6 L1083.1,413.2 L1083.7,412.8 L1083.4,412.3 L1083.7,411.9 L1084.0,411.6 L1085.0,411.3 L1083.4,410.6 L1084.1,410.3 L1083.6,409.8 L1084.5,409.5 L1084.0,409.0 L1083.5,408.6 L1084.1,408.2 L1083.5,407.7 L1084.1,407.3 L1083.5,406.9 L1083.3,406.5 L1083.3,406.1 L1083.4,405.6 L1083.8,405.2 L1083.5,404.8 L1083.2,404.4 L1083.1,404.0 L1082.8,403.6 L1083.1,403.2 L1082.4,402.8Z M1075.8,423.1 L1076.1,423.6 L1075.9,423.9 L1076.1,424.5 L1075.8,424.8 L1074.1,424.5 L1075.0,425.3 L1074.8,425.6 L1074.6,425.9 L1074.4,426.2 L1074.9,426.9 L1074.8,427.2 L1074.4,427.5 L1073.7,427.5 L1074.0,428.1 L1073.6,428.3 L1073.6,428.7 L1073.3,429.0 L1073.2,429.3 L1072.8,429.4 L1073.0,430.0 L1072.6,430.0 L1072.3,430.2 L1072.0,430.3 L1072.2,430.7 L1071.6,430.3 L1071.5,430.9 L1071.4,431.3 L1071.2,431.4 L1071.1,431.2 L1070.9,431.0 L1070.7,431.7 L1070.5,431.8 L1070.2,431.6 L1070.0,431.4 L1069.7,431.3 L1069.5,430.9 L1069.0,431.4 L1068.6,431.6 L1068.4,431.0 L1068.1,430.9 L1067.6,431.1 L1067.4,430.6 L1067.0,430.5 L1066.7,430.3 L1066.3,430.3 L1065.7,430.6 L1065.3,430.7 L1065.0,430.4 L1065.4,432.2 L1065.1,433.7 L1065.4,434.1 L1066.1,433.7 L1066.0,435.0 L1066.8,434.2 L1067.2,434.5 L1067.7,434.5 L1067.5,436.7 L1068.6,434.8 L1069.1,435.2 L1069.6,435.6 L1070.2,435.3 L1070.8,435.7 L1071.4,435.7 L1071.9,435.0 L1072.6,435.4 L1073.0,434.7 L1073.8,434.9 L1074.0,434.2 L1074.3,433.6 L1075.9,434.3 L1075.2,433.0 L1075.7,432.7 L1076.4,432.6 L1077.5,432.7 L1076.8,431.6 L1077.2,431.3 L1077.0,430.6 L1077.6,430.5 L1077.9,430.1 L1077.5,429.4 L1077.9,429.1 L1078.4,428.8 L1078.6,428.4 L1078.8,428.1 L1079.9,428.1 L1078.8,427.1 L1078.9,426.7 L1079.2,426.3 L1079.5,426.0 L1078.9,425.3 L1079.4,425.1 L1079.8,424.8 L1079.8,424.3 L1079.5,423.8 L1079.8,423.4 L1080.1,423.1 L1078.7,422.1Z M1065.9,429.8 L1065.4,429.8 L1065.0,429.8 L1065.0,429.1 L1064.6,429.1 L1064.2,429.1 L1064.0,428.7 L1063.9,428.1 L1063.6,428.0 L1063.9,426.9 L1063.5,426.8 L1062.7,427.4 L1062.5,427.1 L1061.9,427.2 L1061.8,426.8 L1061.4,426.7 L1061.0,426.6 L1060.8,426.2 L1060.4,426.2 L1060.4,425.6 L1060.0,425.5 L1059.7,425.3 L1059.4,425.1 L1059.1,424.9 L1059.0,424.4 L1057.9,425.1 L1058.0,424.5 L1057.5,424.5 L1055.0,426.8 L1055.1,427.4 L1055.5,427.6 L1056.1,427.6 L1055.5,429.0 L1056.2,429.0 L1056.7,429.0 L1056.9,429.5 L1057.4,429.7 L1057.6,430.1 L1057.9,430.5 L1058.1,431.0 L1058.5,431.2 L1058.9,431.4 L1059.5,431.5 L1059.5,432.2 L1060.3,432.0 L1060.5,432.5 L1061.3,432.2 L1061.3,432.9 L1061.7,433.2 L1062.4,433.0 L1062.6,433.5 L1063.6,432.9 L1063.9,433.2 L1064.2,433.6 L1064.6,433.9 L1065.0,434.2Z M1057.5,424.0 L1057.2,423.7 L1056.9,423.4 L1056.7,423.1 L1056.2,423.0 L1056.5,422.0 L1056.3,421.6 L1056.0,421.4 L1055.8,421.0 L1055.5,420.7 L1055.3,420.3 L1054.7,420.4 L1054.4,420.1 L1054.4,419.6 L1054.1,419.3 L1053.7,419.1 L1053.1,419.1 L1053.1,418.5 L1052.4,418.7 L1052.1,418.3 L1052.0,417.9 L1051.8,417.5 L1051.2,417.5 L1050.5,417.6 L1050.4,417.2 L1050.1,416.9 L1049.5,416.8 L1047.8,419.1 L1047.5,419.9 L1048.2,419.8 L1047.9,420.7 L1048.3,420.8 L1048.6,421.0 L1048.8,421.4 L1048.6,422.2 L1049.1,422.2 L1049.5,422.4 L1049.5,422.9 L1049.8,423.2 L1050.3,423.2 L1049.4,424.8 L1050.6,424.1 L1050.9,424.3 L1051.3,424.5 L1051.5,424.9 L1051.6,425.3 L1052.4,425.1 L1052.7,425.3 L1052.8,425.8 L1053.4,425.7 L1054.1,425.6 L1054.2,426.1 L1054.4,426.4 L1054.8,426.6Z M1049.8,417.2 L1049.7,416.8 L1050.0,416.1 L1049.9,415.6 L1049.7,415.3 L1050.2,414.3 L1049.1,414.9 L1048.8,414.6 L1048.9,414.1 L1048.4,414.0 L1047.8,414.0 L1048.1,413.3 L1047.9,413.0 L1047.2,413.1 L1047.5,412.4 L1046.7,412.6 L1046.8,412.0 L1046.5,411.8 L1047.2,410.8 L1046.2,411.1 L1045.9,410.8 L1045.6,410.6 L1045.4,410.3 L1044.9,410.2 L1045.4,409.4 L1044.5,409.6 L1044.6,409.1 L1044.1,409.0 L1043.6,408.9 L1043.4,408.6 L1042.8,408.6 L1039.0,409.3 L1038.9,409.9 L1039.4,410.1 L1039.2,410.9 L1039.5,411.2 L1039.5,411.8 L1040.0,412.0 L1040.2,412.4 L1039.5,413.5 L1040.8,413.1 L1041.2,413.4 L1041.3,413.9 L1041.8,414.1 L1041.8,414.7 L1041.7,415.3 L1042.2,415.5 L1043.0,415.5 L1042.7,416.4 L1043.5,416.3 L1043.5,416.9 L1043.6,417.4 L1044.4,417.3 L1044.8,417.5 L1044.9,418.1 L1045.0,418.6 L1045.8,418.5 L1046.0,419.0 L1046.5,419.1 L1046.8,419.5 L1047.2,419.7 L1047.7,419.9Z M1042.8,409.2 L1042.7,408.8 L1043.7,407.5 L1042.7,407.7 L1041.9,407.8 L1043.1,406.5 L1042.0,406.9 L1041.7,406.6 L1041.3,406.4 L1041.5,405.8 L1041.0,405.7 L1041.1,405.2 L1041.0,404.7 L1040.6,404.5 L1040.4,404.2 L1040.4,403.8 L1041.4,402.7 L1040.0,403.1 L1039.5,402.9 L1039.4,402.5 L1039.7,401.9 L1039.5,401.6 L1039.0,401.4 L1039.0,400.9 L1038.8,400.6 L1038.4,400.4 L1038.5,399.9 L1037.9,399.7 L1037.6,399.5 L1037.9,398.8 L1037.4,398.6 L1037.6,398.1 L1037.4,397.7 L1037.2,397.3 L1036.4,397.3 L1036.5,396.8 L1036.6,396.3 L1036.4,395.9 L1035.8,395.8 L1035.4,395.5 L1035.3,395.1 L1035.5,394.5 L1035.3,394.2 L1034.6,394.1 L1034.5,393.7 L1034.0,393.5 L1034.3,392.8 L1033.7,392.7 L1034.1,392.0 L1033.1,392.1 L1032.9,391.7 L1033.2,391.0 L1032.6,390.9 L1033.4,389.8 L1032.4,390.0 L1032.1,389.7 L1031.7,389.5 L1031.2,389.4 L1030.9,389.1 L1030.6,388.8 L1030.8,388.1 L1030.3,388.0 L1030.2,387.5 L1029.7,387.4 L1029.1,387.3 L1029.5,386.5 L1028.7,386.6 L1028.9,385.9 L1028.2,386.0 L1028.1,385.6 L1027.4,385.6 L1027.4,385.1 L1027.0,384.8 L1024.1,385.5 L1023.9,386.2 L1024.3,386.4 L1024.7,386.5 L1024.8,387.0 L1025.3,387.1 L1025.0,387.9 L1025.5,388.0 L1025.8,388.2 L1026.2,388.4 L1025.9,389.1 L1026.1,389.5 L1026.6,389.6 L1027.2,389.6 L1027.4,390.0 L1027.1,390.7 L1027.3,391.1 L1028.0,391.0 L1028.0,391.5 L1028.2,391.8 L1028.3,392.2 L1028.8,392.4 L1028.9,392.7 L1029.4,392.9 L1028.3,394.1 L1029.2,393.9 L1028.5,394.9 L1030.0,394.3 L1030.5,394.4 L1030.7,394.8 L1030.3,395.5 L1030.4,395.8 L1031.0,395.9 L1031.4,396.1 L1030.4,397.2 L1031.7,396.8 L1031.8,397.3 L1031.8,397.7 L1032.5,397.7 L1032.2,398.4 L1032.7,398.5 L1032.8,398.9 L1032.8,399.4 L1033.0,399.7 L1033.7,399.8 L1033.3,400.5 L1033.4,400.9 L1033.6,401.2 L1033.9,401.5 L1034.3,401.7 L1034.5,402.1 L1034.9,402.3 L1034.7,402.9 L1035.2,403.1 L1035.0,403.7 L1035.3,403.9 L1035.5,404.3 L1035.7,404.7 L1035.9,405.0 L1036.6,405.1 L1036.3,405.7 L1036.8,405.9 L1037.0,406.3 L1037.0,406.7 L1037.6,406.8 L1038.1,407.0 L1037.7,407.8 L1037.4,408.5 L1037.7,408.8 L1039.0,408.4 L1039.5,408.6 L1039.8,408.8 L1039.7,409.5Z M1027.0,385.5 L1027.7,384.4 L1027.3,384.2 L1026.6,384.2 L1026.3,383.9 L1026.2,383.4 L1025.9,383.1 L1025.7,382.6 L1025.3,382.4 L1025.1,382.0 L1024.8,381.7 L1024.9,381.0 L1024.2,381.1 L1024.2,380.5 L1023.9,380.2 L1023.5,379.9 L1023.0,379.8 L1023.2,379.0 L1022.3,379.3 L1022.2,378.8 L1023.1,377.3 L1021.5,378.2 L1021.5,377.7 L1021.1,377.4 L1020.7,377.3 L1020.2,377.1 L1020.1,376.6 L1019.9,376.2 L1019.7,375.7 L1019.0,375.8 L1018.9,375.2 L1018.5,374.9 L1018.1,374.7 L1017.7,374.6 L1017.1,374.6 L1017.0,374.1 L1016.7,373.7 L1016.6,373.1 L1016.0,373.1 L1015.7,372.8 L1015.2,372.7 L1015.1,372.1 L1014.4,372.4 L1015.2,370.4 L1013.8,371.7 L1013.4,371.5 L1013.2,371.0 L1012.5,371.3 L1012.3,370.8 L1011.8,370.7 L1011.5,370.4 L1011.1,370.3 L1010.6,370.3 L1010.3,370.0 L1010.0,369.7 L1009.4,369.7 L1008.5,372.6 L1008.9,372.6 L1008.9,373.4 L1009.1,373.7 L1009.4,374.0 L1009.9,374.0 L1010.1,374.4 L1010.2,374.8 L1010.7,374.8 L1010.8,375.2 L1011.2,375.4 L1011.4,375.8 L1011.9,375.6 L1011.9,376.3 L1012.3,376.4 L1012.8,376.3 L1012.8,377.0 L1013.1,377.1 L1013.8,376.8 L1014.2,377.0 L1014.0,377.9 L1014.6,377.6 L1014.5,378.3 L1015.0,378.3 L1015.2,378.7 L1015.4,379.0 L1015.8,379.0 L1016.4,379.0 L1016.5,379.4 L1016.6,379.8 L1016.9,380.1 L1017.0,380.5 L1017.8,380.2 L1016.8,381.8 L1018.1,381.0 L1018.7,380.9 L1018.9,381.2 L1018.7,382.0 L1019.3,381.8 L1019.3,382.4 L1019.6,382.6 L1019.7,383.1 L1020.1,383.2 L1020.6,383.2 L1020.9,383.5 L1021.4,383.5 L1021.1,384.3 L1021.9,384.1 L1022.0,384.5 L1022.2,384.8 L1022.8,384.8 L1021.8,386.2 L1023.4,385.3 L1023.4,385.8 L1024.1,385.7 L1024.6,385.8Z M1009.8,370.1 L1009.3,370.0 L1009.3,369.4 L1009.0,369.1 L1009.1,368.1 L1008.2,368.8 L1008.0,368.5 L1007.9,367.8 L1007.5,367.7 L1007.3,367.3 L1006.9,367.2 L1006.4,367.3 L1006.2,366.8 L1005.7,366.9 L1005.4,366.7 L1004.9,366.7 L1004.9,366.0 L1004.3,366.2 L1003.8,366.2 L1003.4,366.1 L1003.1,365.9 L1002.6,366.0 L1002.1,366.0 L1000.8,368.5 L1001.1,368.9 L1001.1,369.6 L1001.9,369.2 L1002.0,369.8 L1002.4,369.9 L1002.7,370.3 L1003.1,370.4 L1003.3,370.9 L1003.9,370.7 L1003.9,371.4 L1004.6,371.2 L1004.7,371.8 L1005.1,371.9 L1005.4,372.2 L1005.2,373.4 L1006.4,372.2 L1006.7,372.5 L1006.2,374.1 L1007.4,373.0 L1007.8,373.1 L1008.4,372.9 L1009.0,372.7Z M1001.5,366.0 L1001.6,364.9 L1001.2,364.6 L1000.6,364.8 L1000.6,363.9 L1000.2,363.8 L999.6,364.0 L999.5,363.1 L998.9,363.4 L998.7,362.8 L998.3,362.6 L998.4,361.3 L997.5,362.1 L997.0,362.2 L996.6,362.1 L996.1,362.0 L996.0,361.0 L995.3,361.7 L995.0,361.1 L994.6,361.0 L994.1,361.0 L993.8,360.5 L993.4,360.1 L992.9,360.0 L992.6,359.4 L991.9,360.4 L991.7,359.3 L991.1,359.6 L990.6,359.8 L990.1,360.2 L989.7,359.8 L989.2,360.0 L989.1,358.1 L988.3,360.0 L987.9,359.9 L987.5,359.5 L987.0,360.0 L986.4,360.5 L987.8,362.0 L988.1,362.7 L988.4,363.1 L988.6,363.8 L989.1,363.3 L989.5,363.3 L989.9,363.3 L990.1,363.9 L990.4,364.1 L990.8,364.3 L991.2,364.0 L991.6,364.2 L991.8,364.6 L992.1,364.8 L992.6,364.6 L992.9,364.7 L993.2,365.0 L993.7,364.7 L994.0,365.1 L994.2,365.4 L994.6,365.4 L994.8,365.9 L995.4,365.5 L995.5,366.1 L995.9,366.2 L996.3,366.2 L996.6,366.5 L997.0,366.4 L997.2,366.9 L997.6,367.0 L997.6,367.7 L998.5,366.8 L998.8,367.1 L999.2,367.1 L999.8,367.0 L999.9,367.5 L1000.3,367.6 L1000.8,367.5Z M987.0,360.0 L986.7,359.8 L986.3,359.6 L985.9,359.1 L985.5,359.4 L985.1,359.2 L984.7,359.0 L984.3,358.9 L983.9,358.5 L983.5,358.6 L983.1,358.3 L982.7,358.3 L982.3,358.5 L982.0,357.1 L981.5,358.5 L981.1,358.2 L980.7,358.3 L980.3,358.0 L980.0,357.9 L979.5,358.0 L979.2,357.9 L978.7,358.2 L978.4,357.6 L977.9,357.9 L977.5,357.6 L977.1,358.2 L976.7,357.9 L976.3,356.2 L975.9,358.5 L975.5,358.4 L975.1,357.7 L974.7,358.1 L974.2,358.0 L973.8,357.9 L973.5,358.8 L973.0,357.9 L972.6,358.7 L972.2,359.0 L971.8,358.8 L971.4,359.0 L971.0,358.6 L970.6,358.7 L970.2,359.5 L969.8,359.3 L969.5,360.0 L969.0,359.7 L968.4,358.0 L969.4,362.8 L969.8,362.6 L970.1,362.2 L970.6,362.7 L971.0,362.4 L971.4,362.6 L971.9,362.9 L972.3,363.0 L972.7,363.4 L973.0,362.5 L973.5,363.1 L973.9,363.0 L974.3,363.1 L974.6,362.5 L975.1,363.1 L975.4,362.6 L975.8,363.2 L976.2,363.0 L976.7,363.1 L977.1,363.1 L977.5,363.0 L977.9,363.0 L978.3,363.1 L978.7,363.0 L979.1,363.1 L979.5,363.5 L979.9,363.1 L980.3,363.0 L980.7,363.3 L981.2,363.0 L981.6,363.1 L981.9,364.4 L982.4,363.2 L982.8,363.5 L983.2,363.2 L983.5,365.2 L984.0,363.1 L984.5,363.1 L984.9,363.1 L985.3,362.7 L985.7,362.7 L986.1,362.8 L986.5,363.3 L987.0,362.5 L987.3,362.8 L987.8,362.5 L988.2,362.5Z M969.2,359.8 L968.7,359.7 L968.4,360.0 L967.5,357.7 L967.3,359.2 L967.0,359.7 L966.5,359.5 L966.1,359.6 L965.7,360.0 L965.3,360.1 L964.9,360.1 L964.4,360.0 L964.0,359.8 L963.6,360.1 L963.1,360.1 L962.7,360.0 L962.3,360.1 L962.0,360.7 L961.6,360.8 L961.1,360.7 L960.8,361.4 L960.5,361.8 L961.6,363.6 L962.0,363.8 L962.5,364.1 L963.0,364.3 L963.4,364.5 L963.8,364.3 L964.2,364.2 L964.6,364.5 L965.0,364.2 L965.3,364.0 L965.7,364.0 L966.1,364.0 L966.9,365.7 L966.9,364.0 L967.5,364.7 L967.7,363.9 L968.0,363.1 L968.4,363.0 L968.7,363.0 L969.1,362.8 L969.5,362.7 L969.8,362.1Z M961.1,362.0 L960.6,362.0 L960.1,361.5 L959.6,361.3 L959.1,361.1 L958.7,361.2 L958.4,361.7 L957.9,361.4 L957.5,361.6 L957.1,361.6 L956.8,362.2 L956.3,361.8 L955.9,362.2 L955.4,361.9 L955.1,362.5 L954.7,362.3 L954.2,362.2 L953.9,362.8 L953.4,362.7 L952.6,361.3 L952.6,362.8 L952.3,363.3 L951.5,362.0 L951.4,363.0 L951.0,363.4 L950.6,363.4 L950.1,363.3 L949.8,363.6 L949.5,364.0 L948.4,362.2 L948.6,363.9 L948.3,364.4 L948.0,365.0 L947.4,364.5 L947.0,364.6 L946.5,364.4 L946.3,365.1 L945.9,365.4 L945.8,366.4 L945.4,366.3 L947.2,367.9 L947.7,368.2 L948.2,368.6 L948.6,368.4 L948.9,368.1 L949.5,368.6 L949.9,368.5 L950.2,368.1 L950.7,368.5 L951.0,368.1 L951.4,368.3 L951.9,368.4 L952.3,368.3 L952.4,367.5 L953.2,368.7 L953.4,368.0 L953.6,367.2 L954.2,367.7 L954.9,368.8 L954.8,367.2 L955.2,367.1 L955.7,367.3 L956.0,366.9 L956.2,366.4 L956.7,366.5 L957.3,367.2 L957.5,366.3 L957.9,366.6 L958.3,366.3 L958.6,365.9 L959.0,365.9 L959.4,365.7 L959.8,365.8 L960.1,365.6 L960.4,364.9 L960.7,364.8 L961.2,365.0 L961.6,364.9 L961.9,364.3 L962.1,363.5Z M945.0,366.9 L944.6,367.1 L944.1,366.8 L943.6,366.7 L943.1,366.7 L942.7,366.7 L942.1,366.4 L941.8,366.8 L941.3,366.7 L940.9,366.7 L940.7,367.3 L940.3,367.5 L939.7,367.1 L939.3,367.3 L938.9,367.3 L938.5,367.4 L938.0,367.4 L937.8,368.0 L937.3,367.9 L936.9,367.9 L936.5,368.1 L936.3,368.7 L935.9,368.7 L935.4,368.7 L935.1,369.0 L934.6,368.9 L934.5,369.6 L934.1,369.7 L933.2,368.6 L933.3,369.9 L932.9,370.2 L932.5,370.3 L932.1,370.2 L931.9,370.9 L931.5,370.9 L930.9,370.7 L930.7,371.3 L930.4,371.5 L930.0,371.8 L929.7,372.1 L929.4,372.4 L929.1,372.8 L928.6,372.5 L928.4,373.1 L927.9,373.0 L927.8,373.9 L930.0,375.0 L930.3,374.8 L930.9,375.1 L931.1,374.7 L931.8,375.3 L932.2,375.1 L932.6,375.0 L932.8,374.5 L933.3,374.7 L933.6,374.2 L934.0,374.3 L934.4,374.2 L934.8,374.0 L935.2,373.8 L935.6,373.9 L936.4,374.6 L936.2,373.2 L936.6,373.1 L937.1,373.2 L937.6,373.5 L937.8,372.9 L938.4,373.2 L938.7,372.9 L939.0,372.6 L939.4,372.5 L939.8,372.3 L940.0,371.8 L940.4,371.7 L940.8,371.7 L941.7,372.8 L941.4,371.1 L941.8,371.1 L942.3,371.3 L942.7,371.0 L943.0,370.9 L943.1,370.0 L943.7,370.3 L944.0,370.0 L944.4,370.0 L944.6,369.5 L945.0,369.4 L945.2,368.7 L945.7,368.9 L945.9,368.3 L946.2,368.0 L946.5,367.7Z M928.2,373.6 L927.4,372.5 L927.2,373.0 L926.5,372.5 L926.2,372.7 L925.9,372.8 L925.6,373.1 L925.1,372.9 L924.8,373.0 L924.4,373.1 L923.9,373.0 L923.7,373.4 L923.5,373.9 L923.2,374.0 L922.7,374.0 L922.3,374.0 L922.0,374.2 L921.7,374.5 L921.2,374.2 L920.9,374.3 L920.6,374.8 L920.2,374.8 L919.3,373.6 L919.5,375.1 L919.1,375.0 L918.8,375.3 L918.3,375.0 L918.0,375.2 L917.9,375.9 L917.4,375.7 L916.9,375.6 L916.7,376.2 L916.4,376.4 L915.9,376.1 L915.7,376.5 L915.2,376.4 L915.1,377.2 L914.5,376.6 L914.3,377.2 L913.5,376.0 L913.5,377.1 L913.2,377.3 L913.0,377.9 L912.6,377.9 L912.1,377.5 L912.0,378.3 L911.4,378.0 L911.0,378.0 L910.7,378.2 L910.4,378.3 L910.3,379.2 L909.8,378.9 L909.4,379.0 L909.3,379.6 L908.8,379.4 L908.5,379.7 L908.1,379.8 L907.8,380.0 L907.4,380.0 L907.0,379.9 L907.0,380.8 L906.6,380.9 L906.3,381.1 L906.3,382.3 L905.3,385.0 L906.0,385.5 L906.4,385.4 L906.7,385.2 L907.3,385.4 L907.5,384.7 L907.9,384.6 L908.4,384.6 L908.7,384.3 L909.3,384.5 L909.9,384.8 L910.3,384.7 L910.5,384.0 L910.8,383.7 L911.4,384.0 L911.7,383.6 L912.3,383.8 L912.7,383.8 L913.1,383.7 L913.5,383.5 L913.9,383.3 L914.2,383.0 L914.7,383.0 L915.1,382.9 L915.6,382.8 L916.4,383.7 L916.1,381.8 L916.6,382.0 L917.0,381.9 L917.3,381.3 L917.9,381.6 L918.1,380.9 L918.6,381.2 L919.2,381.4 L919.4,380.8 L920.0,381.1 L920.4,380.9 L920.8,380.7 L920.9,380.0 L921.3,379.9 L921.9,380.1 L922.2,379.7 L922.5,379.4 L923.1,379.7 L923.5,379.4 L923.7,378.9 L924.3,379.2 L924.6,378.8 L925.0,378.5 L925.2,377.9 L925.7,378.1 L926.0,377.7 L926.4,377.5 L927.0,377.7 L927.4,377.6 L928.2,378.6 L927.9,376.7 L928.8,377.7 L928.8,376.6 L929.2,376.3 L929.5,376.1 L930.0,376.1 L930.4,375.8 L930.4,374.7Z M905.6,382.7 L904.6,381.3 L904.5,382.4 L903.4,380.9 L903.5,382.3 L903.0,382.4 L902.6,382.7 L901.9,382.4 L901.5,382.6 L901.0,382.8 L900.8,383.5 L900.3,383.6 L899.7,383.5 L899.2,383.7 L898.8,383.8 L898.5,384.3 L897.6,383.6 L896.8,383.0 L897.1,385.0 L896.7,385.1 L896.6,386.1 L896.2,386.5 L897.6,387.7 L898.2,388.2 L898.8,388.7 L899.0,388.2 L899.2,388.0 L899.7,388.1 L900.2,388.4 L900.6,388.5 L900.7,387.8 L901.2,388.1 L901.4,387.7 L901.9,387.9 L902.1,387.6 L902.4,387.5 L902.8,387.5 L903.5,388.4 L903.2,386.6 L903.6,386.7 L903.8,386.1 L904.1,386.1 L904.4,385.8 L904.4,384.8Z M895.4,386.5 L895.2,387.0 L894.7,387.0 L894.0,386.4 L893.6,386.5 L893.1,386.4 L892.8,386.6 L892.4,386.8 L891.5,385.7 L891.9,387.5 L891.4,387.5 L890.9,387.4 L890.6,387.6 L890.2,387.6 L889.6,387.5 L889.3,387.8 L889.0,388.0 L888.6,388.0 L888.3,388.5 L888.0,388.7 L887.7,388.9 L887.1,388.7 L886.7,388.8 L886.4,389.1 L886.0,389.3 L885.9,390.0 L885.5,390.0 L885.0,389.9 L884.6,390.1 L884.4,390.6 L884.1,390.9 L883.6,390.8 L883.2,391.0 L882.9,391.3 L882.4,391.2 L882.2,391.7 L881.7,391.7 L881.7,392.4 L880.9,392.1 L879.9,391.4 L880.6,393.2 L880.3,393.5 L879.8,393.7 L879.6,394.0 L879.2,394.4 L878.9,394.6 L878.6,395.0 L878.3,395.2 L877.8,395.4 L877.9,396.0 L877.4,396.1 L876.2,395.5 L876.6,396.4 L876.4,396.7 L876.6,397.5 L875.9,397.3 L876.1,398.1 L874.5,397.1 L875.6,398.7 L875.1,398.8 L875.0,399.3 L874.8,399.7 L874.5,399.9 L873.2,399.4 L874.0,400.6 L873.8,401.0 L873.6,401.4 L873.7,402.0 L873.1,402.1 L873.4,402.8 L873.5,403.4 L874.0,404.7 L874.6,404.6 L874.9,404.3 L875.2,404.0 L876.0,404.1 L876.2,403.7 L876.1,403.3 L876.5,403.0 L876.8,402.8 L877.3,402.7 L877.6,402.4 L877.9,402.2 L878.0,401.8 L878.3,401.5 L878.5,401.1 L878.9,400.9 L879.4,400.9 L879.5,400.4 L880.2,400.5 L880.5,400.2 L880.5,399.6 L880.8,399.3 L880.9,398.8 L881.3,398.6 L881.8,398.6 L882.0,398.3 L882.6,398.3 L882.9,398.1 L883.1,397.9 L883.0,397.3 L883.5,397.3 L883.9,397.2 L884.2,397.0 L884.4,396.6 L885.2,397.2 L885.0,396.1 L885.1,395.6 L885.7,395.8 L886.0,395.6 L886.2,395.1 L886.6,395.0 L886.8,394.5 L887.6,395.1 L887.6,394.3 L888.2,394.5 L888.4,394.1 L888.8,394.1 L889.2,393.9 L889.3,393.2 L889.6,392.8 L890.0,392.8 L890.5,392.9 L890.6,392.2 L891.0,392.1 L891.5,392.2 L891.8,391.8 L892.2,391.7 L892.7,391.7 L893.0,391.5 L893.4,391.3 L893.5,390.5 L893.9,390.6 L894.2,390.2 L894.6,390.0 L894.9,389.8 L895.2,389.4 L895.6,389.3 L896.0,389.2 L896.2,388.6 L896.7,388.6 L896.9,388.2Z M872.7,402.2 L872.5,402.6 L872.4,403.1 L872.4,403.7 L872.3,404.1 L871.8,404.3 L872.0,404.9 L871.3,405.1 L871.0,405.5 L870.3,405.7 L869.4,405.9 L870.2,406.7 L870.2,407.2 L869.9,407.5 L870.0,408.0 L869.9,408.5 L869.3,408.8 L869.3,409.3 L869.1,409.7 L869.7,410.2 L869.6,410.6 L869.3,411.0 L869.2,411.4 L869.0,411.8 L869.1,412.3 L869.2,412.7 L868.9,413.1 L868.6,413.5 L868.5,413.9 L867.8,414.3 L868.2,414.7 L868.7,415.2 L867.2,415.5 L868.5,416.0 L868.0,416.4 L867.9,416.8 L868.2,417.3 L868.4,417.7 L867.8,418.0 L868.4,418.5 L868.3,418.9 L868.2,419.3 L867.8,419.7 L868.2,420.1 L868.0,420.5 L867.8,420.9 L868.0,421.3 L868.3,421.8 L868.0,422.1 L867.8,422.5 L867.7,422.9 L867.7,423.3 L868.3,423.8 L867.7,424.2 L868.4,424.7 L868.5,425.1 L868.1,425.5 L868.2,425.9 L867.7,426.2 L868.2,426.7 L868.3,427.2 L870.9,427.7 L871.0,427.3 L873.5,427.2 L871.0,426.5 L871.4,426.1 L871.6,425.7 L871.4,425.3 L872.3,425.0 L871.8,424.6 L874.1,424.5 L872.0,423.8 L872.5,423.4 L872.6,423.1 L872.4,422.6 L872.8,422.3 L873.2,421.9 L872.9,421.4 L872.9,421.0 L872.8,420.6 L872.9,420.2 L874.9,420.0 L873.0,419.4 L873.8,419.1 L873.3,418.7 L873.8,418.3 L873.4,417.9 L873.6,417.5 L873.4,417.1 L873.9,416.7 L875.3,416.5 L873.4,415.9 L873.8,415.5 L874.2,415.2 L873.5,414.7 L874.0,414.4 L873.9,414.0 L873.8,413.6 L874.4,413.3 L874.1,412.8 L874.2,412.5 L874.4,412.1 L874.6,411.8 L874.3,411.3 L874.2,410.9 L873.9,410.5 L874.3,410.2 L874.4,409.8 L874.1,409.4 L874.3,409.1 L874.7,408.8 L874.4,408.4 L874.1,407.9 L874.6,407.7 L874.4,407.2 L875.1,407.1 L874.5,406.5 L874.6,406.1 L875.1,406.0 L876.0,406.0 L875.6,405.5 L875.6,405.1Z M868.3,426.7 L868.3,427.1 L868.1,427.5 L867.4,427.9 L867.1,428.3 L867.0,428.7 L866.5,429.1 L866.8,429.6 L866.7,430.1 L866.9,430.5 L866.5,430.9 L866.7,431.4 L866.8,431.9 L867.0,432.4 L866.5,432.8 L866.9,433.3 L866.4,433.7 L866.2,434.1 L866.4,434.6 L866.3,435.0 L864.8,435.3 L866.4,435.9 L866.8,436.4 L866.3,436.8 L866.9,437.3 L865.3,437.7 L870.0,436.5 L870.1,436.1 L870.3,435.7 L870.5,435.4 L870.4,435.0 L870.4,434.6 L870.6,434.3 L872.3,434.1 L871.2,433.6 L871.3,433.2 L871.2,432.9 L871.3,432.5 L871.6,432.1 L870.8,431.7 L872.1,431.5 L871.2,431.0 L871.9,430.7 L871.3,430.2 L871.6,429.9 L870.9,429.4 L871.6,429.2 L871.1,428.7 L871.6,428.4 L871.0,427.9 L870.7,427.5 L872.2,427.3Z M866.3,437.2 L866.6,437.7 L866.2,438.0 L866.7,438.5 L866.4,438.9 L865.9,439.2 L866.6,439.7 L866.0,440.0 L866.4,440.5 L866.0,440.8 L866.0,441.2 L865.9,441.6 L865.4,442.0 L864.3,442.4 L865.2,442.8 L865.4,443.2 L865.7,443.7 L865.1,444.0 L865.4,444.4 L865.4,444.8 L865.4,445.3 L865.0,445.6 L865.3,446.1 L865.3,446.5 L864.9,446.8 L865.7,447.3 L865.1,447.7 L865.7,448.1 L865.2,448.5 L865.5,448.9 L864.9,449.3 L864.9,449.7 L865.2,450.1 L865.5,450.5 L865.6,450.9 L865.3,451.3 L864.5,451.7 L863.3,452.1 L865.6,452.5 L865.4,452.9 L865.4,453.3 L863.9,453.7 L865.6,454.1 L865.1,454.5 L865.7,454.9 L865.4,455.3 L865.1,455.7 L865.6,456.1 L865.8,456.5 L865.7,456.9 L865.4,457.3 L865.1,457.7 L865.5,458.1 L865.5,458.5 L865.6,458.8 L865.4,459.3 L865.8,459.6 L866.0,460.0 L865.7,460.4 L866.0,460.8 L865.6,461.2 L865.6,461.6 L865.8,462.0 L866.3,462.4 L866.5,462.8 L866.1,463.2 L869.5,462.8 L869.4,462.3 L869.6,461.9 L869.0,461.5 L869.1,461.1 L869.9,460.7 L870.6,460.2 L869.1,459.9 L869.6,459.4 L869.6,459.0 L870.9,458.6 L869.9,458.2 L869.8,457.8 L869.8,457.4 L869.9,456.9 L869.3,456.5 L869.6,456.1 L871.5,455.7 L869.9,455.3 L869.4,454.9 L869.5,454.5 L869.5,454.1 L869.8,453.6 L869.7,453.2 L870.8,452.8 L869.7,452.4 L870.2,452.0 L870.0,451.6 L869.5,451.2 L869.7,450.8 L869.5,450.3 L869.6,449.9 L869.6,449.5 L869.6,449.1 L869.9,448.7 L869.9,448.3 L869.8,447.9 L870.1,447.5 L869.6,447.0 L870.0,446.6 L870.9,446.3 L869.6,445.8 L869.6,445.4 L870.2,445.0 L869.7,444.6 L870.1,444.2 L870.1,443.8 L870.2,443.4 L869.6,442.9 L870.2,442.6 L870.3,442.2 L870.1,441.7 L870.1,441.3 L869.5,440.9 L869.5,440.5 L869.8,440.1 L870.1,439.7 L870.0,439.3 L869.5,438.8 L869.6,438.4 L869.7,438.0 L870.1,437.6 L869.8,437.2 L869.6,436.8 L871.0,436.5 L869.9,436.0Z M866.4,462.7 L866.2,463.1 L866.6,463.5 L866.1,464.0 L866.6,464.4 L866.4,464.8 L866.2,465.2 L866.4,465.6 L866.2,466.0 L866.5,466.4 L865.9,466.9 L866.0,467.3 L866.2,467.7 L866.5,468.1 L866.3,468.5 L865.9,469.0 L866.2,469.4 L866.2,469.8 L866.5,470.2 L864.6,470.7 L866.1,471.0 L866.3,471.5 L866.0,471.9 L865.9,472.3 L866.1,472.7 L866.3,473.1 L866.0,473.5 L866.1,474.0 L866.6,474.3 L866.2,474.8 L866.5,475.2 L866.2,475.6 L866.2,476.0 L866.6,476.4 L866.3,476.8 L866.3,477.3 L865.8,477.7 L866.7,478.1 L866.5,478.5 L866.4,478.9 L866.4,479.3 L867.2,479.7 L867.0,480.1 L867.1,480.5 L866.8,480.9 L866.8,481.3 L866.8,481.7 L867.3,482.1 L867.2,482.5 L867.6,482.9 L867.7,483.3 L866.1,483.8 L867.3,484.2 L867.1,484.6 L867.3,485.0 L867.4,485.4 L867.7,485.8 L868.2,486.2 L868.1,486.6 L871.4,485.2 L870.9,484.8 L870.6,484.4 L871.0,484.0 L870.9,483.6 L871.2,483.2 L870.8,482.8 L870.8,482.4 L870.6,482.0 L870.6,481.6 L870.8,481.2 L870.8,480.8 L870.6,480.4 L871.2,480.0 L870.6,479.6 L871.4,479.2 L871.2,478.8 L870.5,478.4 L870.5,478.0 L871.2,477.6 L871.4,477.2 L870.7,476.8 L870.6,476.4 L870.8,476.0 L870.9,475.6 L870.4,475.2 L870.6,474.8 L870.8,474.4 L870.9,474.0 L870.9,473.6 L870.4,473.3 L870.8,472.8 L870.5,472.5 L870.4,472.1 L870.4,471.7 L870.1,471.3 L870.5,470.9 L870.3,470.5 L870.8,470.1 L870.7,469.7 L870.7,469.3 L870.2,468.9 L870.7,468.5 L870.5,468.1 L870.5,467.7 L870.0,467.3 L870.1,467.0 L870.2,466.6 L869.6,466.2 L870.1,465.8 L870.1,465.4 L869.6,465.0 L870.0,464.6 L870.0,464.2 L869.4,463.8 L869.9,463.4 L869.3,463.1 L870.5,462.6 L869.6,462.3Z M868.0,486.1 L868.2,486.5 L867.5,486.9 L867.4,487.3 L868.1,487.7 L868.0,488.1 L867.3,488.5 L867.3,488.9 L867.2,489.3 L867.4,489.7 L867.4,490.1 L867.0,490.5 L867.7,490.9 L867.1,491.3 L867.0,491.7 L867.2,492.0 L865.9,492.5 L867.3,492.8 L867.7,493.2 L867.3,493.6 L867.6,494.0 L867.4,494.4 L867.7,494.8 L867.5,495.2 L867.0,495.6 L867.6,496.0 L867.1,496.4 L866.2,496.8 L867.2,497.2 L867.4,497.6 L867.7,498.0 L867.2,498.4 L867.0,498.7 L866.9,499.1 L867.6,499.5 L866.2,499.9 L867.6,500.3 L867.6,500.7 L867.3,501.1 L866.0,501.5 L867.1,501.9 L867.4,502.3 L867.2,502.6 L866.9,503.0 L867.4,503.4 L867.5,503.8 L867.2,504.2 L867.0,504.5 L867.4,504.9 L867.1,505.2 L866.9,505.6 L867.1,505.8 L867.5,506.3 L867.1,506.5 L866.8,506.6 L866.6,507.0 L866.7,507.4 L865.9,507.5 L866.4,508.2 L866.3,508.5 L866.2,508.8 L866.4,509.3 L869.3,509.8 L869.3,509.3 L871.2,509.7 L870.0,508.7 L870.2,508.4 L869.9,507.8 L870.1,507.4 L870.9,507.0 L871.0,506.5 L871.2,506.1 L871.2,505.6 L870.7,505.1 L871.0,504.7 L871.2,504.3 L871.1,503.8 L871.6,503.5 L871.5,503.0 L872.2,502.6 L871.2,502.2 L871.7,501.8 L872.4,501.4 L871.5,501.0 L871.8,500.6 L871.6,500.1 L871.6,499.7 L871.4,499.3 L871.9,498.9 L871.8,498.5 L871.5,498.1 L871.9,497.7 L872.8,497.3 L871.4,496.9 L872.0,496.5 L871.9,496.1 L871.8,495.7 L871.4,495.3 L872.0,494.8 L871.5,494.4 L871.4,494.0 L871.1,493.6 L871.1,493.2 L873.1,492.8 L871.5,492.4 L871.7,492.0 L871.6,491.6 L871.3,491.2 L871.6,490.8 L871.6,490.4 L871.7,490.0 L871.1,489.6 L871.2,489.2 L871.6,488.7 L871.0,488.4 L871.5,487.9 L870.7,487.5 L871.1,487.1 L870.7,486.7 L872.5,486.3 L870.6,485.9 L871.0,485.5 L870.7,485.1 L870.3,484.7Z M866.1,509.7 L866.1,510.1 L865.5,510.1 L865.3,510.2 L864.4,509.7 L864.9,510.7 L864.6,511.1 L864.3,511.3 L863.3,510.5 L863.6,511.5 L863.4,511.9 L863.1,512.1 L862.3,511.6 L862.1,511.7 L861.8,512.0 L861.5,512.2 L861.1,512.2 L861.0,512.8 L860.5,512.5 L860.4,513.2 L859.7,512.6 L859.5,513.0 L858.9,512.3 L858.9,513.3 L858.5,513.5 L858.1,513.6 L857.8,513.8 L857.4,513.9 L857.0,513.7 L856.7,514.2 L856.3,514.0 L855.9,514.1 L855.4,513.8 L855.2,514.6 L854.7,514.1 L854.4,514.5 L854.0,514.8 L853.7,515.0 L853.2,514.5 L852.8,514.6 L852.5,514.8 L852.1,514.7 L851.8,515.3 L851.4,515.3 L851.0,515.2 L850.7,515.6 L850.1,514.5 L849.9,515.7 L849.6,515.9 L849.1,515.4 L848.8,515.8 L848.3,514.4 L848.1,515.8 L847.7,516.2 L847.3,516.2 L847.0,515.7 L846.6,516.3 L846.3,515.7 L845.9,516.4 L845.7,515.0 L845.1,516.3 L844.7,516.5 L844.3,516.2 L844.7,519.5 L845.2,519.7 L845.7,519.4 L846.1,519.6 L846.5,519.9 L846.9,521.1 L847.4,520.0 L847.9,520.2 L848.3,519.6 L848.8,519.9 L849.2,519.5 L849.6,520.1 L850.1,520.1 L850.5,520.1 L850.9,519.9 L851.3,519.4 L851.8,520.0 L852.2,519.5 L852.7,519.9 L853.1,519.9 L853.5,520.0 L853.9,519.4 L854.3,519.3 L854.8,519.8 L855.1,519.1 L855.5,519.0 L855.9,519.2 L856.2,518.6 L856.6,518.5 L857.1,518.5 L857.7,519.1 L857.9,518.6 L858.2,518.1 L858.8,518.7 L859.3,518.6 L859.6,518.3 L860.0,518.1 L860.5,518.2 L860.8,517.9 L861.2,517.5 L861.7,517.6 L862.4,518.1 L862.3,516.7 L862.9,516.8 L863.4,516.8 L863.8,516.7 L864.2,516.4 L864.2,515.5 L864.9,515.7 L865.1,515.2 L865.4,514.9 L865.9,514.9 L866.4,514.7 L866.6,514.3 L866.8,513.7 L867.0,513.3 L867.2,512.9 L868.1,513.1 L868.2,512.4 L868.5,512.0 L868.4,511.3 L870.4,512.0 L868.8,510.4Z M843.7,515.3 L843.3,515.4 L842.8,515.7 L842.6,515.2 L842.1,515.4 L841.9,514.8 L841.4,514.9 L841.1,514.5 L841.0,513.5 L840.5,513.9 L840.2,513.1 L839.6,514.0 L839.1,514.1 L838.9,513.3 L838.2,514.0 L838.0,513.4 L837.5,513.7 L837.2,513.0 L836.8,512.5 L836.3,513.1 L836.0,512.5 L835.6,512.4 L835.2,512.4 L834.7,513.0 L834.4,512.2 L834.0,512.1 L833.5,512.6 L833.2,512.1 L832.8,511.8 L832.4,512.1 L832.0,511.7 L831.5,512.3 L831.2,511.6 L830.7,512.0 L830.4,511.7 L830.1,511.2 L829.5,511.8 L829.1,511.7 L828.9,511.1 L828.4,511.3 L827.9,511.6 L827.6,511.2 L827.2,511.0 L826.8,511.0 L826.5,510.5 L826.0,511.0 L825.5,511.0 L825.2,510.4 L824.7,510.9 L824.4,510.2 L823.9,510.3 L823.7,509.4 L823.1,510.1 L822.7,510.6 L822.2,510.6 L821.9,510.5 L821.6,509.8 L821.2,510.0 L820.8,509.7 L820.4,509.8 L820.0,509.9 L819.6,509.9 L819.1,510.2 L818.8,510.1 L818.8,508.2 L818.0,509.8 L817.5,510.1 L817.1,510.2 L816.9,509.5 L816.3,509.9 L816.6,513.0 L816.6,514.7 L817.4,513.4 L817.8,513.6 L818.0,514.2 L818.5,514.0 L818.8,514.7 L819.2,514.6 L819.6,514.8 L820.1,514.7 L820.6,514.4 L821.0,514.6 L821.3,515.1 L821.8,514.7 L822.2,514.9 L822.5,515.2 L823.0,514.8 L823.2,515.6 L823.6,515.6 L823.9,516.4 L824.4,515.8 L824.8,515.9 L825.2,516.0 L825.5,516.0 L825.7,517.3 L826.3,516.3 L826.8,516.0 L827.1,516.3 L827.5,516.4 L827.9,516.8 L828.2,516.8 L828.7,516.6 L829.1,516.5 L829.5,516.8 L829.7,517.6 L830.3,516.9 L830.7,517.0 L831.2,516.7 L831.5,516.8 L831.9,517.1 L832.2,517.4 L832.7,517.2 L833.0,517.9 L833.5,517.5 L833.9,517.3 L834.3,517.4 L834.7,517.6 L835.0,517.9 L835.4,518.2 L835.8,518.2 L836.0,518.8 L836.6,517.8 L837.0,517.9 L837.4,518.0 L837.6,518.6 L838.1,518.4 L838.5,518.4 L838.8,518.7 L839.2,518.6 L839.5,519.0 L840.0,518.8 L840.5,518.5 L840.9,518.8 L841.2,519.1 L841.8,518.7 L842.1,519.2 L842.5,519.1 L843.0,518.9 L843.4,519.4 L843.9,518.8Z M815.8,508.9 L815.3,509.0 L815.0,508.6 L814.6,508.4 L814.4,507.5 L813.8,508.3 L813.4,508.1 L813.2,507.4 L812.7,507.5 L812.2,507.8 L811.9,507.4 L811.6,507.0 L811.1,507.1 L810.7,507.0 L810.4,506.6 L809.8,507.2 L809.4,506.8 L809.0,506.7 L808.5,507.0 L808.1,506.9 L807.8,506.4 L807.2,507.1 L806.9,506.4 L806.7,505.4 L806.0,506.8 L805.5,507.3 L805.5,511.7 L806.2,510.3 L806.5,511.0 L806.9,510.8 L807.3,511.2 L807.6,511.6 L808.0,511.7 L808.3,512.0 L808.6,512.7 L809.2,512.1 L809.5,512.5 L810.0,512.0 L810.3,512.6 L810.6,512.8 L811.0,513.1 L811.5,513.0 L811.8,513.1 L812.4,512.7 L812.8,512.9 L813.3,512.7 L813.6,512.8 L813.6,514.8 L814.5,513.0 L815.0,512.7 L815.4,512.6 L815.8,513.0Z M804.7,507.1 L804.3,507.0 L803.8,507.5 L803.5,506.5 L803.0,507.0 L802.7,506.3 L802.3,506.2 L801.8,506.5 L801.5,506.1 L801.1,505.9 L800.6,506.4 L800.2,506.2 L799.8,505.7 L799.4,505.6 L799.0,505.9 L798.5,506.0 L798.1,505.7 L797.7,505.9 L797.3,505.4 L796.9,505.7 L796.5,505.0 L796.0,505.4 L795.6,505.4 L795.2,505.2 L794.7,505.4 L794.3,505.3 L793.9,505.0 L793.5,505.0 L793.0,505.6 L792.6,504.9 L792.2,505.2 L791.8,505.4 L791.4,505.2 L790.9,505.2 L790.5,504.8 L790.1,505.6 L789.7,505.0 L789.3,505.7 L788.9,505.6 L788.4,504.8 L788.0,505.1 L787.6,504.9 L787.2,505.3 L786.7,505.0 L786.3,505.2 L785.9,505.7 L785.5,505.8 L785.1,504.6 L784.6,504.8 L784.3,505.8 L783.8,504.9 L783.5,506.0 L783.0,505.5 L782.6,504.3 L782.2,505.7 L781.8,505.8 L781.4,506.3 L781.0,506.6 L780.6,506.6 L782.5,508.6 L782.9,508.6 L783.3,508.5 L783.7,508.9 L784.1,508.7 L784.6,509.1 L784.9,509.1 L785.3,509.2 L785.7,509.2 L786.1,509.3 L786.5,508.9 L786.9,509.0 L787.3,508.7 L787.7,508.6 L788.1,508.7 L788.5,509.0 L788.8,509.0 L789.2,509.5 L789.6,509.5 L790.0,508.9 L790.4,509.0 L790.8,508.9 L791.2,509.3 L791.5,509.4 L791.9,508.8 L792.3,510.4 L792.7,509.0 L793.1,509.2 L793.5,509.2 L793.8,509.1 L794.2,509.0 L794.6,509.6 L795.0,509.4 L795.4,509.1 L795.7,509.2 L796.1,509.9 L796.5,509.1 L796.8,509.9 L797.3,509.4 L797.7,509.3 L798.0,509.6 L798.4,509.8 L798.8,509.9 L799.2,509.6 L799.6,509.5 L799.9,510.1 L800.4,509.6 L800.6,510.3 L801.2,509.6 L801.4,510.3 L801.8,510.2 L802.3,510.0 L802.7,509.7 L802.8,511.3 L803.4,510.1 L803.9,509.7 L804.3,509.9 L804.6,510.1 L805.1,509.5Z M781.1,506.8 L780.8,506.3 L780.4,505.8 L780.1,506.2 L779.8,506.1 L779.4,505.9 L779.1,506.2 L778.7,506.1 L778.4,505.6 L778.1,506.2 L777.6,504.5 L777.3,505.6 L777.0,506.4 L776.7,506.5 L776.3,506.0 L776.1,506.7 L775.7,506.3 L775.3,506.5 L775.1,507.0 L774.8,507.6 L774.2,508.8 L774.8,509.4 L775.3,509.5 L775.9,510.4 L776.2,509.8 L776.7,509.8 L777.1,509.7 L777.6,510.0 L778.0,509.8 L778.5,510.5 L778.9,509.4 L779.3,509.4 L779.8,509.2 L780.3,509.7 L780.7,509.4 L781.2,508.9 L781.6,508.8 L782.1,509.3 L782.6,508.5 L783.0,508.3Z M773.6,506.8 L773.0,505.6 L772.8,506.8 L772.5,507.0 L771.9,506.4 L771.6,506.7 L771.2,506.6 L770.9,507.3 L770.6,507.6 L769.8,506.3 L769.9,507.8 L769.6,508.0 L769.2,508.2 L768.4,511.3 L768.7,510.9 L769.3,511.2 L769.7,511.0 L770.2,511.1 L770.9,511.6 L771.3,511.5 L771.7,511.4 L771.9,510.6 L772.4,510.9 L773.0,511.5 L773.1,510.2 L773.5,509.8Z M767.7,509.3 L767.3,509.9 L766.5,509.3 L766.0,509.2 L765.7,509.8 L765.2,510.0 L764.5,509.6 L764.1,510.1 L763.8,510.7 L763.1,510.3 L762.7,510.6 L762.2,510.8 L761.9,511.2 L761.4,511.4 L761.0,511.6 L760.6,512.0 L760.2,512.4 L759.8,512.7 L761.4,514.1 L761.7,513.9 L762.0,513.7 L763.0,515.3 L762.9,514.1 L763.2,513.8 L763.7,514.3 L763.9,514.0 L764.2,513.6 L764.6,513.7 L764.7,513.2 L765.2,513.4 L766.1,514.7 L765.8,513.2 L765.8,512.4 L766.1,512.2 L766.4,512.0 L766.6,511.6Z M758.4,512.7 L757.9,512.7 L757.5,512.8 L757.0,512.7 L756.5,512.7 L756.2,513.1 L755.6,512.8 L755.4,513.3 L755.0,513.5 L754.4,513.2 L754.2,513.8 L753.8,514.1 L753.2,513.8 L753.0,514.4 L752.0,513.0 L752.1,514.5 L751.7,514.7 L751.4,515.0 L751.2,515.6 L750.7,515.7 L750.4,516.0 L749.7,515.5 L749.7,516.5 L749.4,517.0 L751.6,517.6 L752.0,517.8 L752.7,518.4 L753.0,518.1 L753.4,518.0 L753.7,517.6 L754.1,517.6 L754.5,517.4 L755.0,517.8 L755.2,517.1 L755.5,516.9 L756.4,517.9 L756.5,517.1 L756.6,516.3 L757.0,516.2 L757.9,517.5 L757.9,516.3 L758.2,516.2 L758.4,515.6 L758.9,515.6 L759.3,515.6 L759.6,515.2 L759.8,514.8 L760.2,514.5Z M747.5,516.1 L747.4,517.0 L747.0,517.2 L746.4,516.8 L746.0,516.7 L745.8,517.2 L745.4,517.3 L744.8,517.1 L744.8,518.0 L744.5,518.3 L743.9,518.0 L743.8,518.9 L746.0,520.0 L746.4,519.9 L747.2,520.6 L747.4,520.1 L748.2,520.9 L748.0,519.3 L748.4,519.2 L748.7,518.9 L749.4,519.3 L749.5,518.6 L749.8,518.2 L750.1,517.7Z M742.0,519.6 L741.6,519.6 L741.2,519.4 L740.7,519.1 L740.5,519.6 L740.0,519.3 L739.8,519.7 L739.4,519.6 L739.3,520.2 L738.5,519.2 L738.4,519.8 L738.2,520.3 L737.8,520.2 L737.5,520.4 L737.3,520.8 L737.0,521.0 L736.8,521.3 L736.4,521.2 L736.1,521.5 L735.9,521.8 L735.2,520.8 L735.4,522.6 L735.1,524.2 L735.6,524.0 L735.9,523.5 L736.9,525.0 L736.8,523.2 L737.3,523.2 L737.7,523.2 L738.4,523.4 L738.8,523.2 L739.1,522.9 L739.5,522.7 L739.9,522.5 L740.4,522.4 L740.8,522.1 L741.4,522.4 L741.7,522.0 L742.1,521.7 L742.5,521.6 L743.0,521.6 L743.4,521.3 L743.8,521.1 L744.0,520.2Z M734.1,522.8 L733.6,522.7 L733.3,523.3 L732.6,522.8 L732.2,523.1 L731.9,523.5 L731.2,523.0 L730.9,523.6 L730.4,523.6 L730.1,524.1 L729.4,523.8 L728.7,523.3 L728.8,524.7 L728.1,524.5 L727.9,525.2 L727.6,525.6 L727.2,525.8 L728.5,526.4 L728.9,526.5 L729.2,526.3 L729.7,526.6 L730.1,526.7 L730.1,525.8 L730.5,525.8 L730.8,525.4 L731.2,525.5 L731.6,525.6 L732.0,525.7 L732.2,525.2 L732.4,524.8 L733.0,525.3 L733.3,525.2 L733.4,524.4 L733.9,524.5Z M726.1,526.1 L725.6,526.0 L725.3,526.2 L725.3,526.8 L724.9,526.9 L724.5,526.9 L724.1,527.1 L723.9,527.3 L723.6,527.5 L722.9,527.2 L722.7,527.5 L722.7,528.1 L722.3,528.3 L722.2,528.6 L721.9,528.9 L721.8,529.3 L721.7,529.8 L721.2,529.6 L721.2,530.2 L720.9,531.5 L721.4,531.4 L722.4,531.8 L722.3,531.1 L722.7,530.8 L722.7,530.1 L723.0,529.7 L724.3,530.6 L724.1,529.7 L724.3,529.2 L724.8,529.1 L725.0,528.7 L725.5,528.6 L725.9,528.4 L726.0,527.8 L726.6,527.8 L726.7,527.1 L727.3,527.3 L727.4,526.7Z M720.1,530.8 L719.9,531.3 L719.5,531.5 L719.0,531.8 L718.6,532.0 L717.9,532.0 L717.7,532.4 L717.3,532.7 L716.9,532.9 L716.8,533.5 L716.2,533.5 L716.0,534.0 L715.9,534.5 L715.6,534.9 L715.7,535.1 L716.7,535.8 L717.0,535.6 L717.0,535.0 L717.2,534.8 L717.6,534.7 L717.9,534.6 L718.2,534.3 L718.3,534.0 L718.8,534.0 L718.9,533.6 L719.0,533.2 L719.3,533.0 L719.8,533.1 L719.8,532.6 L720.1,532.5Z" fill="#000"/><path d="M1114.3,276.5 L1109.5,271.0 M1103.9,269.4 L1100.0,267.3 M1091.6,271.6 L1088.2,276.8 M1085.1,278.5 L1082.7,282.2 M1082.8,286.4 L1083.1,292.5 M1083.7,297.4 L1083.4,300.8 M1078.9,305.0 L1079.5,310.6 M1078.7,318.7 L1079.6,321.1 M1080.0,332.7 L1081.3,336.0 M1080.7,346.6 L1082.4,350.6 M1082.8,354.9 L1082.8,359.4 M1081.7,363.1 L1082.3,369.8 M1079.5,372.7 L1079.7,377.6 M1081.9,382.7 L1080.7,387.2 M1081.9,391.7 L1081.6,397.5 M1082.8,402.2 L1081.4,406.9 M1077.7,418.1 L1077.2,421.3 M1075.1,429.3 L1074.2,431.8 M1068.6,431.5 L1066.6,429.6 M1059.5,425.7 L1053.6,422.4 M1047.7,416.8 L1045.5,415.9 M1041.4,407.5 L1037.3,402.3 M1032.0,395.4 L1029.2,391.5 M1027.1,390.5 L1026.6,387.5 M1020.1,377.5 L1017.7,373.6 M1013.4,373.4 L1011.1,371.5 M1005.5,370.7 L1003.4,371.1 M996.1,362.0 L992.9,361.9 M985.7,360.3 L983.1,360.3 M976.6,359.8 L972.7,361.0 M963.7,360.8 L960.1,363.0 M950.6,367.0 L948.0,366.8 M943.2,366.2 L937.5,367.1 M936.3,371.0 L934.7,373.0 M927.8,375.4 L921.3,376.7 M913.3,381.4 L908.7,382.6 M905.6,385.8 L901.3,388.6 M896.6,384.8 L892.9,386.2 M885.6,390.3 L879.7,394.5 M878.3,400.2 L876.6,403.3 M873.6,405.1 L871.9,409.6 M872.8,413.3 L870.6,418.3 M868.4,424.8 L868.6,430.7 M867.7,437.7 L866.6,440.9 M869.4,447.6 L869.8,452.6 M868.9,456.4 L870.1,459.3 M867.8,469.9 L866.5,472.4 M868.3,483.1 L869.1,489.5 M869.5,497.4 L868.5,504.0 M865.0,512.5 L859.5,516.5 M848.6,517.6 L843.1,515.9 M833.9,514.8 L827.7,513.5 M824.4,514.7 L818.9,514.5 M812.3,511.6 L809.7,510.8 M798.3,507.3 L792.6,507.8 M790.4,506.8 L788.2,507.1 M777.2,507.5 L771.0,508.7 M768.6,510.7 L766.4,511.7 M756.7,516.0 L754.8,516.9 M744.3,519.9 L739.7,522.7 M732.3,525.4 L726.2,526.7 M724.4,529.2 L723.2,530.3" fill="none" stroke="#fff" stroke-width="0.8" stroke-linecap="round"/><path d="M1020.7,135.2 Q1003.2,126.9 985.0,116.2 Q990.1,126.2 990.4,134.7 Q990.3,144.2 985.5,155.2 Q1003.4,144.0 1020.7,135.2 Z" fill="#000"/><path d="M2014.0,126.4 Q1996.9,118.1 1979.1,107.4 Q1984.1,117.2 1984.4,125.6 Q1984.2,134.8 1979.1,145.3 Q1996.9,134.7 2014.0,126.4 Z" fill="#000"/><path d="M686.9,546.6 Q700.8,532.8 714.7,516.6 Q712.9,528.4 715.2,537.4 Q718.8,545.8 727.4,554.0 Q706.4,549.3 686.9,546.6 Z" fill="#000"/><g fill="none" stroke="#000" stroke-linecap="round" stroke-linejoin="round"><path d="M 486.00,39.90 L 486.26,62.60 M 499.20,39.22 L 499.20,62.60 M 486.26,52.16 L 499.20,52.16" stroke-width="4.40"/><path d="M 507.30,40.35 C 512.52,39.90 519.48,39.90 524.70,39.45 M 515.65,40.81 L 516.00,62.60" stroke-width="4.40"/><path d="M 532.30,40.35 C 537.52,39.90 544.48,39.90 549.70,39.45 M 540.65,40.81 L 541.00,62.60" stroke-width="4.40"/><path d="M 559.48,62.60 L 558.90,39.90 L 564.65,39.90 C 569.25,39.90 570.40,42.85 570.40,45.35 C 570.40,48.53 568.10,50.34 564.65,50.34 L 560.05,50.34" stroke-width="4.40"/><path d="M582.45,43.90 l0,0.01 M582.45,61.80 l0,0.01" stroke-width="6.00"/><path d="M 609.80,24.20 L 593.50,65.80" stroke-width="4.40"/><path d="M 634.80,24.20 L 618.40,65.80" stroke-width="4.40"/><path d="M 643.40,39.90 L 644.98,64.19 M 643.40,39.90 C 652.09,40.58 659.20,47.84 659.20,55.34 C 659.20,61.69 655.72,62.26 645.30,62.26" stroke-width="4.40"/><path d="M 676.60,39.90 C 682.69,39.90 685.30,46.71 685.30,52.38 C 685.30,59.19 681.47,62.60 676.60,62.60 C 671.38,62.60 667.90,58.06 667.90,50.80 C 667.90,44.44 671.38,39.90 676.60,39.90 Z" stroke-width="4.40"/><path d="M 695.38,62.60 L 695.00,39.50 C 697.85,44.12 700.70,49.43 704.50,49.43 C 709.25,49.43 712.10,44.12 713.62,38.58 L 714.00,62.60" stroke-width="4.40"/><path d="M 723.20,62.70 C 725.16,52.67 728.09,40.85 731.35,40.40 C 734.28,42.63 737.06,52.67 739.50,62.70 M 725.81,53.78 L 736.57,54.23" stroke-width="4.40"/><path d="M 748.25,39.90 L 748.25,62.70" stroke-width="4.40"/><path d="M 757.00,62.70 L 757.85,40.81 C 763.76,46.74 768.83,55.86 773.90,62.70 L 773.56,38.99" stroke-width="4.40"/><path d="M 800.00,24.40 L 783.10,65.60" stroke-width="4.40"/><path d="M 807.40,62.70 L 807.40,40.85 C 814.10,39.95 820.80,40.40 820.80,45.98 C 820.80,49.77 815.44,51.55 808.47,52.67 M 811.42,54.45 C 815.44,57.12 818.79,60.47 820.13,62.70" stroke-width="4.40"/><path d="M 843.90,40.40 L 831.36,40.40 L 831.36,62.70 L 843.90,62.70 M 830.33,50.88 L 842.36,50.88" stroke-width="4.40"/><path d="M 862.82,40.40 C 870.00,40.40 873.07,47.09 873.07,51.55 C 873.07,58.24 868.97,62.70 862.82,62.70 C 856.67,62.70 853.60,57.12 853.60,51.55 C 853.60,44.86 856.67,40.40 862.82,40.40 Z M 864.88,53.78 L 874.10,62.70" stroke-width="4.40"/><path d="M 883.06,40.40 C 882.70,47.09 882.70,52.67 884.15,57.12 C 886.32,62.70 889.94,62.70 891.75,62.70 C 898.08,62.70 900.80,57.12 900.80,50.44 L 900.26,40.40" stroke-width="4.40"/><path d="M 922.80,40.40 L 910.26,40.40 L 910.26,62.70 L 922.80,62.70 M 909.23,50.88 L 921.26,50.88" stroke-width="4.40"/><path d="M 946.50,43.75 C 944.40,39.73 933.90,38.62 933.20,45.31 C 932.78,49.77 938.10,50.44 942.30,52.67 C 946.50,54.90 946.50,59.36 945.10,61.14 C 942.30,63.82 936.00,62.70 932.50,59.36" stroke-width="4.40"/><path d="M 954.50,40.85 C 959.75,40.40 966.75,40.40 972.00,39.95 M 962.90,41.29 L 963.25,62.70" stroke-width="4.40"/><path d="M 996.90,24.40 L 980.50,65.60" stroke-width="4.40"/><path d="M 1070.30,48.20 L 1072.33,84.79 M 1070.30,48.20 C 1081.47,49.23 1090.60,60.17 1090.60,71.46 C 1090.60,81.03 1086.13,81.89 1072.74,81.89" stroke-width="4.20"/><path d="M 1098.80,60.50 L 1098.80,82.40" stroke-width="4.20"/><path d="M 1120.52,62.69 C 1118.67,60.06 1116.54,60.50 1115.12,60.50 C 1110.15,60.50 1106.88,65.97 1106.88,72.55 C 1106.88,79.12 1110.86,81.96 1113.70,81.96 C 1117.25,81.96 1119.38,80.21 1119.81,75.83 M 1114.69,71.45 L 1119.95,72.76 L 1120.23,82.40" stroke-width="4.20"/><path d="M 1143.30,60.50 L 1132.32,60.50 L 1132.32,82.40 L 1143.30,82.40 M 1131.43,70.79 L 1141.96,70.79" stroke-width="4.20"/><path d="M 1167.90,63.79 C 1165.76,59.84 1155.03,58.75 1154.31,65.32 C 1153.89,69.70 1159.32,70.36 1163.61,72.55 C 1167.90,74.73 1167.90,79.12 1166.47,80.87 C 1163.61,83.50 1157.17,82.40 1153.60,79.12" stroke-width="4.20"/><path d="M 1175.60,60.94 C 1180.79,60.50 1187.71,60.50 1192.90,60.06 M 1183.90,61.38 L 1184.25,82.40" stroke-width="4.20"/><path d="M 1201.70,82.40 C 1204.20,66.97 1207.94,48.79 1212.10,48.10 C 1215.84,51.53 1219.38,66.97 1222.50,82.40 M 1207.94,65.25 L 1216.26,65.94" stroke-width="4.20"/><path d="M 1231.12,60.50 C 1230.80,67.07 1230.80,72.55 1232.09,76.93 C 1234.02,82.40 1237.24,82.40 1238.85,82.40 C 1244.49,82.40 1246.90,76.93 1246.90,70.36 L 1246.42,60.50" stroke-width="4.20"/><path d="M 1255.10,60.94 C 1260.35,60.50 1267.35,60.50 1272.60,60.06 M 1263.50,61.38 L 1263.85,82.40" stroke-width="4.20"/><path d="M 1281.90,60.50 L 1282.14,82.40 M 1294.10,59.84 L 1294.10,82.40 M 1282.14,72.33 L 1294.10,72.33" stroke-width="4.20"/><path d="M 1147.79,133.25 C 1147.45,139.94 1147.45,145.51 1148.79,149.97 C 1150.81,155.55 1154.17,155.55 1155.85,155.55 C 1161.73,155.55 1164.25,149.97 1164.25,143.28 L 1163.75,133.25" stroke-width="4.30"/><path d="M 1187.55,136.59 C 1185.43,132.58 1174.86,131.47 1174.15,138.16 C 1173.73,142.62 1179.09,143.28 1183.32,145.51 C 1187.55,147.74 1187.55,152.20 1186.14,153.99 C 1183.32,156.66 1176.97,155.55 1173.45,152.20" stroke-width="4.30"/><path d="M 1208.65,133.25 L 1196.99,133.25 L 1196.99,155.55 L 1208.65,155.55 M 1196.04,143.73 L 1207.22,143.73" stroke-width="4.30"/><path d="M 1218.95,155.55 L 1218.95,133.70 C 1225.20,132.80 1231.45,133.25 1231.45,138.82 C 1231.45,142.62 1226.45,144.40 1219.95,145.51 M 1222.70,147.30 C 1226.45,149.97 1229.57,153.32 1230.82,155.55" stroke-width="4.30"/><path d="M 1241.65,134.00 L 1254.15,121.35 L 1253.40,155.55" stroke-width="4.30"/><path d="M 1279.65,117.55 L 1263.85,158.25" stroke-width="4.30"/><path d="M 1288.20,155.55 L 1287.65,133.25 L 1293.10,133.25 C 1297.46,133.25 1298.55,136.15 1298.55,138.60 C 1298.55,141.72 1296.37,143.51 1293.10,143.51 L 1288.74,143.51" stroke-width="4.30"/><path d="M 1308.25,133.25 L 1312.49,155.55 L 1318.85,141.72 L 1325.21,155.55 L 1329.45,133.25" stroke-width="4.30"/><path d="M 1338.65,133.25 L 1340.17,157.11 M 1338.65,133.25 C 1347.01,133.92 1353.85,141.06 1353.85,148.41 C 1353.85,154.66 1350.51,155.22 1340.47,155.22" stroke-width="4.30"/><path d="M 1363.55,134.00 L 1376.05,121.35 L 1375.30,155.55" stroke-width="4.30"/><path d="M 1147.79,203.15 C 1147.45,209.99 1147.45,215.69 1148.79,220.25 C 1150.81,225.95 1154.17,225.95 1155.85,225.95 C 1161.73,225.95 1164.25,220.25 1164.25,213.41 L 1163.75,203.15" stroke-width="4.30"/><path d="M 1187.55,206.57 C 1185.43,202.47 1174.86,201.33 1174.15,208.17 C 1173.73,212.73 1179.09,213.41 1183.32,215.69 C 1187.55,217.97 1187.55,222.53 1186.14,224.35 C 1183.32,227.09 1176.97,225.95 1173.45,222.53" stroke-width="4.30"/><path d="M 1208.65,203.15 L 1196.99,203.15 L 1196.99,225.95 L 1208.65,225.95 M 1196.04,213.87 L 1207.22,213.87" stroke-width="4.30"/><path d="M 1218.95,225.95 L 1218.95,203.61 C 1225.20,202.69 1231.45,203.15 1231.45,208.85 C 1231.45,212.73 1226.45,214.55 1219.95,215.69 M 1222.70,217.51 C 1226.45,220.25 1229.57,223.67 1230.82,225.95" stroke-width="4.30"/><path d="M 1243.06,197.15 C 1246.68,191.94 1250.70,191.25 1253.31,191.25 C 1258.74,191.25 1260.14,198.19 1260.14,202.35 C 1260.14,210.33 1253.71,216.23 1242.05,225.95 L 1261.75,225.26" stroke-width="4.30"/><path d="M 1285.55,187.45 L 1269.85,228.65" stroke-width="4.30"/><path d="M 1295.32,225.95 L 1294.75,203.15 L 1300.45,203.15 C 1305.01,203.15 1306.15,206.11 1306.15,208.62 C 1306.15,211.81 1303.87,213.64 1300.45,213.64 L 1295.89,213.64" stroke-width="4.30"/><path d="M 1314.75,203.15 L 1318.97,225.95 L 1325.30,211.81 L 1331.63,225.95 L 1335.85,203.15" stroke-width="4.30"/><path d="M 1344.55,203.15 L 1346.07,227.55 M 1344.55,203.15 C 1352.91,203.83 1359.75,211.13 1359.75,218.65 C 1359.75,225.04 1356.41,225.61 1346.37,225.61" stroke-width="4.30"/><path d="M 1370.86,197.15 C 1374.47,191.94 1378.49,191.25 1381.11,191.25 C 1386.53,191.25 1387.94,198.19 1387.94,202.35 C 1387.94,210.33 1381.51,216.23 1369.85,225.95 L 1389.55,225.26" stroke-width="4.30"/><path d="M 1644.45,86.75 C 1646.38,76.49 1649.28,64.41 1652.50,63.95 C 1655.40,66.23 1658.13,76.49 1660.55,86.75 M 1647.03,77.63 L 1657.65,78.09" stroke-width="4.30"/><path d="M 1669.79,63.95 C 1669.45,70.79 1669.45,76.49 1670.83,81.05 C 1672.89,86.75 1676.33,86.75 1678.05,86.75 C 1684.07,86.75 1686.65,81.05 1686.65,74.21 L 1686.13,63.95" stroke-width="4.30"/><path d="M 1695.55,64.41 C 1700.71,63.95 1707.59,63.95 1712.75,63.49 M 1703.81,64.86 L 1704.15,86.75" stroke-width="4.30"/><path d="M 1721.65,63.95 L 1721.89,86.75 M 1733.65,63.27 L 1733.65,86.75 M 1721.89,76.26 L 1733.65,76.26" stroke-width="4.30"/><path d="M 1751.45,63.95 C 1757.26,63.95 1759.75,70.79 1759.75,76.49 C 1759.75,83.33 1756.10,86.75 1751.45,86.75 C 1746.47,86.75 1743.15,82.19 1743.15,74.89 C 1743.15,68.51 1746.47,63.95 1751.45,63.95 Z" stroke-width="4.30"/><path d="M 1769.65,86.75 L 1769.65,64.41 C 1776.20,63.49 1782.75,63.95 1782.75,69.65 C 1782.75,73.53 1777.51,75.35 1770.70,76.49 M 1773.58,78.31 C 1777.51,81.05 1780.79,84.47 1782.10,86.75" stroke-width="4.30"/><path d="M 1792.05,63.95 L 1792.05,86.75" stroke-width="4.30"/><path d="M 1801.35,64.63 L 1817.55,66.23 L 1801.35,86.75 L 1817.55,86.29 M 1802.97,74.21 L 1814.31,75.35" stroke-width="4.30"/><path d="M 1839.55,63.95 L 1827.20,63.95 L 1827.20,86.75 L 1839.55,86.75 M 1826.19,74.67 L 1838.04,74.67" stroke-width="4.30"/><path d="M 1850.45,63.95 L 1852.07,88.35 M 1850.45,63.95 C 1859.36,64.63 1866.65,71.93 1866.65,79.45 C 1866.65,85.84 1863.09,86.41 1852.39,86.41" stroke-width="4.30"/><path d="M 757.72,438.00 C 756.63,448.38 755.00,457.03 755.41,459.45 C 755.82,460.84 756.63,460.49 759.08,460.49 L 768.33,459.80 M 768.33,450.11 L 768.06,472.60" stroke-width="4.40"/><path d="M 785.70,438.00 C 791.86,438.00 794.50,448.38 794.50,457.03 C 794.50,467.41 790.63,472.60 785.70,472.60 C 780.42,472.60 776.90,465.68 776.90,454.61 C 776.90,444.92 780.42,438.00 785.70,438.00 Z" stroke-width="4.40"/><path d="M 802.80,450.80 L 815.40,438.00 L 814.64,472.60" stroke-width="4.40"/><path d="M 891.86,483.20 C 891.40,493.49 891.40,502.06 893.26,508.93 C 896.04,517.50 900.68,517.50 903.00,517.50 C 911.12,517.50 914.60,508.93 914.60,498.63 L 913.90,483.20" stroke-width="4.40"/><path d="M 923.30,517.50 L 924.09,496.38 C 929.62,502.10 934.36,510.90 939.10,517.50 L 938.78,494.62" stroke-width="4.40"/><path d="M 949.70,517.50 C 951.52,507.60 954.26,495.94 957.30,495.50 C 960.04,497.70 962.62,507.60 964.90,517.50 M 952.13,508.70 L 962.16,509.14" stroke-width="4.40"/><path d="M 975.84,495.50 C 975.50,502.10 975.50,507.60 976.86,512.00 C 978.90,517.50 982.30,517.50 984.00,517.50 C 989.95,517.50 992.50,512.00 992.50,505.40 L 991.99,495.50" stroke-width="4.40"/><path d="M 1000.60,495.94 C 1005.73,495.50 1012.57,495.50 1017.70,495.06 M 1008.81,496.38 L 1009.15,517.50" stroke-width="4.40"/><path d="M 1026.40,495.50 L 1026.65,517.50 M 1039.10,494.84 L 1039.10,517.50 M 1026.65,507.38 L 1039.10,507.38" stroke-width="4.40"/><path d="M 1057.00,495.50 C 1062.95,495.50 1065.50,502.10 1065.50,507.60 C 1065.50,514.20 1061.76,517.50 1057.00,517.50 C 1051.90,517.50 1048.50,513.10 1048.50,506.06 C 1048.50,499.90 1051.90,495.50 1057.00,495.50 Z" stroke-width="4.40"/><path d="M 1074.80,517.50 L 1074.80,495.94 C 1081.20,495.06 1087.60,495.50 1087.60,501.00 C 1087.60,504.74 1082.48,506.50 1075.82,507.60 M 1078.64,509.36 C 1082.48,512.00 1085.68,515.30 1086.96,517.50" stroke-width="4.40"/><path d="M 1098.45,495.50 L 1098.45,517.50" stroke-width="4.40"/><path d="M 1106.70,496.16 L 1122.60,497.70 L 1106.70,517.50 L 1122.60,517.06 M 1108.29,505.40 L 1119.42,506.50" stroke-width="4.40"/><path d="M 1145.30,495.50 L 1133.34,495.50 L 1133.34,517.50 L 1145.30,517.50 M 1132.37,505.84 L 1143.84,505.84" stroke-width="4.40"/><path d="M 1155.80,495.50 L 1157.33,519.04 M 1155.80,495.50 C 1164.21,496.16 1171.10,503.20 1171.10,510.46 C 1171.10,516.62 1167.73,517.17 1157.64,517.17" stroke-width="4.40"/></g></svg>
</body></html>
